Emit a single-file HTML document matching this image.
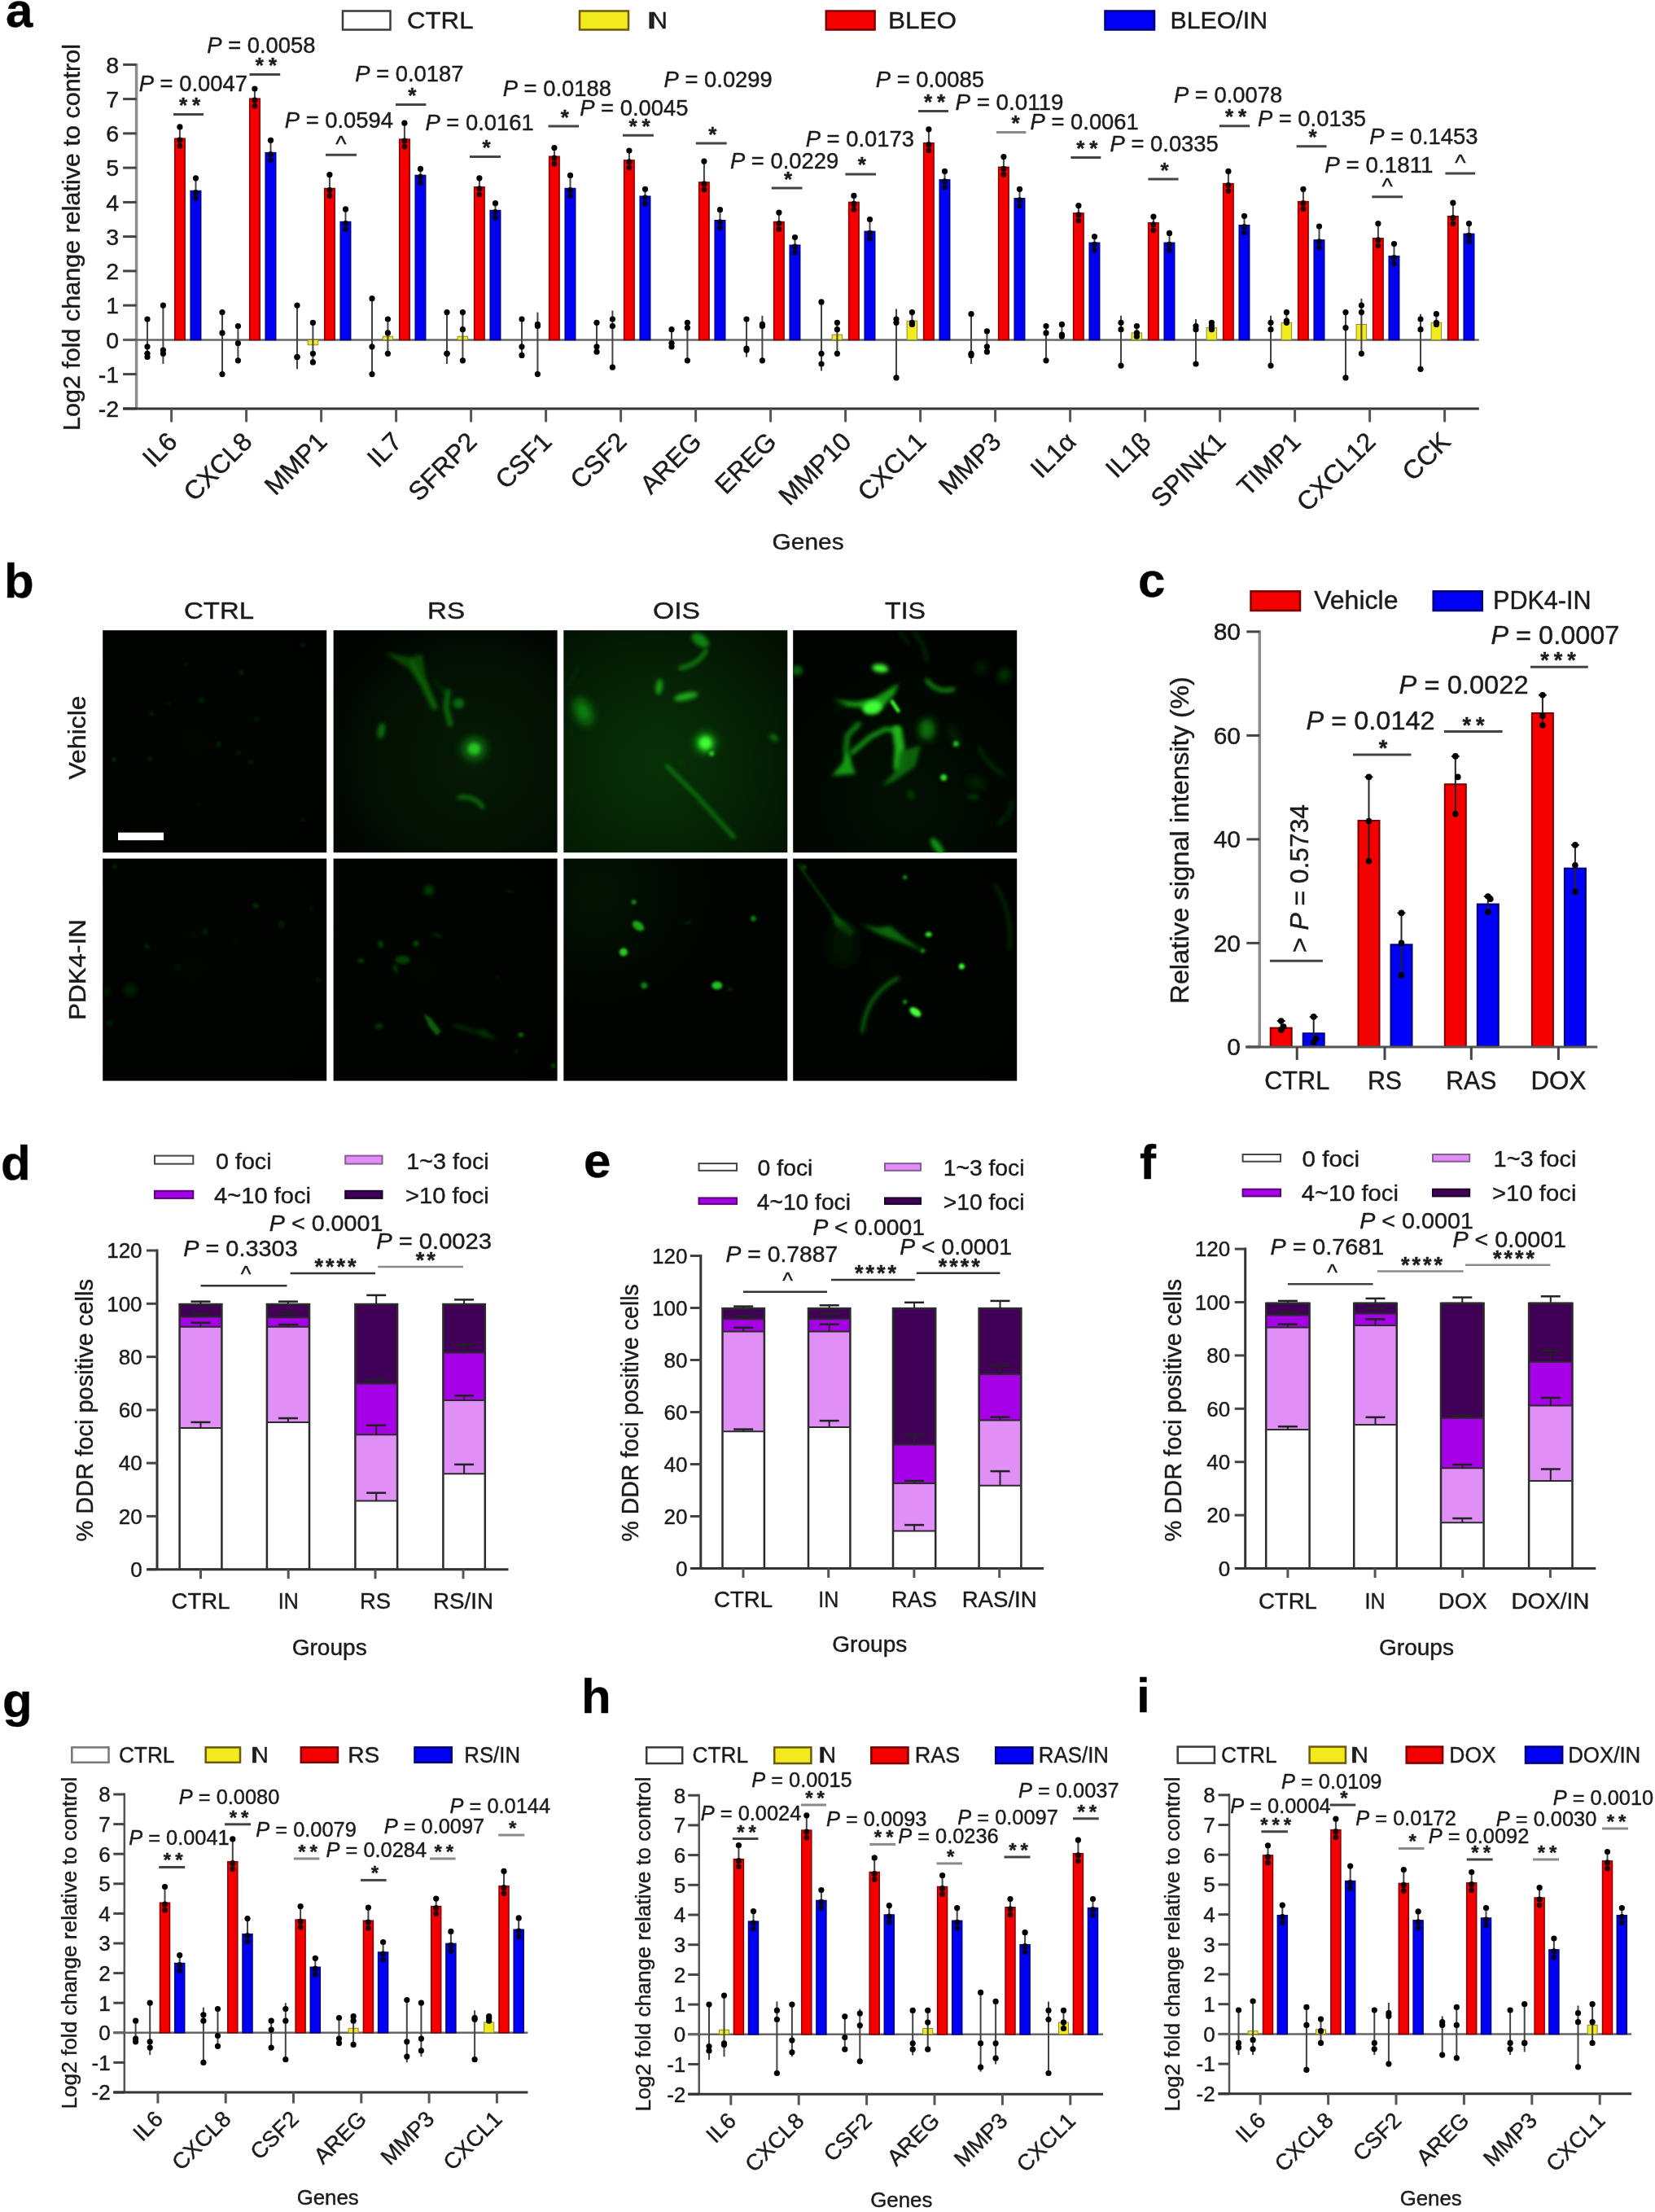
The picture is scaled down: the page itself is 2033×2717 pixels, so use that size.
<!DOCTYPE html>
<html lang="en"><head><meta charset="utf-8"><title>Figure</title>
<style>html,body{margin:0;padding:0;background:#fff}svg{display:block}text{font-family:"Liberation Sans", Arial, sans-serif;stroke:#1a1a1a;stroke-width:.4px}</style></head>
<body>
<svg width="2033" height="2717" viewBox="0 0 2033 2717" style="filter:blur(0.7px)">
<rect width="2033" height="2717" fill="#fff"/>
<line x1="167.6" y1="77.9" x2="167.6" y2="501.9" stroke="#8c8c8c" stroke-width="3.5" stroke-linecap="butt"/>
<line x1="151.1" y1="501.9" x2="167.6" y2="501.9" stroke="#444" stroke-width="3" stroke-linecap="butt"/>
<text x="146.0" y="512.1" font-size="28.5" fill="#1a1a1a" text-anchor="end">-2</text>
<line x1="151.1" y1="459.6" x2="167.6" y2="459.6" stroke="#444" stroke-width="3" stroke-linecap="butt"/>
<text x="146.0" y="469.9" font-size="28.5" fill="#1a1a1a" text-anchor="end">-1</text>
<line x1="151.1" y1="417.4" x2="167.6" y2="417.4" stroke="#444" stroke-width="3" stroke-linecap="butt"/>
<text x="146.0" y="427.6" font-size="28.5" fill="#1a1a1a" text-anchor="end">0</text>
<line x1="151.1" y1="375.1" x2="167.6" y2="375.1" stroke="#444" stroke-width="3" stroke-linecap="butt"/>
<text x="146.0" y="385.4" font-size="28.5" fill="#1a1a1a" text-anchor="end">1</text>
<line x1="151.1" y1="332.9" x2="167.6" y2="332.9" stroke="#444" stroke-width="3" stroke-linecap="butt"/>
<text x="146.0" y="343.1" font-size="28.5" fill="#1a1a1a" text-anchor="end">2</text>
<line x1="151.1" y1="290.6" x2="167.6" y2="290.6" stroke="#444" stroke-width="3" stroke-linecap="butt"/>
<text x="146.0" y="300.9" font-size="28.5" fill="#1a1a1a" text-anchor="end">3</text>
<line x1="151.1" y1="248.4" x2="167.6" y2="248.4" stroke="#444" stroke-width="3" stroke-linecap="butt"/>
<text x="146.0" y="258.6" font-size="28.5" fill="#1a1a1a" text-anchor="end">4</text>
<line x1="151.1" y1="206.1" x2="167.6" y2="206.1" stroke="#444" stroke-width="3" stroke-linecap="butt"/>
<text x="146.0" y="216.4" font-size="28.5" fill="#1a1a1a" text-anchor="end">5</text>
<line x1="151.1" y1="163.9" x2="167.6" y2="163.9" stroke="#444" stroke-width="3" stroke-linecap="butt"/>
<text x="146.0" y="174.1" font-size="28.5" fill="#1a1a1a" text-anchor="end">6</text>
<line x1="151.1" y1="121.6" x2="167.6" y2="121.6" stroke="#444" stroke-width="3" stroke-linecap="butt"/>
<text x="146.0" y="131.9" font-size="28.5" fill="#1a1a1a" text-anchor="end">7</text>
<line x1="151.1" y1="79.4" x2="167.6" y2="79.4" stroke="#444" stroke-width="3" stroke-linecap="butt"/>
<text x="146.0" y="89.6" font-size="28.5" fill="#1a1a1a" text-anchor="end">8</text>
<line x1="151.1" y1="417.4" x2="1816.8" y2="417.4" stroke="#666" stroke-width="2.5" stroke-linecap="butt"/>
<line x1="181.0" y1="392.0" x2="181.0" y2="438.5" stroke="#444" stroke-width="2" stroke-linecap="butt"/>
<circle cx="181.0" cy="392.0" r="3.6" fill="#000"/>
<circle cx="181.0" cy="425.8" r="3.6" fill="#000"/>
<circle cx="181.0" cy="434.3" r="3.6" fill="#000"/>
<circle cx="181.0" cy="438.5" r="3.6" fill="#000"/>
<line x1="200.4" y1="375.1" x2="200.4" y2="447.0" stroke="#444" stroke-width="2" stroke-linecap="butt"/>
<circle cx="200.4" cy="375.1" r="3.6" fill="#000"/>
<circle cx="200.4" cy="430.1" r="3.6" fill="#000"/>
<circle cx="200.4" cy="434.3" r="3.6" fill="#000"/>
<rect x="214.7" y="170.2" width="12.5" height="247.2" fill="#f40000" stroke="#8a0000" stroke-width="1.5"/>
<line x1="220.9" y1="155.9" x2="220.9" y2="170.2" stroke="#444" stroke-width="2" stroke-linecap="butt"/>
<circle cx="220.9" cy="155.9" r="3.6" fill="#000"/>
<circle cx="220.9" cy="172.2" r="3.6" fill="#1a0000"/>
<circle cx="220.9" cy="179.2" r="3.4" fill="#2a0000"/>
<rect x="234.2" y="234.5" width="12.5" height="182.9" fill="#0000f4" stroke="#00008a" stroke-width="1.5"/>
<line x1="240.5" y1="218.8" x2="240.5" y2="234.5" stroke="#444" stroke-width="2" stroke-linecap="butt"/>
<circle cx="240.5" cy="218.8" r="3.6" fill="#000"/>
<circle cx="240.5" cy="236.5" r="3.6" fill="#00001a"/>
<circle cx="240.5" cy="243.5" r="3.4" fill="#00002a"/>
<line x1="213.0" y1="140.5" x2="250.0" y2="140.5" stroke="#444" stroke-width="3" stroke-linecap="butt"/>
<text x="236.0" y="138.0" font-size="26" fill="#1a1a1a" text-anchor="middle" font-weight="bold" letter-spacing="6">**</text>
<text x="170.7" y="111.8" font-size="27" fill="#1a1a1a" textLength="133.2" lengthAdjust="spacingAndGlyphs"><tspan font-style="italic">P</tspan> = 0.0047</text>
<line x1="273.0" y1="383.6" x2="273.0" y2="459.6" stroke="#444" stroke-width="2" stroke-linecap="butt"/>
<circle cx="273.0" cy="383.6" r="3.6" fill="#000"/>
<circle cx="273.0" cy="408.9" r="3.6" fill="#000"/>
<circle cx="273.0" cy="459.6" r="3.6" fill="#000"/>
<line x1="292.4" y1="400.5" x2="292.4" y2="442.8" stroke="#444" stroke-width="2" stroke-linecap="butt"/>
<circle cx="292.4" cy="400.5" r="3.6" fill="#000"/>
<circle cx="292.4" cy="421.6" r="3.6" fill="#000"/>
<circle cx="292.4" cy="442.8" r="3.6" fill="#000"/>
<rect x="306.7" y="121.2" width="12.5" height="296.2" fill="#f40000" stroke="#8a0000" stroke-width="1.5"/>
<line x1="312.9" y1="109.0" x2="312.9" y2="121.2" stroke="#444" stroke-width="2" stroke-linecap="butt"/>
<circle cx="312.9" cy="109.0" r="3.6" fill="#000"/>
<circle cx="312.9" cy="123.2" r="3.6" fill="#1a0000"/>
<circle cx="312.9" cy="130.2" r="3.4" fill="#2a0000"/>
<rect x="326.2" y="187.6" width="12.5" height="229.8" fill="#0000f4" stroke="#00008a" stroke-width="1.5"/>
<line x1="332.5" y1="172.3" x2="332.5" y2="187.6" stroke="#444" stroke-width="2" stroke-linecap="butt"/>
<circle cx="332.5" cy="172.3" r="3.6" fill="#000"/>
<circle cx="332.5" cy="189.6" r="3.6" fill="#00001a"/>
<circle cx="332.5" cy="196.6" r="3.4" fill="#00002a"/>
<line x1="306.5" y1="91.5" x2="344.2" y2="91.5" stroke="#444" stroke-width="3" stroke-linecap="butt"/>
<text x="329.9" y="89.0" font-size="26" fill="#1a1a1a" text-anchor="middle" font-weight="bold" letter-spacing="6">**</text>
<text x="254.3" y="65.4" font-size="27" fill="#1a1a1a" textLength="133.2" lengthAdjust="spacingAndGlyphs"><tspan font-style="italic">P</tspan> = 0.0058</text>
<line x1="365.0" y1="375.1" x2="365.0" y2="453.3" stroke="#444" stroke-width="2" stroke-linecap="butt"/>
<circle cx="365.0" cy="375.1" r="3.6" fill="#000"/>
<circle cx="365.0" cy="438.5" r="3.6" fill="#000"/>
<circle cx="365.0" cy="438.5" r="3.6" fill="#000"/>
<rect x="378.2" y="417.4" width="12.5" height="6.3" fill="#f2ea1d" stroke="#8b8b30" stroke-width="1"/>
<line x1="384.4" y1="396.3" x2="384.4" y2="444.9" stroke="#444" stroke-width="2" stroke-linecap="butt"/>
<circle cx="384.4" cy="396.3" r="3.6" fill="#000"/>
<circle cx="384.4" cy="434.3" r="3.6" fill="#000"/>
<circle cx="384.4" cy="444.9" r="3.6" fill="#000"/>
<rect x="398.7" y="231.5" width="12.5" height="185.9" fill="#f40000" stroke="#8a0000" stroke-width="1.5"/>
<line x1="404.9" y1="214.6" x2="404.9" y2="231.5" stroke="#444" stroke-width="2" stroke-linecap="butt"/>
<circle cx="404.9" cy="214.6" r="3.6" fill="#000"/>
<circle cx="404.9" cy="233.5" r="3.6" fill="#1a0000"/>
<circle cx="404.9" cy="240.5" r="3.4" fill="#2a0000"/>
<rect x="418.2" y="272.5" width="12.5" height="144.9" fill="#0000f4" stroke="#00008a" stroke-width="1.5"/>
<line x1="424.5" y1="256.9" x2="424.5" y2="272.5" stroke="#444" stroke-width="2" stroke-linecap="butt"/>
<circle cx="424.5" cy="256.9" r="3.6" fill="#000"/>
<circle cx="424.5" cy="274.5" r="3.6" fill="#00001a"/>
<circle cx="424.5" cy="281.5" r="3.4" fill="#00002a"/>
<line x1="400.0" y1="190.3" x2="438.0" y2="190.3" stroke="#444" stroke-width="3" stroke-linecap="butt"/>
<text x="419.0" y="186.3" font-size="28.35" fill="#1a1a1a" text-anchor="middle">^</text>
<text x="349.8" y="157.1" font-size="27" fill="#1a1a1a" textLength="133.2" lengthAdjust="spacingAndGlyphs"><tspan font-style="italic">P</tspan> = 0.0594</text>
<line x1="457.0" y1="366.7" x2="457.0" y2="459.6" stroke="#444" stroke-width="2" stroke-linecap="butt"/>
<circle cx="457.0" cy="366.7" r="3.6" fill="#000"/>
<circle cx="457.0" cy="425.8" r="3.6" fill="#000"/>
<circle cx="457.0" cy="459.6" r="3.6" fill="#000"/>
<rect x="470.2" y="413.2" width="12.5" height="4.2" fill="#f2ea1d" stroke="#8b8b30" stroke-width="1"/>
<line x1="476.4" y1="392.0" x2="476.4" y2="434.3" stroke="#444" stroke-width="2" stroke-linecap="butt"/>
<circle cx="476.4" cy="392.0" r="3.6" fill="#000"/>
<circle cx="476.4" cy="408.9" r="3.6" fill="#000"/>
<circle cx="476.4" cy="434.3" r="3.6" fill="#000"/>
<rect x="490.7" y="171.1" width="12.5" height="246.3" fill="#f40000" stroke="#8a0000" stroke-width="1.5"/>
<line x1="496.9" y1="151.2" x2="496.9" y2="171.1" stroke="#444" stroke-width="2" stroke-linecap="butt"/>
<circle cx="496.9" cy="151.2" r="3.6" fill="#000"/>
<circle cx="496.9" cy="173.1" r="3.6" fill="#1a0000"/>
<circle cx="496.9" cy="180.1" r="3.4" fill="#2a0000"/>
<rect x="510.2" y="215.4" width="12.5" height="202.0" fill="#0000f4" stroke="#00008a" stroke-width="1.5"/>
<line x1="516.5" y1="207.4" x2="516.5" y2="215.4" stroke="#444" stroke-width="2" stroke-linecap="butt"/>
<circle cx="516.5" cy="207.4" r="3.6" fill="#000"/>
<circle cx="516.5" cy="217.4" r="3.6" fill="#00001a"/>
<circle cx="516.5" cy="224.4" r="3.4" fill="#00002a"/>
<line x1="486.0" y1="128.4" x2="523.4" y2="128.4" stroke="#444" stroke-width="3" stroke-linecap="butt"/>
<text x="509.2" y="125.9" font-size="26" fill="#1a1a1a" text-anchor="middle" font-weight="bold" letter-spacing="6">*</text>
<text x="436.3" y="99.7" font-size="27" fill="#1a1a1a" textLength="133.2" lengthAdjust="spacingAndGlyphs"><tspan font-style="italic">P</tspan> = 0.0187</text>
<line x1="549.0" y1="383.6" x2="549.0" y2="447.0" stroke="#444" stroke-width="2" stroke-linecap="butt"/>
<circle cx="549.0" cy="383.6" r="3.6" fill="#000"/>
<circle cx="549.0" cy="434.3" r="3.6" fill="#000"/>
<circle cx="549.0" cy="434.3" r="3.6" fill="#000"/>
<rect x="562.1" y="413.2" width="12.5" height="4.2" fill="#f2ea1d" stroke="#8b8b30" stroke-width="1"/>
<line x1="568.4" y1="383.6" x2="568.4" y2="442.8" stroke="#444" stroke-width="2" stroke-linecap="butt"/>
<circle cx="568.4" cy="383.6" r="3.6" fill="#000"/>
<circle cx="568.4" cy="404.7" r="3.6" fill="#000"/>
<circle cx="568.4" cy="442.8" r="3.6" fill="#000"/>
<rect x="582.6" y="229.8" width="12.5" height="187.6" fill="#f40000" stroke="#8a0000" stroke-width="1.5"/>
<line x1="588.9" y1="218.8" x2="588.9" y2="229.8" stroke="#444" stroke-width="2" stroke-linecap="butt"/>
<circle cx="588.9" cy="218.8" r="3.6" fill="#000"/>
<circle cx="588.9" cy="231.8" r="3.6" fill="#1a0000"/>
<circle cx="588.9" cy="238.8" r="3.4" fill="#2a0000"/>
<rect x="602.2" y="258.5" width="12.5" height="158.9" fill="#0000f4" stroke="#00008a" stroke-width="1.5"/>
<line x1="608.5" y1="249.7" x2="608.5" y2="258.5" stroke="#444" stroke-width="2" stroke-linecap="butt"/>
<circle cx="608.5" cy="249.7" r="3.6" fill="#000"/>
<circle cx="608.5" cy="260.5" r="3.6" fill="#00001a"/>
<circle cx="608.5" cy="267.5" r="3.4" fill="#00002a"/>
<line x1="577.0" y1="192.4" x2="615.0" y2="192.4" stroke="#444" stroke-width="3" stroke-linecap="butt"/>
<text x="600.5" y="189.9" font-size="26" fill="#1a1a1a" text-anchor="middle" font-weight="bold" letter-spacing="6">*</text>
<text x="522.5" y="160.1" font-size="27" fill="#1a1a1a" textLength="133.2" lengthAdjust="spacingAndGlyphs"><tspan font-style="italic">P</tspan> = 0.0161</text>
<line x1="641.0" y1="392.0" x2="641.0" y2="436.4" stroke="#444" stroke-width="2" stroke-linecap="butt"/>
<circle cx="641.0" cy="392.0" r="3.6" fill="#000"/>
<circle cx="641.0" cy="425.8" r="3.6" fill="#000"/>
<circle cx="641.0" cy="436.4" r="3.6" fill="#000"/>
<line x1="660.4" y1="383.6" x2="660.4" y2="459.6" stroke="#444" stroke-width="2" stroke-linecap="butt"/>
<circle cx="660.4" cy="398.4" r="3.6" fill="#000"/>
<circle cx="660.4" cy="400.5" r="3.6" fill="#000"/>
<circle cx="660.4" cy="459.6" r="3.6" fill="#000"/>
<rect x="674.6" y="192.2" width="12.5" height="225.2" fill="#f40000" stroke="#8a0000" stroke-width="1.5"/>
<line x1="680.9" y1="181.6" x2="680.9" y2="192.2" stroke="#444" stroke-width="2" stroke-linecap="butt"/>
<circle cx="680.9" cy="181.6" r="3.6" fill="#000"/>
<circle cx="680.9" cy="194.2" r="3.6" fill="#1a0000"/>
<circle cx="680.9" cy="201.2" r="3.4" fill="#2a0000"/>
<rect x="694.2" y="231.5" width="12.5" height="185.9" fill="#0000f4" stroke="#00008a" stroke-width="1.5"/>
<line x1="700.5" y1="215.4" x2="700.5" y2="231.5" stroke="#444" stroke-width="2" stroke-linecap="butt"/>
<circle cx="700.5" cy="215.4" r="3.6" fill="#000"/>
<circle cx="700.5" cy="233.5" r="3.6" fill="#00001a"/>
<circle cx="700.5" cy="240.5" r="3.4" fill="#00002a"/>
<line x1="673.6" y1="155.0" x2="711.0" y2="155.0" stroke="#444" stroke-width="3" stroke-linecap="butt"/>
<text x="696.8" y="152.5" font-size="26" fill="#1a1a1a" text-anchor="middle" font-weight="bold" letter-spacing="6">*</text>
<text x="617.7" y="117.8" font-size="27" fill="#1a1a1a" textLength="133.2" lengthAdjust="spacingAndGlyphs"><tspan font-style="italic">P</tspan> = 0.0188</text>
<line x1="733.0" y1="396.3" x2="733.0" y2="432.2" stroke="#444" stroke-width="2" stroke-linecap="butt"/>
<circle cx="733.0" cy="396.3" r="3.6" fill="#000"/>
<circle cx="733.0" cy="425.8" r="3.6" fill="#000"/>
<circle cx="733.0" cy="432.2" r="3.6" fill="#000"/>
<line x1="752.4" y1="381.5" x2="752.4" y2="451.2" stroke="#444" stroke-width="2" stroke-linecap="butt"/>
<circle cx="752.4" cy="392.0" r="3.6" fill="#000"/>
<circle cx="752.4" cy="400.5" r="3.6" fill="#000"/>
<circle cx="752.4" cy="451.2" r="3.6" fill="#000"/>
<rect x="766.6" y="196.9" width="12.5" height="220.5" fill="#f40000" stroke="#8a0000" stroke-width="1.5"/>
<line x1="772.9" y1="185.0" x2="772.9" y2="196.9" stroke="#444" stroke-width="2" stroke-linecap="butt"/>
<circle cx="772.9" cy="185.0" r="3.6" fill="#000"/>
<circle cx="772.9" cy="198.9" r="3.6" fill="#1a0000"/>
<circle cx="772.9" cy="205.9" r="3.4" fill="#2a0000"/>
<rect x="786.2" y="241.2" width="12.5" height="176.2" fill="#0000f4" stroke="#00008a" stroke-width="1.5"/>
<line x1="792.5" y1="232.3" x2="792.5" y2="241.2" stroke="#444" stroke-width="2" stroke-linecap="butt"/>
<circle cx="792.5" cy="232.3" r="3.6" fill="#000"/>
<circle cx="792.5" cy="243.2" r="3.6" fill="#00001a"/>
<circle cx="792.5" cy="250.2" r="3.4" fill="#00002a"/>
<line x1="765.0" y1="166.2" x2="802.9" y2="166.2" stroke="#444" stroke-width="3" stroke-linecap="butt"/>
<text x="788.5" y="163.7" font-size="26" fill="#1a1a1a" text-anchor="middle" font-weight="bold" letter-spacing="6">**</text>
<text x="712.2" y="142.0" font-size="27" fill="#1a1a1a" textLength="133.2" lengthAdjust="spacingAndGlyphs"><tspan font-style="italic">P</tspan> = 0.0045</text>
<line x1="825.0" y1="404.7" x2="825.0" y2="425.8" stroke="#444" stroke-width="2" stroke-linecap="butt"/>
<circle cx="825.0" cy="404.7" r="3.6" fill="#000"/>
<circle cx="825.0" cy="421.6" r="3.6" fill="#000"/>
<circle cx="825.0" cy="425.8" r="3.6" fill="#000"/>
<line x1="844.4" y1="396.3" x2="844.4" y2="442.8" stroke="#444" stroke-width="2" stroke-linecap="butt"/>
<circle cx="844.4" cy="396.3" r="3.6" fill="#000"/>
<circle cx="844.4" cy="402.6" r="3.6" fill="#000"/>
<circle cx="844.4" cy="442.8" r="3.6" fill="#000"/>
<rect x="858.6" y="223.9" width="12.5" height="193.5" fill="#f40000" stroke="#8a0000" stroke-width="1.5"/>
<line x1="864.9" y1="198.1" x2="864.9" y2="223.9" stroke="#444" stroke-width="2" stroke-linecap="butt"/>
<circle cx="864.9" cy="198.1" r="3.6" fill="#000"/>
<circle cx="864.9" cy="225.9" r="3.6" fill="#1a0000"/>
<circle cx="864.9" cy="232.9" r="3.4" fill="#2a0000"/>
<rect x="878.2" y="270.8" width="12.5" height="146.6" fill="#0000f4" stroke="#00008a" stroke-width="1.5"/>
<line x1="884.5" y1="257.7" x2="884.5" y2="270.8" stroke="#444" stroke-width="2" stroke-linecap="butt"/>
<circle cx="884.5" cy="257.7" r="3.6" fill="#000"/>
<circle cx="884.5" cy="272.8" r="3.6" fill="#00001a"/>
<circle cx="884.5" cy="279.8" r="3.4" fill="#00002a"/>
<line x1="854.8" y1="176.1" x2="892.6" y2="176.1" stroke="#444" stroke-width="3" stroke-linecap="butt"/>
<text x="878.2" y="173.6" font-size="26" fill="#1a1a1a" text-anchor="middle" font-weight="bold" letter-spacing="6">*</text>
<text x="815.6" y="107.2" font-size="27" fill="#1a1a1a" textLength="133.2" lengthAdjust="spacingAndGlyphs"><tspan font-style="italic">P</tspan> = 0.0299</text>
<line x1="917.0" y1="392.0" x2="917.0" y2="438.5" stroke="#444" stroke-width="2" stroke-linecap="butt"/>
<circle cx="917.0" cy="392.0" r="3.6" fill="#000"/>
<circle cx="917.0" cy="428.0" r="3.6" fill="#000"/>
<circle cx="917.0" cy="430.1" r="3.6" fill="#000"/>
<line x1="936.4" y1="387.8" x2="936.4" y2="442.8" stroke="#444" stroke-width="2" stroke-linecap="butt"/>
<circle cx="936.4" cy="398.4" r="3.6" fill="#000"/>
<circle cx="936.4" cy="400.5" r="3.6" fill="#000"/>
<circle cx="936.4" cy="442.8" r="3.6" fill="#000"/>
<rect x="950.6" y="272.5" width="12.5" height="144.9" fill="#f40000" stroke="#8a0000" stroke-width="1.5"/>
<line x1="956.9" y1="261.1" x2="956.9" y2="272.5" stroke="#444" stroke-width="2" stroke-linecap="butt"/>
<circle cx="956.9" cy="261.1" r="3.6" fill="#000"/>
<circle cx="956.9" cy="274.5" r="3.6" fill="#1a0000"/>
<circle cx="956.9" cy="281.5" r="3.4" fill="#2a0000"/>
<rect x="970.2" y="301.2" width="12.5" height="116.2" fill="#0000f4" stroke="#00008a" stroke-width="1.5"/>
<line x1="976.5" y1="291.5" x2="976.5" y2="301.2" stroke="#444" stroke-width="2" stroke-linecap="butt"/>
<circle cx="976.5" cy="291.5" r="3.6" fill="#000"/>
<circle cx="976.5" cy="303.2" r="3.6" fill="#00001a"/>
<circle cx="976.5" cy="310.2" r="3.4" fill="#00002a"/>
<line x1="947.7" y1="231.0" x2="985.5" y2="231.0" stroke="#444" stroke-width="3" stroke-linecap="butt"/>
<text x="971.1" y="228.5" font-size="26" fill="#1a1a1a" text-anchor="middle" font-weight="bold" letter-spacing="6">*</text>
<text x="897.0" y="206.9" font-size="27" fill="#1a1a1a" textLength="133.2" lengthAdjust="spacingAndGlyphs"><tspan font-style="italic">P</tspan> = 0.0229</text>
<line x1="1009.0" y1="370.9" x2="1009.0" y2="455.4" stroke="#444" stroke-width="2" stroke-linecap="butt"/>
<circle cx="1009.0" cy="370.9" r="3.6" fill="#000"/>
<circle cx="1009.0" cy="434.3" r="3.6" fill="#000"/>
<circle cx="1009.0" cy="447.0" r="3.6" fill="#000"/>
<rect x="1022.1" y="411.1" width="12.5" height="6.3" fill="#f2ea1d" stroke="#8b8b30" stroke-width="1"/>
<line x1="1028.4" y1="396.3" x2="1028.4" y2="434.3" stroke="#444" stroke-width="2" stroke-linecap="butt"/>
<circle cx="1028.4" cy="396.3" r="3.6" fill="#000"/>
<circle cx="1028.4" cy="404.7" r="3.6" fill="#000"/>
<circle cx="1028.4" cy="434.3" r="3.6" fill="#000"/>
<rect x="1042.6" y="248.4" width="12.5" height="169.0" fill="#f40000" stroke="#8a0000" stroke-width="1.5"/>
<line x1="1048.9" y1="240.4" x2="1048.9" y2="248.4" stroke="#444" stroke-width="2" stroke-linecap="butt"/>
<circle cx="1048.9" cy="240.4" r="3.6" fill="#000"/>
<circle cx="1048.9" cy="250.4" r="3.6" fill="#1a0000"/>
<circle cx="1048.9" cy="257.4" r="3.4" fill="#2a0000"/>
<rect x="1062.2" y="284.3" width="12.5" height="133.1" fill="#0000f4" stroke="#00008a" stroke-width="1.5"/>
<line x1="1068.5" y1="269.5" x2="1068.5" y2="284.3" stroke="#444" stroke-width="2" stroke-linecap="butt"/>
<circle cx="1068.5" cy="269.5" r="3.6" fill="#000"/>
<circle cx="1068.5" cy="286.3" r="3.6" fill="#00001a"/>
<circle cx="1068.5" cy="293.3" r="3.4" fill="#00002a"/>
<line x1="1038.4" y1="213.9" x2="1076.0" y2="213.9" stroke="#444" stroke-width="3" stroke-linecap="butt"/>
<text x="1061.7" y="211.4" font-size="26" fill="#1a1a1a" text-anchor="middle" font-weight="bold" letter-spacing="6">*</text>
<text x="989.7" y="179.7" font-size="27" fill="#1a1a1a" textLength="133.2" lengthAdjust="spacingAndGlyphs"><tspan font-style="italic">P</tspan> = 0.0173</text>
<line x1="1101.0" y1="379.4" x2="1101.0" y2="463.9" stroke="#444" stroke-width="2" stroke-linecap="butt"/>
<circle cx="1101.0" cy="392.0" r="3.6" fill="#000"/>
<circle cx="1101.0" cy="396.3" r="3.6" fill="#000"/>
<circle cx="1101.0" cy="463.9" r="3.6" fill="#000"/>
<rect x="1114.1" y="394.2" width="12.5" height="23.2" fill="#f2ea1d" stroke="#8b8b30" stroke-width="1"/>
<line x1="1120.4" y1="383.6" x2="1120.4" y2="398.4" stroke="#444" stroke-width="2" stroke-linecap="butt"/>
<circle cx="1120.4" cy="383.6" r="3.6" fill="#000"/>
<circle cx="1120.4" cy="396.3" r="3.6" fill="#000"/>
<circle cx="1120.4" cy="398.4" r="3.6" fill="#000"/>
<rect x="1134.6" y="175.7" width="12.5" height="241.7" fill="#f40000" stroke="#8a0000" stroke-width="1.5"/>
<line x1="1140.9" y1="158.8" x2="1140.9" y2="175.7" stroke="#444" stroke-width="2" stroke-linecap="butt"/>
<circle cx="1140.9" cy="158.8" r="3.6" fill="#000"/>
<circle cx="1140.9" cy="177.7" r="3.6" fill="#1a0000"/>
<circle cx="1140.9" cy="184.7" r="3.4" fill="#2a0000"/>
<rect x="1154.2" y="220.9" width="12.5" height="196.5" fill="#0000f4" stroke="#00008a" stroke-width="1.5"/>
<line x1="1160.5" y1="210.4" x2="1160.5" y2="220.9" stroke="#444" stroke-width="2" stroke-linecap="butt"/>
<circle cx="1160.5" cy="210.4" r="3.6" fill="#000"/>
<circle cx="1160.5" cy="222.9" r="3.6" fill="#00001a"/>
<circle cx="1160.5" cy="229.9" r="3.4" fill="#00002a"/>
<line x1="1128.0" y1="136.6" x2="1165.0" y2="136.6" stroke="#444" stroke-width="3" stroke-linecap="butt"/>
<text x="1151.0" y="134.1" font-size="26" fill="#1a1a1a" text-anchor="middle" font-weight="bold" letter-spacing="6">**</text>
<text x="1075.8" y="107.2" font-size="27" fill="#1a1a1a" textLength="133.2" lengthAdjust="spacingAndGlyphs"><tspan font-style="italic">P</tspan> = 0.0085</text>
<line x1="1193.0" y1="385.7" x2="1193.0" y2="447.0" stroke="#444" stroke-width="2" stroke-linecap="butt"/>
<circle cx="1193.0" cy="385.7" r="3.6" fill="#000"/>
<circle cx="1193.0" cy="434.3" r="3.6" fill="#000"/>
<circle cx="1193.0" cy="436.4" r="3.6" fill="#000"/>
<line x1="1212.4" y1="406.8" x2="1212.4" y2="432.2" stroke="#444" stroke-width="2" stroke-linecap="butt"/>
<circle cx="1212.4" cy="406.8" r="3.6" fill="#000"/>
<circle cx="1212.4" cy="425.8" r="3.6" fill="#000"/>
<circle cx="1212.4" cy="432.2" r="3.6" fill="#000"/>
<rect x="1226.6" y="205.3" width="12.5" height="212.1" fill="#f40000" stroke="#8a0000" stroke-width="1.5"/>
<line x1="1232.9" y1="192.6" x2="1232.9" y2="205.3" stroke="#444" stroke-width="2" stroke-linecap="butt"/>
<circle cx="1232.9" cy="192.6" r="3.6" fill="#000"/>
<circle cx="1232.9" cy="207.3" r="3.6" fill="#1a0000"/>
<circle cx="1232.9" cy="214.3" r="3.4" fill="#2a0000"/>
<rect x="1246.2" y="243.8" width="12.5" height="173.6" fill="#0000f4" stroke="#00008a" stroke-width="1.5"/>
<line x1="1252.5" y1="232.3" x2="1252.5" y2="243.8" stroke="#444" stroke-width="2" stroke-linecap="butt"/>
<circle cx="1252.5" cy="232.3" r="3.6" fill="#000"/>
<circle cx="1252.5" cy="245.8" r="3.6" fill="#00001a"/>
<circle cx="1252.5" cy="252.8" r="3.4" fill="#00002a"/>
<line x1="1223.9" y1="162.5" x2="1260.4" y2="162.5" stroke="#8a8a8a" stroke-width="3" stroke-linecap="butt"/>
<text x="1250.5" y="160.0" font-size="26" fill="#1a1a1a" text-anchor="middle" font-weight="bold" letter-spacing="6">*</text>
<text x="1173.4" y="134.5" font-size="27" fill="#1a1a1a" textLength="133.2" lengthAdjust="spacingAndGlyphs"><tspan font-style="italic">P</tspan> = 0.0119</text>
<line x1="1285.0" y1="400.5" x2="1285.0" y2="442.8" stroke="#444" stroke-width="2" stroke-linecap="butt"/>
<circle cx="1285.0" cy="400.5" r="3.6" fill="#000"/>
<circle cx="1285.0" cy="408.9" r="3.6" fill="#000"/>
<circle cx="1285.0" cy="442.8" r="3.6" fill="#000"/>
<line x1="1304.4" y1="398.4" x2="1304.4" y2="413.2" stroke="#444" stroke-width="2" stroke-linecap="butt"/>
<circle cx="1304.4" cy="398.4" r="3.6" fill="#000"/>
<circle cx="1304.4" cy="411.1" r="3.6" fill="#000"/>
<circle cx="1304.4" cy="413.2" r="3.6" fill="#000"/>
<rect x="1318.6" y="261.9" width="12.5" height="155.5" fill="#f40000" stroke="#8a0000" stroke-width="1.5"/>
<line x1="1324.9" y1="252.6" x2="1324.9" y2="261.9" stroke="#444" stroke-width="2" stroke-linecap="butt"/>
<circle cx="1324.9" cy="252.6" r="3.6" fill="#000"/>
<circle cx="1324.9" cy="263.9" r="3.6" fill="#1a0000"/>
<circle cx="1324.9" cy="270.9" r="3.4" fill="#2a0000"/>
<rect x="1338.2" y="298.3" width="12.5" height="119.1" fill="#0000f4" stroke="#00008a" stroke-width="1.5"/>
<line x1="1344.5" y1="290.6" x2="1344.5" y2="298.3" stroke="#444" stroke-width="2" stroke-linecap="butt"/>
<circle cx="1344.5" cy="290.6" r="3.6" fill="#000"/>
<circle cx="1344.5" cy="300.3" r="3.6" fill="#00001a"/>
<circle cx="1344.5" cy="307.3" r="3.4" fill="#00002a"/>
<line x1="1315.4" y1="193.4" x2="1352.3" y2="193.4" stroke="#444" stroke-width="3" stroke-linecap="butt"/>
<text x="1338.3" y="190.9" font-size="26" fill="#1a1a1a" text-anchor="middle" font-weight="bold" letter-spacing="6">**</text>
<text x="1265.6" y="158.5" font-size="27" fill="#1a1a1a" textLength="133.2" lengthAdjust="spacingAndGlyphs"><tspan font-style="italic">P</tspan> = 0.0061</text>
<line x1="1377.0" y1="387.8" x2="1377.0" y2="449.1" stroke="#444" stroke-width="2" stroke-linecap="butt"/>
<circle cx="1377.0" cy="396.3" r="3.6" fill="#000"/>
<circle cx="1377.0" cy="404.7" r="3.6" fill="#000"/>
<circle cx="1377.0" cy="449.1" r="3.6" fill="#000"/>
<rect x="1390.1" y="408.9" width="12.5" height="8.4" fill="#f2ea1d" stroke="#8b8b30" stroke-width="1"/>
<line x1="1396.4" y1="400.5" x2="1396.4" y2="413.2" stroke="#444" stroke-width="2" stroke-linecap="butt"/>
<circle cx="1396.4" cy="400.5" r="3.6" fill="#000"/>
<circle cx="1396.4" cy="408.9" r="3.6" fill="#000"/>
<circle cx="1396.4" cy="413.2" r="3.6" fill="#000"/>
<rect x="1410.6" y="273.8" width="12.5" height="143.6" fill="#f40000" stroke="#8a0000" stroke-width="1.5"/>
<line x1="1416.9" y1="266.1" x2="1416.9" y2="273.8" stroke="#444" stroke-width="2" stroke-linecap="butt"/>
<circle cx="1416.9" cy="266.1" r="3.6" fill="#000"/>
<circle cx="1416.9" cy="275.8" r="3.6" fill="#1a0000"/>
<circle cx="1416.9" cy="282.8" r="3.4" fill="#2a0000"/>
<rect x="1430.2" y="298.3" width="12.5" height="119.1" fill="#0000f4" stroke="#00008a" stroke-width="1.5"/>
<line x1="1436.5" y1="286.4" x2="1436.5" y2="298.3" stroke="#444" stroke-width="2" stroke-linecap="butt"/>
<circle cx="1436.5" cy="286.4" r="3.6" fill="#000"/>
<circle cx="1436.5" cy="300.3" r="3.6" fill="#00001a"/>
<circle cx="1436.5" cy="307.3" r="3.4" fill="#00002a"/>
<line x1="1410.4" y1="220.0" x2="1447.6" y2="220.0" stroke="#444" stroke-width="3" stroke-linecap="butt"/>
<text x="1433.5" y="217.5" font-size="26" fill="#1a1a1a" text-anchor="middle" font-weight="bold" letter-spacing="6">*</text>
<text x="1363.6" y="185.8" font-size="27" fill="#1a1a1a" textLength="133.2" lengthAdjust="spacingAndGlyphs"><tspan font-style="italic">P</tspan> = 0.0335</text>
<line x1="1469.0" y1="392.0" x2="1469.0" y2="447.0" stroke="#444" stroke-width="2" stroke-linecap="butt"/>
<circle cx="1469.0" cy="400.5" r="3.6" fill="#000"/>
<circle cx="1469.0" cy="404.7" r="3.6" fill="#000"/>
<circle cx="1469.0" cy="447.0" r="3.6" fill="#000"/>
<rect x="1482.1" y="402.6" width="12.5" height="14.8" fill="#f2ea1d" stroke="#8b8b30" stroke-width="1"/>
<line x1="1488.4" y1="396.3" x2="1488.4" y2="404.7" stroke="#444" stroke-width="2" stroke-linecap="butt"/>
<circle cx="1488.4" cy="396.3" r="3.6" fill="#000"/>
<circle cx="1488.4" cy="400.5" r="3.6" fill="#000"/>
<circle cx="1488.4" cy="404.7" r="3.6" fill="#000"/>
<rect x="1502.6" y="225.6" width="12.5" height="191.8" fill="#f40000" stroke="#8a0000" stroke-width="1.5"/>
<line x1="1508.9" y1="210.4" x2="1508.9" y2="225.6" stroke="#444" stroke-width="2" stroke-linecap="butt"/>
<circle cx="1508.9" cy="210.4" r="3.6" fill="#000"/>
<circle cx="1508.9" cy="227.6" r="3.6" fill="#1a0000"/>
<circle cx="1508.9" cy="234.6" r="3.4" fill="#2a0000"/>
<rect x="1522.2" y="276.7" width="12.5" height="140.7" fill="#0000f4" stroke="#00008a" stroke-width="1.5"/>
<line x1="1528.5" y1="265.3" x2="1528.5" y2="276.7" stroke="#444" stroke-width="2" stroke-linecap="butt"/>
<circle cx="1528.5" cy="265.3" r="3.6" fill="#000"/>
<circle cx="1528.5" cy="278.7" r="3.6" fill="#00001a"/>
<circle cx="1528.5" cy="285.7" r="3.4" fill="#00002a"/>
<line x1="1498.0" y1="154.7" x2="1535.0" y2="154.7" stroke="#444" stroke-width="3" stroke-linecap="butt"/>
<text x="1521.0" y="152.2" font-size="26" fill="#1a1a1a" text-anchor="middle" font-weight="bold" letter-spacing="6">**</text>
<text x="1442.0" y="126.3" font-size="27" fill="#1a1a1a" textLength="133.2" lengthAdjust="spacingAndGlyphs"><tspan font-style="italic">P</tspan> = 0.0078</text>
<line x1="1561.0" y1="387.8" x2="1561.0" y2="449.1" stroke="#444" stroke-width="2" stroke-linecap="butt"/>
<circle cx="1561.0" cy="396.3" r="3.6" fill="#000"/>
<circle cx="1561.0" cy="404.7" r="3.6" fill="#000"/>
<circle cx="1561.0" cy="449.1" r="3.6" fill="#000"/>
<rect x="1574.1" y="396.3" width="12.5" height="21.1" fill="#f2ea1d" stroke="#8b8b30" stroke-width="1"/>
<line x1="1580.4" y1="383.6" x2="1580.4" y2="396.3" stroke="#444" stroke-width="2" stroke-linecap="butt"/>
<circle cx="1580.4" cy="383.6" r="3.6" fill="#000"/>
<circle cx="1580.4" cy="394.2" r="3.6" fill="#000"/>
<circle cx="1580.4" cy="396.3" r="3.6" fill="#000"/>
<rect x="1594.6" y="247.6" width="12.5" height="169.8" fill="#f40000" stroke="#8a0000" stroke-width="1.5"/>
<line x1="1600.9" y1="232.3" x2="1600.9" y2="247.6" stroke="#444" stroke-width="2" stroke-linecap="butt"/>
<circle cx="1600.9" cy="232.3" r="3.6" fill="#000"/>
<circle cx="1600.9" cy="249.6" r="3.6" fill="#1a0000"/>
<circle cx="1600.9" cy="256.6" r="3.4" fill="#2a0000"/>
<rect x="1614.2" y="294.9" width="12.5" height="122.5" fill="#0000f4" stroke="#00008a" stroke-width="1.5"/>
<line x1="1620.5" y1="278.0" x2="1620.5" y2="294.9" stroke="#444" stroke-width="2" stroke-linecap="butt"/>
<circle cx="1620.5" cy="278.0" r="3.6" fill="#000"/>
<circle cx="1620.5" cy="296.9" r="3.6" fill="#00001a"/>
<circle cx="1620.5" cy="303.9" r="3.4" fill="#00002a"/>
<line x1="1592.6" y1="179.8" x2="1629.5" y2="179.8" stroke="#444" stroke-width="3" stroke-linecap="butt"/>
<text x="1615.5" y="177.3" font-size="26" fill="#1a1a1a" text-anchor="middle" font-weight="bold" letter-spacing="6">*</text>
<text x="1544.9" y="155.0" font-size="27" fill="#1a1a1a" textLength="133.2" lengthAdjust="spacingAndGlyphs"><tspan font-style="italic">P</tspan> = 0.0135</text>
<line x1="1653.0" y1="383.6" x2="1653.0" y2="463.9" stroke="#444" stroke-width="2" stroke-linecap="butt"/>
<circle cx="1653.0" cy="383.6" r="3.6" fill="#000"/>
<circle cx="1653.0" cy="402.6" r="3.6" fill="#000"/>
<circle cx="1653.0" cy="463.9" r="3.6" fill="#000"/>
<rect x="1666.1" y="398.4" width="12.5" height="19.0" fill="#f2ea1d" stroke="#8b8b30" stroke-width="1"/>
<line x1="1672.4" y1="366.7" x2="1672.4" y2="434.3" stroke="#444" stroke-width="2" stroke-linecap="butt"/>
<circle cx="1672.4" cy="375.1" r="3.6" fill="#000"/>
<circle cx="1672.4" cy="383.6" r="3.6" fill="#000"/>
<circle cx="1672.4" cy="434.3" r="3.6" fill="#000"/>
<rect x="1686.6" y="292.8" width="12.5" height="124.6" fill="#f40000" stroke="#8a0000" stroke-width="1.5"/>
<line x1="1692.9" y1="274.6" x2="1692.9" y2="292.8" stroke="#444" stroke-width="2" stroke-linecap="butt"/>
<circle cx="1692.9" cy="274.6" r="3.6" fill="#000"/>
<circle cx="1692.9" cy="294.8" r="3.6" fill="#1a0000"/>
<circle cx="1692.9" cy="301.8" r="3.4" fill="#2a0000"/>
<rect x="1706.2" y="314.7" width="12.5" height="102.7" fill="#0000f4" stroke="#00008a" stroke-width="1.5"/>
<line x1="1712.5" y1="299.5" x2="1712.5" y2="314.7" stroke="#444" stroke-width="2" stroke-linecap="butt"/>
<circle cx="1712.5" cy="299.5" r="3.6" fill="#000"/>
<circle cx="1712.5" cy="316.7" r="3.6" fill="#00001a"/>
<circle cx="1712.5" cy="323.7" r="3.4" fill="#00002a"/>
<line x1="1685.3" y1="241.7" x2="1723.0" y2="241.7" stroke="#444" stroke-width="3" stroke-linecap="butt"/>
<text x="1704.2" y="237.7" font-size="28.35" fill="#1a1a1a" text-anchor="middle">^</text>
<text x="1627.3" y="211.5" font-size="27" fill="#1a1a1a" textLength="133.2" lengthAdjust="spacingAndGlyphs"><tspan font-style="italic">P</tspan> = 0.1811</text>
<line x1="1745.0" y1="385.7" x2="1745.0" y2="453.3" stroke="#444" stroke-width="2" stroke-linecap="butt"/>
<circle cx="1745.0" cy="392.0" r="3.6" fill="#000"/>
<circle cx="1745.0" cy="404.7" r="3.6" fill="#000"/>
<circle cx="1745.0" cy="453.3" r="3.6" fill="#000"/>
<rect x="1758.1" y="396.3" width="12.5" height="21.1" fill="#f2ea1d" stroke="#8b8b30" stroke-width="1"/>
<line x1="1764.4" y1="385.7" x2="1764.4" y2="398.4" stroke="#444" stroke-width="2" stroke-linecap="butt"/>
<circle cx="1764.4" cy="385.7" r="3.6" fill="#000"/>
<circle cx="1764.4" cy="396.3" r="3.6" fill="#000"/>
<circle cx="1764.4" cy="398.4" r="3.6" fill="#000"/>
<rect x="1778.6" y="265.7" width="12.5" height="151.7" fill="#f40000" stroke="#8a0000" stroke-width="1.5"/>
<line x1="1784.9" y1="249.2" x2="1784.9" y2="265.7" stroke="#444" stroke-width="2" stroke-linecap="butt"/>
<circle cx="1784.9" cy="249.2" r="3.6" fill="#000"/>
<circle cx="1784.9" cy="267.7" r="3.6" fill="#1a0000"/>
<circle cx="1784.9" cy="274.7" r="3.4" fill="#2a0000"/>
<rect x="1798.2" y="287.3" width="12.5" height="130.1" fill="#0000f4" stroke="#00008a" stroke-width="1.5"/>
<line x1="1804.5" y1="274.6" x2="1804.5" y2="287.3" stroke="#444" stroke-width="2" stroke-linecap="butt"/>
<circle cx="1804.5" cy="274.6" r="3.6" fill="#000"/>
<circle cx="1804.5" cy="289.3" r="3.6" fill="#00001a"/>
<circle cx="1804.5" cy="296.3" r="3.4" fill="#00002a"/>
<line x1="1775.4" y1="213.0" x2="1812.2" y2="213.0" stroke="#444" stroke-width="3" stroke-linecap="butt"/>
<text x="1793.8" y="209.0" font-size="28.35" fill="#1a1a1a" text-anchor="middle">^</text>
<text x="1682.3" y="176.7" font-size="27" fill="#1a1a1a" textLength="133.2" lengthAdjust="spacingAndGlyphs"><tspan font-style="italic">P</tspan> = 0.1453</text>
<line x1="151.1" y1="501.9" x2="1816.8" y2="501.9" stroke="#333" stroke-width="3" stroke-linecap="butt"/>
<line x1="210.6" y1="501.9" x2="210.6" y2="518.4" stroke="#555" stroke-width="3" stroke-linecap="butt"/>
<text x="0" y="0" font-size="32" fill="#1a1a1a" text-anchor="end" transform="translate(219.6 544.4) rotate(-45)">IL6</text>
<line x1="302.6" y1="501.9" x2="302.6" y2="518.4" stroke="#555" stroke-width="3" stroke-linecap="butt"/>
<text x="0" y="0" font-size="32" fill="#1a1a1a" text-anchor="end" transform="translate(311.6 544.4) rotate(-45)">CXCL8</text>
<line x1="394.6" y1="501.9" x2="394.6" y2="518.4" stroke="#555" stroke-width="3" stroke-linecap="butt"/>
<text x="0" y="0" font-size="32" fill="#1a1a1a" text-anchor="end" transform="translate(403.6 544.4) rotate(-45)">MMP1</text>
<line x1="486.6" y1="501.9" x2="486.6" y2="518.4" stroke="#555" stroke-width="3" stroke-linecap="butt"/>
<text x="0" y="0" font-size="32" fill="#1a1a1a" text-anchor="end" transform="translate(495.6 544.4) rotate(-45)">IL7</text>
<line x1="578.6" y1="501.9" x2="578.6" y2="518.4" stroke="#555" stroke-width="3" stroke-linecap="butt"/>
<text x="0" y="0" font-size="32" fill="#1a1a1a" text-anchor="end" transform="translate(587.6 544.4) rotate(-45)">SFRP2</text>
<line x1="670.6" y1="501.9" x2="670.6" y2="518.4" stroke="#555" stroke-width="3" stroke-linecap="butt"/>
<text x="0" y="0" font-size="32" fill="#1a1a1a" text-anchor="end" transform="translate(679.6 544.4) rotate(-45)">CSF1</text>
<line x1="762.6" y1="501.9" x2="762.6" y2="518.4" stroke="#555" stroke-width="3" stroke-linecap="butt"/>
<text x="0" y="0" font-size="32" fill="#1a1a1a" text-anchor="end" transform="translate(771.6 544.4) rotate(-45)">CSF2</text>
<line x1="854.6" y1="501.9" x2="854.6" y2="518.4" stroke="#555" stroke-width="3" stroke-linecap="butt"/>
<text x="0" y="0" font-size="32" fill="#1a1a1a" text-anchor="end" transform="translate(863.6 544.4) rotate(-45)">AREG</text>
<line x1="946.6" y1="501.9" x2="946.6" y2="518.4" stroke="#555" stroke-width="3" stroke-linecap="butt"/>
<text x="0" y="0" font-size="32" fill="#1a1a1a" text-anchor="end" transform="translate(955.6 544.4) rotate(-45)">EREG</text>
<line x1="1038.6" y1="501.9" x2="1038.6" y2="518.4" stroke="#555" stroke-width="3" stroke-linecap="butt"/>
<text x="0" y="0" font-size="32" fill="#1a1a1a" text-anchor="end" transform="translate(1047.6 544.4) rotate(-45)">MMP10</text>
<line x1="1130.6" y1="501.9" x2="1130.6" y2="518.4" stroke="#555" stroke-width="3" stroke-linecap="butt"/>
<text x="0" y="0" font-size="32" fill="#1a1a1a" text-anchor="end" transform="translate(1139.6 544.4) rotate(-45)">CXCL1</text>
<line x1="1222.6" y1="501.9" x2="1222.6" y2="518.4" stroke="#555" stroke-width="3" stroke-linecap="butt"/>
<text x="0" y="0" font-size="32" fill="#1a1a1a" text-anchor="end" transform="translate(1231.6 544.4) rotate(-45)">MMP3</text>
<line x1="1314.6" y1="501.9" x2="1314.6" y2="518.4" stroke="#555" stroke-width="3" stroke-linecap="butt"/>
<text x="0" y="0" font-size="32" fill="#1a1a1a" text-anchor="end" transform="translate(1323.6 544.4) rotate(-45)">IL1α</text>
<line x1="1406.6" y1="501.9" x2="1406.6" y2="518.4" stroke="#555" stroke-width="3" stroke-linecap="butt"/>
<text x="0" y="0" font-size="32" fill="#1a1a1a" text-anchor="end" transform="translate(1415.6 544.4) rotate(-45)">IL1β</text>
<line x1="1498.6" y1="501.9" x2="1498.6" y2="518.4" stroke="#555" stroke-width="3" stroke-linecap="butt"/>
<text x="0" y="0" font-size="32" fill="#1a1a1a" text-anchor="end" transform="translate(1507.6 544.4) rotate(-45)">SPINK1</text>
<line x1="1590.6" y1="501.9" x2="1590.6" y2="518.4" stroke="#555" stroke-width="3" stroke-linecap="butt"/>
<text x="0" y="0" font-size="32" fill="#1a1a1a" text-anchor="end" transform="translate(1599.6 544.4) rotate(-45)">TIMP1</text>
<line x1="1682.6" y1="501.9" x2="1682.6" y2="518.4" stroke="#555" stroke-width="3" stroke-linecap="butt"/>
<text x="0" y="0" font-size="32" fill="#1a1a1a" text-anchor="end" transform="translate(1691.6 544.4) rotate(-45)">CXCL12</text>
<line x1="1774.6" y1="501.9" x2="1774.6" y2="518.4" stroke="#555" stroke-width="3" stroke-linecap="butt"/>
<text x="0" y="0" font-size="32" fill="#1a1a1a" text-anchor="end" transform="translate(1783.6 544.4) rotate(-45)">CCK</text>
<rect x="421.0" y="13.5" width="58.5" height="23.0" fill="#fff" stroke="#3a3a3a" stroke-width="2.5"/>
<text x="500.0" y="34.8" font-size="30" fill="#1a1a1a" textLength="81.5" lengthAdjust="spacingAndGlyphs">CTRL</text>
<rect x="712.0" y="13.5" width="60.0" height="23.0" fill="#f2ea1d" stroke="#6b5a10" stroke-width="2.5"/>
<text x="794.9" y="34.8" font-size="30" fill="#1a1a1a" letter-spacing="-5">IN</text>
<rect x="1014.8" y="13.5" width="59.8" height="23.0" fill="#f40000" stroke="#7a0000" stroke-width="2.5"/>
<text x="1091.0" y="34.8" font-size="30" fill="#1a1a1a" textLength="84.0" lengthAdjust="spacingAndGlyphs">BLEO</text>
<rect x="1357.5" y="13.5" width="60.5" height="23.0" fill="#0000f4" stroke="#00007a" stroke-width="2.5"/>
<text x="1437.6" y="34.8" font-size="30" fill="#1a1a1a" textLength="119.4" lengthAdjust="spacingAndGlyphs">BLEO/IN</text>
<text x="0" y="0" font-size="29" fill="#1a1a1a" text-anchor="middle" textLength="475.0" lengthAdjust="spacingAndGlyphs" transform="translate(98.0 291.5) rotate(-90)">Log2 fold change relative to control</text>
<text x="992.6" y="675.0" font-size="28.5" fill="#1a1a1a" text-anchor="middle" textLength="88.0" lengthAdjust="spacingAndGlyphs">Genes</text>
<text x="7.0" y="32.6" font-size="60" fill="#000" font-weight="bold">a</text>
<defs><filter id="b1" filterUnits="userSpaceOnUse" x="-40" y="-40" width="360" height="360"><feGaussianBlur stdDeviation="1.7"/></filter><filter id="b2" filterUnits="userSpaceOnUse" x="-40" y="-40" width="360" height="360"><feGaussianBlur stdDeviation="2.8"/></filter><filter id="b3" filterUnits="userSpaceOnUse" x="-40" y="-40" width="360" height="360"><feGaussianBlur stdDeviation="5"/></filter><filter id="b4" filterUnits="userSpaceOnUse" x="-40" y="-40" width="360" height="360"><feGaussianBlur stdDeviation="9"/></filter><radialGradient id="bgRS" cx="62%" cy="58%" r="70%"><stop offset="0" stop-color="#051a05"/><stop offset="0.6" stop-color="#031003"/><stop offset="1" stop-color="#010501"/></radialGradient><radialGradient id="bgOIS" cx="42%" cy="60%" r="75%"><stop offset="0" stop-color="#073007"/><stop offset="0.55" stop-color="#052205"/><stop offset="1" stop-color="#021002"/></radialGradient><radialGradient id="bgTIS" cx="50%" cy="75%" r="70%"><stop offset="0" stop-color="#021002"/><stop offset="1" stop-color="#000300"/></radialGradient><radialGradient id="bgDK" cx="40%" cy="50%" r="70%"><stop offset="0" stop-color="#010601"/><stop offset="1" stop-color="#000200"/></radialGradient><radialGradient id="bgO2" cx="15%" cy="15%" r="60%"><stop offset="0" stop-color="#031203"/><stop offset="1" stop-color="#000300"/></radialGradient></defs>
<text x="269.0" y="760.0" font-size="29.5" fill="#1a1a1a" text-anchor="middle" textLength="86.0" lengthAdjust="spacingAndGlyphs">CTRL</text>
<text x="548.0" y="760.0" font-size="29.5" fill="#1a1a1a" text-anchor="middle" textLength="46.0" lengthAdjust="spacingAndGlyphs">RS</text>
<text x="831.0" y="760.0" font-size="29.5" fill="#1a1a1a" text-anchor="middle" textLength="58.0" lengthAdjust="spacingAndGlyphs">OIS</text>
<text x="1112.0" y="760.0" font-size="29.5" fill="#1a1a1a" text-anchor="middle" textLength="50.0" lengthAdjust="spacingAndGlyphs">TIS</text>
<text x="0" y="0" font-size="29" fill="#1a1a1a" text-anchor="middle" textLength="103.0" lengthAdjust="spacingAndGlyphs" transform="translate(104.5 906.0) rotate(-90)">Vehicle</text>
<text x="0" y="0" font-size="29" fill="#1a1a1a" text-anchor="middle" textLength="124.0" lengthAdjust="spacingAndGlyphs" transform="translate(104.5 1191.0) rotate(-90)">PDK4-IN</text>
<text x="5.0" y="734.0" font-size="60" fill="#000" font-weight="bold">b</text>
<clipPath id="cp00"><rect x="126.2" y="774.2" width="275" height="273"/></clipPath>
<rect x="126.2" y="774.2" width="275" height="273" fill="url(#bgDK)"/>
<g clip-path="url(#cp00)"><g transform="translate(126.2 774.2)">
<ellipse cx="170.1" cy="51.9" rx="2.5" ry="2.5" fill="rgb(3,56,2)" opacity="0.8" filter="url(#b1)" transform="rotate(0 170.1 51.9)"/>
<ellipse cx="121.5" cy="85.8" rx="4" ry="4" fill="rgb(1,32,0)" opacity="0.8" filter="url(#b1)" transform="rotate(0 121.5 85.8)"/>
<ellipse cx="60.1" cy="102.7" rx="2.5" ry="2.5" fill="rgb(2,48,1)" opacity="0.8" filter="url(#b1)" transform="rotate(0 60.1 102.7)"/>
<ellipse cx="189.1" cy="109.0" rx="3" ry="3" fill="rgb(1,32,0)" opacity="0.8" filter="url(#b1)" transform="rotate(0 189.1 109.0)"/>
<ellipse cx="142.6" cy="139.9" rx="3" ry="3" fill="rgb(1,40,1)" opacity="0.8" filter="url(#b1)" transform="rotate(0 142.6 139.9)"/>
<ellipse cx="13.6" cy="158.5" rx="2.5" ry="2.5" fill="rgb(4,64,3)" opacity="0.8" filter="url(#b1)" transform="rotate(0 13.6 158.5)"/>
<ellipse cx="58.0" cy="157.7" rx="2.5" ry="2.5" fill="rgb(2,48,1)" opacity="0.8" filter="url(#b1)" transform="rotate(0 58.0 157.7)"/>
<ellipse cx="167.1" cy="151.3" rx="2.5" ry="2.5" fill="rgb(1,40,1)" opacity="0.8" filter="url(#b1)" transform="rotate(0 167.1 151.3)"/>
<ellipse cx="182.8" cy="161.9" rx="3" ry="3" fill="rgb(1,32,0)" opacity="0.8" filter="url(#b1)" transform="rotate(0 182.8 161.9)"/>
<ellipse cx="246.3" cy="18.1" rx="3" ry="3" fill="rgb(1,32,0)" opacity="0.8" filter="url(#b1)" transform="rotate(0 246.3 18.1)"/>
<ellipse cx="117.2" cy="212.7" rx="2.5" ry="2.5" fill="rgb(0,24,0)" opacity="0.8" filter="url(#b1)" transform="rotate(0 117.2 212.7)"/>
<ellipse cx="246.3" cy="231.7" rx="3" ry="3" fill="rgb(0,24,0)" opacity="0.8" filter="url(#b1)" transform="rotate(0 246.3 231.7)"/>
<ellipse cx="102.4" cy="41.4" rx="3" ry="3" fill="rgb(0,19,0)" opacity="0.8" filter="url(#b1)" transform="rotate(0 102.4 41.4)"/>
<ellipse cx="81.3" cy="90.0" rx="3" ry="3" fill="rgb(0,19,0)" opacity="0.8" filter="url(#b1)" transform="rotate(0 81.3 90.0)"/>
</g></g>
<rect x="145.0" y="1022.6" width="56.0" height="9.5" fill="#fff"/>
<clipPath id="cp10"><rect x="409.6" y="774.2" width="275" height="273"/></clipPath>
<rect x="409.6" y="774.2" width="275" height="273" fill="url(#bgRS)"/>
<g clip-path="url(#cp10)"><g transform="translate(409.6 774.2)">
<polygon points="62.4,27.4 95.7,33.3 109.0,28.8 113.2,56.1 127.9,95.4 120.9,98.9 106.9,68.4 92.8,47.3" fill="rgb(8,91,6)" opacity="0.75" filter="url(#b2)"/>
<path d="M95.7 38.6 L111.4 66.6 L125.4 94.7" fill="none" stroke="rgb(12,112,10)" stroke-width="5" stroke-linecap="round" stroke-linejoin="round" opacity="0.6" filter="url(#b2)"/>
<path d="M140.5 75.4 L138.4 94.7 L143.3 115.0" fill="none" stroke="rgb(14,120,12)" stroke-width="7" stroke-linecap="round" stroke-linejoin="round" opacity="0.8" filter="url(#b2)"/>
<path d="M123.7 61.4 L137.7 77.1" fill="none" stroke="rgb(6,80,5)" stroke-width="3" stroke-linecap="round" stroke-linejoin="round" opacity="0.6" filter="url(#b2)"/>
<ellipse cx="153.8" cy="89.8" rx="7" ry="6.5" fill="rgb(14,120,12)" opacity="0.85" filter="url(#b2)" transform="rotate(0 153.8 89.8)"/>
<ellipse cx="58.8" cy="123.4" rx="4.5" ry="10" fill="rgb(17,133,15)" opacity="0.8" filter="url(#b2)" transform="rotate(10 58.8 123.4)"/>
<ellipse cx="172.8" cy="145.5" rx="17" ry="16" fill="rgb(8,93,7)" opacity="0.9" filter="url(#b3)" transform="rotate(0 172.8 145.5)"/>
<ellipse cx="172.8" cy="145.5" rx="8" ry="7.5" fill="rgb(39,200,33)" opacity="1" filter="url(#b2)" transform="rotate(0 172.8 145.5)"/>
<path d="M154.5 205.1 Q174.5 203.3 183.3 217.3" fill="none" stroke="rgb(17,133,15)" stroke-width="5" stroke-linecap="round" opacity="0.8" filter="url(#b2)"/>
</g></g>
<clipPath id="cp20"><rect x="692.3" y="774.2" width="275" height="273"/></clipPath>
<rect x="692.3" y="774.2" width="275" height="273" fill="url(#bgOIS)"/>
<g clip-path="url(#cp20)"><g transform="translate(692.3 774.2)">
<ellipse cx="167.9" cy="12.3" rx="12" ry="7" fill="rgb(21,147,18)" opacity="0.85" filter="url(#b2)" transform="rotate(35 167.9 12.3)"/>
<path d="M143.7 46.3 Q165.4 42.1 174.9 25.3" fill="none" stroke="rgb(21,147,18)" stroke-width="5" stroke-linecap="round" opacity="0.85" filter="url(#b2)"/>
<ellipse cx="117.4" cy="69.4" rx="4" ry="10" fill="rgb(29,174,25)" opacity="0.9" filter="url(#b2)" transform="rotate(8 117.4 69.4)"/>
<ellipse cx="150.3" cy="81.3" rx="15" ry="4.5" fill="rgb(34,187,29)" opacity="0.9" filter="url(#b2)" transform="rotate(-12 150.3 81.3)"/>
<ellipse cx="24.2" cy="99.9" rx="12" ry="19" fill="rgb(11,107,9)" opacity="0.9" filter="url(#b3)" transform="rotate(-25 24.2 99.9)"/>
<ellipse cx="24.2" cy="99.9" rx="6" ry="9" fill="rgb(17,133,15)" opacity="0.7" filter="url(#b2)" transform="rotate(-25 24.2 99.9)"/>
<path d="M5.9 66.6 L18.2 45.6" fill="none" stroke="rgb(6,80,5)" stroke-width="2" stroke-linecap="round" stroke-linejoin="round" opacity="0.6" filter="url(#b2)"/>
<ellipse cx="174.2" cy="138.5" rx="14" ry="14" fill="rgb(17,133,15)" opacity="1" filter="url(#b3)" transform="rotate(0 174.2 138.5)"/>
<ellipse cx="174.2" cy="138.5" rx="8" ry="8" fill="rgb(63,254,54)" opacity="1" filter="url(#b2)" transform="rotate(0 174.2 138.5)"/>
<ellipse cx="181.9" cy="151.4" rx="3" ry="3" fill="rgb(44,214,38)" opacity="1" filter="url(#b1)" transform="rotate(0 181.9 151.4)"/>
<ellipse cx="258.3" cy="131.8" rx="6" ry="3.5" fill="rgb(17,133,15)" opacity="0.9" filter="url(#b2)" transform="rotate(35 258.3 131.8)"/>
<path d="M126.9 166.5 L163.7 203.3 L209.2 254.1" fill="none" stroke="rgb(17,133,15)" stroke-width="5" stroke-linecap="round" stroke-linejoin="round" opacity="0.8" filter="url(#b2)"/>
<ellipse cx="144.4" cy="163.0" rx="3" ry="3" fill="rgb(6,80,5)" opacity="0.7" filter="url(#b2)" transform="rotate(0 144.4 163.0)"/>
</g></g>
<clipPath id="cp30"><rect x="974.2" y="774.2" width="275" height="273"/></clipPath>
<rect x="974.2" y="774.2" width="275" height="273" fill="url(#bgTIS)"/>
<g clip-path="url(#cp30)"><g transform="translate(974.2 774.2)">
<ellipse cx="5.0" cy="49.4" rx="7" ry="6" fill="rgb(11,107,9)" opacity="0.9" filter="url(#b2)" transform="rotate(0 5.0 49.4)"/>
<ellipse cx="107.1" cy="46.7" rx="10" ry="5" fill="rgb(63,254,54)" opacity="1" filter="url(#b2)" transform="rotate(8 107.1 46.7)"/>
<polygon points="48.5,84.8 76.6,87.9 98.4,83.9 113.8,74.8 130.1,64.8 124.7,78.4 112.0,92.9 102.9,102.0 92.9,100.6 83.9,95.1 63.9,93.3 44.0,100.6 65.8,91.5" fill="rgb(25,160,21)" opacity="0.95" filter="url(#b2)"/>
<ellipse cx="97.5" cy="94.8" rx="12" ry="8" fill="rgb(63,254,54)" opacity="1" filter="url(#b2)" transform="rotate(-15 97.5 94.8)"/>
<path d="M121.6 87.5 L129.2 98.7" fill="none" stroke="rgb(63,254,54)" stroke-width="4.5" stroke-linecap="round" stroke-linejoin="round" opacity="1" filter="url(#b1)"/>
<path d="M164.5 61.8 Q176.3 77.5 196.6 72.6" fill="none" stroke="rgb(25,160,21)" stroke-width="5" stroke-linecap="round" opacity="0.85" filter="url(#b2)"/>
<ellipse cx="164.5" cy="121.9" rx="10" ry="13" fill="rgb(14,120,12)" opacity="0.95" filter="url(#b3)" transform="rotate(0 164.5 121.9)"/>
<path d="M80.3 115.6 L66.7 129.2 L64.8 149.1 L67.6 160.0" fill="none" stroke="rgb(17,133,15)" stroke-width="7" stroke-linecap="round" stroke-linejoin="round" opacity="0.85" filter="url(#b2)"/>
<polygon points="66.7,149.1 76.6,176.3 47.6,178.5 60.3,163.6" fill="rgb(25,160,21)" opacity="0.95" filter="url(#b2)"/>
<path d="M72.6 150.0 L94.8 131.0 L112.9 121.6 L128.3 122.3" fill="none" stroke="rgb(25,160,21)" stroke-width="6" stroke-linecap="round" stroke-linejoin="round" opacity="0.9" filter="url(#b2)"/>
<path d="M127.7 122.8 L131.0 143.7 L129.6 167.3" fill="none" stroke="rgb(34,187,29)" stroke-width="12" stroke-linecap="round" stroke-linejoin="round" opacity="0.95" filter="url(#b2)"/>
<polygon points="131.0,149.1 157.3,141.0 150.0,167.3 124.7,185.4 108.3,191.7 127.4,170.9" fill="rgb(11,107,9)" opacity="0.9" filter="url(#b2)"/>
<ellipse cx="200.2" cy="139.2" rx="3.5" ry="3.5" fill="rgb(50,227,43)" opacity="1" filter="url(#b1)" transform="rotate(0 200.2 139.2)"/>
<ellipse cx="185.0" cy="180.9" rx="4" ry="4" fill="rgb(44,214,38)" opacity="1" filter="url(#b1)" transform="rotate(0 185.0 180.9)"/>
<path d="M194.4 120.1 L203.5 141.9" fill="none" stroke="rgb(4,66,3)" stroke-width="5" stroke-linecap="round" stroke-linejoin="round" opacity="0.8" filter="url(#b3)"/>
<path d="M228.9 143.7 Q237.9 165.4 257.9 176.3" fill="none" stroke="rgb(4,66,3)" stroke-width="4" stroke-linecap="round" opacity="0.7" filter="url(#b2)"/>
<ellipse cx="259.7" cy="54.9" rx="6" ry="8" fill="rgb(6,80,5)" opacity="0.9" filter="url(#b3)" transform="rotate(20 259.7 54.9)"/>
<ellipse cx="231.6" cy="45.8" rx="6" ry="7" fill="rgb(2,53,2)" opacity="0.8" filter="url(#b3)" transform="rotate(0 231.6 45.8)"/>
<ellipse cx="177.2" cy="266.0" rx="5" ry="13" fill="rgb(25,160,21)" opacity="0.9" filter="url(#b2)" transform="rotate(-35 177.2 266.0)"/>
<ellipse cx="144.6" cy="201.7" rx="4" ry="6" fill="rgb(6,80,5)" opacity="0.8" filter="url(#b2)" transform="rotate(-30 144.6 201.7)"/>
<ellipse cx="221.6" cy="204.4" rx="8" ry="3" fill="rgb(4,66,3)" opacity="0.8" filter="url(#b2)" transform="rotate(0 221.6 204.4)"/>
<ellipse cx="225.3" cy="187.2" rx="12" ry="5" fill="rgb(2,53,2)" opacity="0.8" filter="url(#b3)" transform="rotate(20 225.3 187.2)"/>
<path d="M149.1 2.3 L160.0 18.6 L164.5 36.8" fill="none" stroke="rgb(4,66,3)" stroke-width="4" stroke-linecap="round" stroke-linejoin="round" opacity="0.7" filter="url(#b2)"/>
<path d="M131.0 2.3 L141.9 16.8" fill="none" stroke="rgb(2,53,2)" stroke-width="4" stroke-linecap="round" stroke-linejoin="round" opacity="0.6" filter="url(#b2)"/>
<path d="M268.8 210.8 Q267.9 225.3 252.4 237.9" fill="none" stroke="rgb(3,58,2)" stroke-width="4" stroke-linecap="round" opacity="0.7" filter="url(#b2)"/>
</g></g>
<clipPath id="cp01"><rect x="126.2" y="1054.6" width="275" height="273"/></clipPath>
<rect x="126.2" y="1054.6" width="275" height="273" fill="url(#bgDK)"/>
<g clip-path="url(#cp01)"><g transform="translate(126.2 1054.6)">
<ellipse cx="14.6" cy="10.2" rx="3" ry="3" fill="rgb(1,40,1)" opacity="0.8" filter="url(#b1)" transform="rotate(0 14.6 10.2)"/>
<ellipse cx="187.9" cy="58.0" rx="3.5" ry="3.5" fill="rgb(2,48,1)" opacity="0.8" filter="url(#b1)" transform="rotate(0 187.9 58.0)"/>
<ellipse cx="219.8" cy="80.5" rx="4" ry="4" fill="rgb(1,40,1)" opacity="0.8" filter="url(#b1)" transform="rotate(0 219.8 80.5)"/>
<ellipse cx="256.1" cy="61.6" rx="2.5" ry="2.5" fill="rgb(1,32,0)" opacity="0.8" filter="url(#b1)" transform="rotate(0 256.1 61.6)"/>
<ellipse cx="125.6" cy="89.9" rx="4" ry="4" fill="rgb(1,35,1)" opacity="0.8" filter="url(#b1)" transform="rotate(0 125.6 89.9)"/>
<ellipse cx="54.5" cy="108.1" rx="3" ry="3" fill="rgb(2,48,1)" opacity="0.8" filter="url(#b1)" transform="rotate(0 54.5 108.1)"/>
<ellipse cx="91.8" cy="133.4" rx="4" ry="4" fill="rgb(0,24,0)" opacity="0.8" filter="url(#b1)" transform="rotate(0 91.8 133.4)"/>
<ellipse cx="33.8" cy="161.4" rx="8" ry="8" fill="rgb(1,32,0)" opacity="0.8" filter="url(#b2)" transform="rotate(0 33.8 161.4)"/>
<ellipse cx="4.8" cy="163.2" rx="5" ry="5" fill="rgb(1,32,0)" opacity="0.8" filter="url(#b2)" transform="rotate(0 4.8 163.2)"/>
<ellipse cx="264.1" cy="148.7" rx="3" ry="3" fill="rgb(1,40,1)" opacity="0.8" filter="url(#b1)" transform="rotate(0 264.1 148.7)"/>
<ellipse cx="8.4" cy="202.3" rx="4" ry="4" fill="rgb(1,32,0)" opacity="0.8" filter="url(#b1)" transform="rotate(0 8.4 202.3)"/>
<ellipse cx="162.5" cy="102.3" rx="4" ry="4" fill="rgb(0,16,0)" opacity="0.8" filter="url(#b1)" transform="rotate(0 162.5 102.3)"/>
<ellipse cx="111.8" cy="94.3" rx="3" ry="3" fill="rgb(0,24,0)" opacity="0.8" filter="url(#b1)" transform="rotate(0 111.8 94.3)"/>
</g></g>
<clipPath id="cp11"><rect x="409.6" y="1054.6" width="275" height="273"/></clipPath>
<rect x="409.6" y="1054.6" width="275" height="273" fill="url(#bgDK)"/>
<g clip-path="url(#cp11)"><g transform="translate(409.6 1054.6)">
<ellipse cx="117.1" cy="38.8" rx="6" ry="6" fill="rgb(5,74,4)" opacity="0.9" filter="url(#b2)" transform="rotate(0 117.1 38.8)"/>
<ellipse cx="58.0" cy="105.2" rx="3" ry="5" fill="rgb(5,74,4)" opacity="0.85" filter="url(#b1)" transform="rotate(-20 58.0 105.2)"/>
<ellipse cx="101.5" cy="104.1" rx="3.5" ry="3.5" fill="rgb(6,84,5)" opacity="0.85" filter="url(#b1)" transform="rotate(0 101.5 104.1)"/>
<ellipse cx="33.7" cy="125.1" rx="4" ry="3" fill="rgb(4,65,3)" opacity="0.85" filter="url(#b1)" transform="rotate(0 33.7 125.1)"/>
<ellipse cx="85.2" cy="124.4" rx="9" ry="5" fill="rgb(5,74,4)" opacity="0.85" filter="url(#b1)" transform="rotate(0 85.2 124.4)"/>
<ellipse cx="76.1" cy="134.9" rx="3" ry="5" fill="rgb(3,56,2)" opacity="0.85" filter="url(#b1)" transform="rotate(-20 76.1 134.9)"/>
<ellipse cx="56.2" cy="205.9" rx="5" ry="4" fill="rgb(3,56,2)" opacity="0.85" filter="url(#b1)" transform="rotate(0 56.2 205.9)"/>
<ellipse cx="230.2" cy="216.5" rx="3.5" ry="3" fill="rgb(12,112,10)" opacity="0.85" filter="url(#b1)" transform="rotate(0 230.2 216.5)"/>
<ellipse cx="270.1" cy="254.5" rx="3" ry="3" fill="rgb(5,74,4)" opacity="0.85" filter="url(#b1)" transform="rotate(0 270.1 254.5)"/>
<ellipse cx="126.9" cy="94.3" rx="6" ry="2.5" fill="rgb(1,37,1)" opacity="0.85" filter="url(#b1)" transform="rotate(20 126.9 94.3)"/>
<ellipse cx="215.7" cy="39.9" rx="7" ry="2" fill="rgb(0,28,0)" opacity="0.85" filter="url(#b1)" transform="rotate(10 215.7 39.9)"/>
<ellipse cx="201.2" cy="145.8" rx="2.5" ry="2.5" fill="rgb(0,28,0)" opacity="0.85" filter="url(#b1)" transform="rotate(0 201.2 145.8)"/>
<ellipse cx="224.8" cy="236.4" rx="2.5" ry="2.5" fill="rgb(1,37,1)" opacity="0.85" filter="url(#b1)" transform="rotate(0 224.8 236.4)"/>
<polygon points="110.6,190.4 119.7,195.8 132.3,212.1 126.9,217.6 117.8,206.7" fill="rgb(10,103,8)" opacity="0.9" filter="url(#b1)"/>
<path d="M148.7 204.9 L172.2 212.1 L197.6 220.5" fill="none" stroke="rgb(3,56,2)" stroke-width="4" stroke-linecap="round" stroke-linejoin="round" opacity="0.8" filter="url(#b2)"/>
<ellipse cx="184.9" cy="213.9" rx="8" ry="3" fill="rgb(4,65,3)" opacity="0.8" filter="url(#b2)" transform="rotate(20 184.9 213.9)"/>
</g></g>
<clipPath id="cp21"><rect x="692.3" y="1054.6" width="275" height="273"/></clipPath>
<rect x="692.3" y="1054.6" width="275" height="273" fill="url(#bgO2)"/>
<g clip-path="url(#cp21)"><g transform="translate(692.3 1054.6)">
<ellipse cx="86.3" cy="53.3" rx="3" ry="3" fill="rgb(21,147,18)" opacity="0.95" filter="url(#b1)" transform="rotate(0 86.3 53.3)"/>
<ellipse cx="91.7" cy="82.7" rx="8" ry="5" fill="rgb(29,174,25)" opacity="0.95" filter="url(#b1)" transform="rotate(35 91.7 82.7)"/>
<ellipse cx="73.6" cy="114.9" rx="5" ry="5" fill="rgb(44,214,38)" opacity="0.95" filter="url(#b1)" transform="rotate(0 73.6 114.9)"/>
<ellipse cx="99.0" cy="155.9" rx="4" ry="4" fill="rgb(17,133,15)" opacity="0.95" filter="url(#b1)" transform="rotate(0 99.0 155.9)"/>
<ellipse cx="188.5" cy="155.9" rx="6.5" ry="5" fill="rgb(39,200,33)" opacity="0.95" filter="url(#b1)" transform="rotate(0 188.5 155.9)"/>
<ellipse cx="233.1" cy="73.6" rx="3.5" ry="3.5" fill="rgb(17,133,15)" opacity="0.95" filter="url(#b1)" transform="rotate(0 233.1 73.6)"/>
<ellipse cx="153.4" cy="79.0" rx="2.5" ry="2.5" fill="rgb(1,40,1)" opacity="0.95" filter="url(#b1)" transform="rotate(0 153.4 79.0)"/>
<ellipse cx="204.8" cy="160.3" rx="3" ry="2" fill="rgb(2,53,2)" opacity="0.95" filter="url(#b1)" transform="rotate(0 204.8 160.3)"/>
</g></g>
<clipPath id="cp31"><rect x="974.2" y="1054.6" width="275" height="273"/></clipPath>
<rect x="974.2" y="1054.6" width="275" height="273" fill="url(#bgDK)"/>
<g clip-path="url(#cp31)"><g transform="translate(974.2 1054.6)">
<path d="M6.9 8.0 L32.3 43.5 L54.8 74.3" fill="none" stroke="rgb(6,80,5)" stroke-width="2.5" stroke-linecap="round" stroke-linejoin="round" opacity="0.8" filter="url(#b1)"/>
<polygon points="46.8,67.1 63.1,78.0 75.8,90.6 68.6,96.1 54.1,85.2" fill="rgb(17,133,15)" opacity="0.9" filter="url(#b2)"/>
<ellipse cx="61.3" cy="105.2" rx="18" ry="28" fill="rgb(0,21,0)" opacity="0.9" filter="url(#b4)" transform="rotate(0 61.3 105.2)"/>
<polygon points="83.1,80.5 104.8,85.2 119.3,82.7 137.5,97.9 163.6,115.3 133.8,103.3 104.8,92.5" fill="rgb(14,120,12)" opacity="0.85" filter="url(#b2)"/>
<ellipse cx="166.5" cy="93.2" rx="4" ry="3" fill="rgb(50,227,43)" opacity="1" filter="url(#b1)" transform="rotate(0 166.5 93.2)"/>
<ellipse cx="207.1" cy="132.3" rx="3.5" ry="3.5" fill="rgb(63,254,54)" opacity="1" filter="url(#b1)" transform="rotate(0 207.1 132.3)"/>
<ellipse cx="137.5" cy="22.8" rx="2.5" ry="2.5" fill="rgb(25,160,21)" opacity="1" filter="url(#b1)" transform="rotate(0 137.5 22.8)"/>
<ellipse cx="150.2" cy="188.5" rx="8" ry="4.5" fill="rgb(70,255,60)" opacity="1" filter="url(#b1)" transform="rotate(35 150.2 188.5)"/>
<ellipse cx="137.5" cy="175.9" rx="2.5" ry="2.5" fill="rgb(25,160,21)" opacity="1" filter="url(#b1)" transform="rotate(0 137.5 175.9)"/>
<ellipse cx="13.5" cy="10.9" rx="3" ry="3" fill="rgb(6,80,5)" opacity="1" filter="url(#b1)" transform="rotate(0 13.5 10.9)"/>
<ellipse cx="159.2" cy="113.1" rx="3" ry="3" fill="rgb(17,133,15)" opacity="1" filter="url(#b1)" transform="rotate(0 159.2 113.1)"/>
<path d="M128.4 146.8 Q90.3 166.8 84.9 212.1" fill="none" stroke="rgb(14,120,12)" stroke-width="4.5" stroke-linecap="round" opacity="0.85" filter="url(#b2)"/>
<path d="M248.1 32.6 Q269.8 65.3 266.2 110.6" fill="none" stroke="rgb(3,58,2)" stroke-width="4" stroke-linecap="round" opacity="0.8" filter="url(#b2)"/>
</g></g>
<line x1="1547.3" y1="774.4" x2="1547.3" y2="1285.9" stroke="#8c8c8c" stroke-width="3.5" stroke-linecap="butt"/>
<line x1="1531.3" y1="1285.9" x2="1547.3" y2="1285.9" stroke="#444" stroke-width="3" stroke-linecap="butt"/>
<text x="1524.0" y="1296.4" font-size="30" fill="#1a1a1a" text-anchor="end">0</text>
<line x1="1531.3" y1="1158.4" x2="1547.3" y2="1158.4" stroke="#444" stroke-width="3" stroke-linecap="butt"/>
<text x="1524.0" y="1168.9" font-size="30" fill="#1a1a1a" text-anchor="end">20</text>
<line x1="1531.3" y1="1030.9" x2="1547.3" y2="1030.9" stroke="#444" stroke-width="3" stroke-linecap="butt"/>
<text x="1524.0" y="1041.4" font-size="30" fill="#1a1a1a" text-anchor="end">40</text>
<line x1="1531.3" y1="903.4" x2="1547.3" y2="903.4" stroke="#444" stroke-width="3" stroke-linecap="butt"/>
<text x="1524.0" y="913.9" font-size="30" fill="#1a1a1a" text-anchor="end">60</text>
<line x1="1531.3" y1="775.9" x2="1547.3" y2="775.9" stroke="#444" stroke-width="3" stroke-linecap="butt"/>
<text x="1524.0" y="786.4" font-size="30" fill="#1a1a1a" text-anchor="end">80</text>
<rect x="1560.7" y="1262.6" width="26.0" height="23.3" fill="#f40000" stroke="#7a0000" stroke-width="2"/>
<rect x="1600.7" y="1269.3" width="26.0" height="16.6" fill="#0000f4" stroke="#00007a" stroke-width="2"/>
<line x1="1573.7" y1="1254.0" x2="1573.7" y2="1264.9" stroke="#222" stroke-width="2" stroke-linecap="butt"/>
<line x1="1568.7" y1="1254.0" x2="1578.7" y2="1254.0" stroke="#222" stroke-width="2" stroke-linecap="butt"/>
<circle cx="1573.7" cy="1254.0" r="3.8" fill="#000"/>
<circle cx="1576.7" cy="1261.0" r="3.8" fill="#000"/>
<circle cx="1573.7" cy="1264.9" r="3.8" fill="#000"/>
<line x1="1613.7" y1="1248.9" x2="1613.7" y2="1280.2" stroke="#222" stroke-width="2" stroke-linecap="butt"/>
<line x1="1608.7" y1="1248.9" x2="1618.7" y2="1248.9" stroke="#222" stroke-width="2" stroke-linecap="butt"/>
<circle cx="1613.7" cy="1248.9" r="3.8" fill="#000"/>
<circle cx="1616.7" cy="1275.7" r="3.8" fill="#000"/>
<circle cx="1613.7" cy="1280.2" r="3.8" fill="#000"/>
<rect x="1668.5" y="1008.0" width="26.0" height="278.0" fill="#f40000" stroke="#7a0000" stroke-width="2"/>
<rect x="1708.5" y="1160.3" width="26.0" height="125.6" fill="#0000f4" stroke="#00007a" stroke-width="2"/>
<line x1="1681.5" y1="954.4" x2="1681.5" y2="1057.7" stroke="#222" stroke-width="2" stroke-linecap="butt"/>
<line x1="1676.5" y1="954.4" x2="1686.5" y2="954.4" stroke="#222" stroke-width="2" stroke-linecap="butt"/>
<circle cx="1681.5" cy="954.4" r="3.8" fill="#000"/>
<circle cx="1681.5" cy="1008.6" r="3.8" fill="#000"/>
<circle cx="1681.5" cy="1057.7" r="3.8" fill="#000"/>
<line x1="1721.5" y1="1121.4" x2="1721.5" y2="1197.9" stroke="#222" stroke-width="2" stroke-linecap="butt"/>
<line x1="1716.5" y1="1121.4" x2="1726.5" y2="1121.4" stroke="#222" stroke-width="2" stroke-linecap="butt"/>
<circle cx="1721.5" cy="1121.4" r="3.8" fill="#000"/>
<circle cx="1721.5" cy="1158.4" r="3.8" fill="#000"/>
<circle cx="1721.5" cy="1197.9" r="3.8" fill="#000"/>
<rect x="1774.8" y="963.3" width="26.0" height="322.6" fill="#f40000" stroke="#7a0000" stroke-width="2"/>
<rect x="1814.8" y="1110.6" width="26.0" height="175.3" fill="#0000f4" stroke="#00007a" stroke-width="2"/>
<line x1="1787.8" y1="928.9" x2="1787.8" y2="999.7" stroke="#222" stroke-width="2" stroke-linecap="butt"/>
<line x1="1782.8" y1="928.9" x2="1792.8" y2="928.9" stroke="#222" stroke-width="2" stroke-linecap="butt"/>
<circle cx="1787.8" cy="928.9" r="3.8" fill="#000"/>
<circle cx="1790.8" cy="954.4" r="3.8" fill="#000"/>
<circle cx="1787.8" cy="999.7" r="3.8" fill="#000"/>
<line x1="1827.8" y1="1101.0" x2="1827.8" y2="1120.2" stroke="#222" stroke-width="2" stroke-linecap="butt"/>
<line x1="1822.8" y1="1101.0" x2="1832.8" y2="1101.0" stroke="#222" stroke-width="2" stroke-linecap="butt"/>
<circle cx="1827.8" cy="1101.0" r="3.8" fill="#000"/>
<circle cx="1830.8" cy="1104.2" r="3.8" fill="#000"/>
<circle cx="1827.8" cy="1120.2" r="3.8" fill="#000"/>
<rect x="1881.9" y="876.0" width="26.0" height="409.9" fill="#f40000" stroke="#7a0000" stroke-width="2"/>
<rect x="1921.9" y="1066.6" width="26.0" height="219.3" fill="#0000f4" stroke="#00007a" stroke-width="2"/>
<line x1="1894.9" y1="853.7" x2="1894.9" y2="890.7" stroke="#222" stroke-width="2" stroke-linecap="butt"/>
<line x1="1889.9" y1="853.7" x2="1899.9" y2="853.7" stroke="#222" stroke-width="2" stroke-linecap="butt"/>
<circle cx="1894.9" cy="853.7" r="3.8" fill="#000"/>
<circle cx="1894.9" cy="879.2" r="3.8" fill="#000"/>
<circle cx="1894.9" cy="890.7" r="3.8" fill="#000"/>
<line x1="1934.9" y1="1037.9" x2="1934.9" y2="1095.3" stroke="#222" stroke-width="2" stroke-linecap="butt"/>
<line x1="1929.9" y1="1037.9" x2="1939.9" y2="1037.9" stroke="#222" stroke-width="2" stroke-linecap="butt"/>
<circle cx="1934.9" cy="1037.9" r="3.8" fill="#000"/>
<circle cx="1934.9" cy="1062.8" r="3.8" fill="#000"/>
<circle cx="1934.9" cy="1095.3" r="3.8" fill="#000"/>
<line x1="1530.0" y1="1285.9" x2="1962.3" y2="1285.9" stroke="#555" stroke-width="3" stroke-linecap="butt"/>
<line x1="1593.2" y1="1285.9" x2="1593.2" y2="1301.9" stroke="#444" stroke-width="3" stroke-linecap="butt"/>
<text x="1593.2" y="1337.5" font-size="30.5" fill="#1a1a1a" text-anchor="middle" textLength="80.0" lengthAdjust="spacingAndGlyphs">CTRL</text>
<line x1="1701.0" y1="1285.9" x2="1701.0" y2="1301.9" stroke="#444" stroke-width="3" stroke-linecap="butt"/>
<text x="1701.0" y="1337.5" font-size="30.5" fill="#1a1a1a" text-anchor="middle" textLength="42.0" lengthAdjust="spacingAndGlyphs">RS</text>
<line x1="1807.3" y1="1285.9" x2="1807.3" y2="1301.9" stroke="#444" stroke-width="3" stroke-linecap="butt"/>
<text x="1807.3" y="1337.5" font-size="30.5" fill="#1a1a1a" text-anchor="middle" textLength="62.0" lengthAdjust="spacingAndGlyphs">RAS</text>
<line x1="1914.4" y1="1285.9" x2="1914.4" y2="1301.9" stroke="#444" stroke-width="3" stroke-linecap="butt"/>
<text x="1914.4" y="1337.5" font-size="30.5" fill="#1a1a1a" text-anchor="middle" textLength="68.0" lengthAdjust="spacingAndGlyphs">DOX</text>
<line x1="1559.9" y1="1180.3" x2="1624.9" y2="1180.3" stroke="#444" stroke-width="3" stroke-linecap="butt"/>
<line x1="1662.0" y1="927.1" x2="1733.5" y2="927.1" stroke="#444" stroke-width="3" stroke-linecap="butt"/>
<line x1="1774.0" y1="898.5" x2="1845.6" y2="898.5" stroke="#444" stroke-width="3" stroke-linecap="butt"/>
<line x1="1880.0" y1="819.3" x2="1950.8" y2="819.3" stroke="#444" stroke-width="3" stroke-linecap="butt"/>
<text x="1702.0" y="928.1" font-size="27" fill="#1a1a1a" text-anchor="middle" font-weight="bold" letter-spacing="6">*</text>
<text x="1813.0" y="899.5" font-size="27" fill="#1a1a1a" text-anchor="middle" font-weight="bold" letter-spacing="6">**</text>
<text x="1917.0" y="820.3" font-size="27" fill="#1a1a1a" text-anchor="middle" font-weight="bold" letter-spacing="6">***</text>
<text x="1604.6" y="895.5" font-size="31.5" fill="#1a1a1a" textLength="158.0" lengthAdjust="spacingAndGlyphs"><tspan font-style="italic">P</tspan> = 0.0142</text>
<text x="1718.6" y="852.3" font-size="31.5" fill="#1a1a1a" textLength="159.0" lengthAdjust="spacingAndGlyphs"><tspan font-style="italic">P</tspan> = 0.0022</text>
<text x="1831.4" y="791.1" font-size="31.5" fill="#1a1a1a" textLength="158.0" lengthAdjust="spacingAndGlyphs"><tspan font-style="italic">P</tspan> = 0.0007</text>
<text x="0" y="0" font-size="30.5" fill="#1a1a1a" textLength="182.0" lengthAdjust="spacingAndGlyphs" transform="translate(1606.5 1170.0) rotate(-90)">&gt; <tspan font-style="italic">P</tspan> = 0.5734</text>
<rect x="1536.5" y="726.3" width="60.5" height="23.7" fill="#f40000" stroke="#7a0000" stroke-width="2.5"/>
<text x="1614.2" y="748.0" font-size="31" fill="#1a1a1a" textLength="103.3" lengthAdjust="spacingAndGlyphs">Vehicle</text>
<rect x="1760.7" y="726.3" width="60.0" height="23.7" fill="#0000f4" stroke="#00007a" stroke-width="2.5"/>
<text x="1834.0" y="748.0" font-size="31" fill="#1a1a1a" textLength="120.6" lengthAdjust="spacingAndGlyphs">PDK4-IN</text>
<text x="0" y="0" font-size="31" fill="#1a1a1a" text-anchor="middle" textLength="402.0" lengthAdjust="spacingAndGlyphs" transform="translate(1460.0 1032.0) rotate(-90)">Relative signal intensity (%)</text>
<text x="1398.0" y="732.5" font-size="60" fill="#000" font-weight="bold">c</text>
<line x1="193.0" y1="1534.5" x2="193.0" y2="1927.7" stroke="#333" stroke-width="3" stroke-linecap="butt"/>
<line x1="180.0" y1="1927.7" x2="193.0" y2="1927.7" stroke="#444" stroke-width="3" stroke-linecap="butt"/>
<text x="174.6" y="1937.0" font-size="26" fill="#1a1a1a" text-anchor="end">0</text>
<line x1="180.0" y1="1862.4" x2="193.0" y2="1862.4" stroke="#444" stroke-width="3" stroke-linecap="butt"/>
<text x="174.6" y="1871.7" font-size="26" fill="#1a1a1a" text-anchor="end">20</text>
<line x1="180.0" y1="1797.1" x2="193.0" y2="1797.1" stroke="#444" stroke-width="3" stroke-linecap="butt"/>
<text x="174.6" y="1806.4" font-size="26" fill="#1a1a1a" text-anchor="end">40</text>
<line x1="180.0" y1="1731.9" x2="193.0" y2="1731.9" stroke="#444" stroke-width="3" stroke-linecap="butt"/>
<text x="174.6" y="1741.2" font-size="26" fill="#1a1a1a" text-anchor="end">60</text>
<line x1="180.0" y1="1666.6" x2="193.0" y2="1666.6" stroke="#444" stroke-width="3" stroke-linecap="butt"/>
<text x="174.6" y="1675.9" font-size="26" fill="#1a1a1a" text-anchor="end">80</text>
<line x1="180.0" y1="1601.3" x2="193.0" y2="1601.3" stroke="#444" stroke-width="3" stroke-linecap="butt"/>
<text x="174.6" y="1610.6" font-size="26" fill="#1a1a1a" text-anchor="end">100</text>
<line x1="180.0" y1="1536.0" x2="193.0" y2="1536.0" stroke="#444" stroke-width="3" stroke-linecap="butt"/>
<text x="174.6" y="1545.3" font-size="26" fill="#1a1a1a" text-anchor="end">120</text>
<rect x="220.6" y="1754.1" width="51.8" height="173.6" fill="#ffffff"/>
<rect x="220.6" y="1629.7" width="51.8" height="124.4" fill="#df8ff5"/>
<rect x="220.6" y="1617.6" width="51.8" height="12.1" fill="#a600e6"/>
<rect x="220.6" y="1602.0" width="51.8" height="15.7" fill="#3f0055"/>
<rect x="220.6" y="1602.0" width="51.8" height="325.7" fill="none" stroke="#2b2b2b" stroke-width="2.5"/>
<line x1="221.6" y1="1754.1" x2="271.4" y2="1754.1" stroke="#2b2b2b" stroke-width="2" stroke-linecap="butt"/>
<line x1="246.5" y1="1754.1" x2="246.5" y2="1746.9" stroke="#222" stroke-width="2" stroke-linecap="butt"/>
<line x1="234.5" y1="1746.9" x2="258.5" y2="1746.9" stroke="#222" stroke-width="2.5" stroke-linecap="butt"/>
<line x1="221.6" y1="1629.7" x2="271.4" y2="1629.7" stroke="#2b2b2b" stroke-width="2" stroke-linecap="butt"/>
<line x1="246.5" y1="1629.7" x2="246.5" y2="1624.8" stroke="#222" stroke-width="2" stroke-linecap="butt"/>
<line x1="234.5" y1="1624.8" x2="258.5" y2="1624.8" stroke="#222" stroke-width="2.5" stroke-linecap="butt"/>
<line x1="221.6" y1="1617.6" x2="271.4" y2="1617.6" stroke="#2b2b2b" stroke-width="2" stroke-linecap="butt"/>
<line x1="246.5" y1="1617.6" x2="246.5" y2="1613.7" stroke="#222" stroke-width="2" stroke-linecap="butt"/>
<line x1="234.5" y1="1613.7" x2="258.5" y2="1613.7" stroke="#222" stroke-width="2.5" stroke-linecap="butt"/>
<line x1="221.6" y1="1602.0" x2="271.4" y2="1602.0" stroke="#2b2b2b" stroke-width="2" stroke-linecap="butt"/>
<line x1="246.5" y1="1602.0" x2="246.5" y2="1598.7" stroke="#222" stroke-width="2" stroke-linecap="butt"/>
<line x1="234.5" y1="1598.7" x2="258.5" y2="1598.7" stroke="#222" stroke-width="2.5" stroke-linecap="butt"/>
<rect x="327.9" y="1746.9" width="52.1" height="180.8" fill="#ffffff"/>
<rect x="327.9" y="1629.7" width="52.1" height="117.2" fill="#df8ff5"/>
<rect x="327.9" y="1618.3" width="52.1" height="11.4" fill="#a600e6"/>
<rect x="327.9" y="1602.0" width="52.1" height="16.3" fill="#3f0055"/>
<rect x="327.9" y="1602.0" width="52.1" height="325.7" fill="none" stroke="#2b2b2b" stroke-width="2.5"/>
<line x1="328.9" y1="1746.9" x2="379.0" y2="1746.9" stroke="#2b2b2b" stroke-width="2" stroke-linecap="butt"/>
<line x1="353.9" y1="1746.9" x2="353.9" y2="1742.0" stroke="#222" stroke-width="2" stroke-linecap="butt"/>
<line x1="341.9" y1="1742.0" x2="365.9" y2="1742.0" stroke="#222" stroke-width="2.5" stroke-linecap="butt"/>
<line x1="328.9" y1="1629.7" x2="379.0" y2="1629.7" stroke="#2b2b2b" stroke-width="2" stroke-linecap="butt"/>
<line x1="353.9" y1="1629.7" x2="353.9" y2="1627.1" stroke="#222" stroke-width="2" stroke-linecap="butt"/>
<line x1="341.9" y1="1627.1" x2="365.9" y2="1627.1" stroke="#222" stroke-width="2.5" stroke-linecap="butt"/>
<line x1="328.9" y1="1618.3" x2="379.0" y2="1618.3" stroke="#2b2b2b" stroke-width="2" stroke-linecap="butt"/>
<line x1="353.9" y1="1618.3" x2="353.9" y2="1613.4" stroke="#222" stroke-width="2" stroke-linecap="butt"/>
<line x1="341.9" y1="1613.4" x2="365.9" y2="1613.4" stroke="#222" stroke-width="2.5" stroke-linecap="butt"/>
<line x1="328.9" y1="1602.0" x2="379.0" y2="1602.0" stroke="#2b2b2b" stroke-width="2" stroke-linecap="butt"/>
<line x1="353.9" y1="1602.0" x2="353.9" y2="1598.7" stroke="#222" stroke-width="2" stroke-linecap="butt"/>
<line x1="341.9" y1="1598.7" x2="365.9" y2="1598.7" stroke="#222" stroke-width="2.5" stroke-linecap="butt"/>
<rect x="436.4" y="1843.5" width="51.7" height="84.2" fill="#ffffff"/>
<rect x="436.4" y="1762.2" width="51.7" height="81.3" fill="#df8ff5"/>
<rect x="436.4" y="1699.5" width="51.7" height="62.7" fill="#a600e6"/>
<rect x="436.4" y="1602.0" width="51.7" height="97.6" fill="#3f0055"/>
<rect x="436.4" y="1602.0" width="51.7" height="325.7" fill="none" stroke="#2b2b2b" stroke-width="2.5"/>
<line x1="437.4" y1="1843.5" x2="487.1" y2="1843.5" stroke="#2b2b2b" stroke-width="2" stroke-linecap="butt"/>
<line x1="462.2" y1="1843.5" x2="462.2" y2="1833.7" stroke="#222" stroke-width="2" stroke-linecap="butt"/>
<line x1="450.2" y1="1833.7" x2="474.2" y2="1833.7" stroke="#222" stroke-width="2.5" stroke-linecap="butt"/>
<line x1="437.4" y1="1762.2" x2="487.1" y2="1762.2" stroke="#2b2b2b" stroke-width="2" stroke-linecap="butt"/>
<line x1="462.2" y1="1762.2" x2="462.2" y2="1750.8" stroke="#222" stroke-width="2" stroke-linecap="butt"/>
<line x1="450.2" y1="1750.8" x2="474.2" y2="1750.8" stroke="#222" stroke-width="2.5" stroke-linecap="butt"/>
<line x1="437.4" y1="1699.5" x2="487.1" y2="1699.5" stroke="#2b2b2b" stroke-width="2" stroke-linecap="butt"/>
<line x1="462.2" y1="1699.5" x2="462.2" y2="1695.6" stroke="#222" stroke-width="2" stroke-linecap="butt"/>
<line x1="450.2" y1="1695.6" x2="474.2" y2="1695.6" stroke="#222" stroke-width="2.5" stroke-linecap="butt"/>
<line x1="437.4" y1="1602.0" x2="487.1" y2="1602.0" stroke="#2b2b2b" stroke-width="2" stroke-linecap="butt"/>
<line x1="462.2" y1="1602.0" x2="462.2" y2="1590.9" stroke="#222" stroke-width="2" stroke-linecap="butt"/>
<line x1="450.2" y1="1590.9" x2="474.2" y2="1590.9" stroke="#222" stroke-width="2.5" stroke-linecap="butt"/>
<rect x="544.4" y="1810.2" width="51.4" height="117.5" fill="#ffffff"/>
<rect x="544.4" y="1720.1" width="51.4" height="90.1" fill="#df8ff5"/>
<rect x="544.4" y="1661.4" width="51.4" height="58.8" fill="#a600e6"/>
<rect x="544.4" y="1602.0" width="51.4" height="59.4" fill="#3f0055"/>
<rect x="544.4" y="1602.0" width="51.4" height="325.7" fill="none" stroke="#2b2b2b" stroke-width="2.5"/>
<line x1="545.4" y1="1810.2" x2="594.8" y2="1810.2" stroke="#2b2b2b" stroke-width="2" stroke-linecap="butt"/>
<line x1="570.1" y1="1810.2" x2="570.1" y2="1798.8" stroke="#222" stroke-width="2" stroke-linecap="butt"/>
<line x1="558.1" y1="1798.8" x2="582.1" y2="1798.8" stroke="#222" stroke-width="2.5" stroke-linecap="butt"/>
<line x1="545.4" y1="1720.1" x2="594.8" y2="1720.1" stroke="#2b2b2b" stroke-width="2" stroke-linecap="butt"/>
<line x1="570.1" y1="1720.1" x2="570.1" y2="1714.2" stroke="#222" stroke-width="2" stroke-linecap="butt"/>
<line x1="558.1" y1="1714.2" x2="582.1" y2="1714.2" stroke="#222" stroke-width="2.5" stroke-linecap="butt"/>
<line x1="545.4" y1="1661.4" x2="594.8" y2="1661.4" stroke="#2b2b2b" stroke-width="2" stroke-linecap="butt"/>
<line x1="570.1" y1="1661.4" x2="570.1" y2="1651.6" stroke="#222" stroke-width="2" stroke-linecap="butt"/>
<line x1="558.1" y1="1651.6" x2="582.1" y2="1651.6" stroke="#222" stroke-width="2.5" stroke-linecap="butt"/>
<line x1="545.4" y1="1602.0" x2="594.8" y2="1602.0" stroke="#2b2b2b" stroke-width="2" stroke-linecap="butt"/>
<line x1="570.1" y1="1602.0" x2="570.1" y2="1596.4" stroke="#222" stroke-width="2" stroke-linecap="butt"/>
<line x1="558.1" y1="1596.4" x2="582.1" y2="1596.4" stroke="#222" stroke-width="2.5" stroke-linecap="butt"/>
<line x1="180.8" y1="1927.7" x2="624.5" y2="1927.7" stroke="#333" stroke-width="3" stroke-linecap="butt"/>
<line x1="246.5" y1="1927.7" x2="246.5" y2="1939.2" stroke="#555" stroke-width="3" stroke-linecap="butt"/>
<text x="246.5" y="1976.0" font-size="27.5" fill="#1a1a1a" text-anchor="middle" textLength="72.0" lengthAdjust="spacingAndGlyphs">CTRL</text>
<line x1="354.2" y1="1927.7" x2="354.2" y2="1939.2" stroke="#555" stroke-width="3" stroke-linecap="butt"/>
<text x="354.2" y="1976.0" font-size="27.5" fill="#1a1a1a" text-anchor="middle" textLength="25.0" lengthAdjust="spacingAndGlyphs">IN</text>
<line x1="461.0" y1="1927.7" x2="461.0" y2="1939.2" stroke="#555" stroke-width="3" stroke-linecap="butt"/>
<text x="461.0" y="1976.0" font-size="27.5" fill="#1a1a1a" text-anchor="middle" textLength="38.0" lengthAdjust="spacingAndGlyphs">RS</text>
<line x1="569.0" y1="1927.7" x2="569.0" y2="1939.2" stroke="#555" stroke-width="3" stroke-linecap="butt"/>
<text x="569.0" y="1976.0" font-size="27.5" fill="#1a1a1a" text-anchor="middle" textLength="74.0" lengthAdjust="spacingAndGlyphs">RS/IN</text>
<line x1="246.5" y1="1579.3" x2="352.5" y2="1579.3" stroke="#333" stroke-width="2.5" stroke-linecap="butt"/>
<text x="302.0" y="1574.3" font-size="27" fill="#1a1a1a" text-anchor="middle">^</text>
<line x1="356.6" y1="1564.0" x2="461.0" y2="1564.0" stroke="#333" stroke-width="2.5" stroke-linecap="butt"/>
<text x="413.4" y="1565.0" font-size="27" fill="#1a1a1a" text-anchor="middle" font-weight="bold" letter-spacing="3">****</text>
<line x1="464.3" y1="1555.9" x2="569.0" y2="1555.9" stroke="#8a8a8a" stroke-width="2.5" stroke-linecap="butt"/>
<text x="524.3" y="1556.9" font-size="27" fill="#1a1a1a" text-anchor="middle" font-weight="bold" letter-spacing="3">**</text>
<text x="225.2" y="1543.3" font-size="28" fill="#1a1a1a" textLength="140.5" lengthAdjust="spacingAndGlyphs"><tspan font-style="italic">P</tspan> = 0.3303</text>
<text x="330.8" y="1511.7" font-size="28" fill="#1a1a1a" textLength="139.7" lengthAdjust="spacingAndGlyphs"><tspan font-style="italic">P</tspan> &lt; 0.0001</text>
<text x="462.2" y="1533.8" font-size="28" fill="#1a1a1a" textLength="141.8" lengthAdjust="spacingAndGlyphs"><tspan font-style="italic">P</tspan> = 0.0023</text>
<rect x="190.0" y="1419.6" width="47.3" height="10.0" fill="#ffffff" stroke="#444" stroke-width="2"/>
<rect x="424.2" y="1419.6" width="45.3" height="10.0" fill="#df8ff5" stroke="#8a5a98" stroke-width="2"/>
<rect x="190.0" y="1462.8" width="47.3" height="9.1" fill="#a600e6" stroke="#5a0078" stroke-width="2"/>
<rect x="424.2" y="1462.8" width="45.3" height="9.1" fill="#3f0055" stroke="#1d0028" stroke-width="2"/>
<text x="265.0" y="1435.5" font-size="28" fill="#1a1a1a" textLength="68.6" lengthAdjust="spacingAndGlyphs">0 foci</text>
<text x="499.2" y="1435.5" font-size="28" fill="#1a1a1a" textLength="101.5" lengthAdjust="spacingAndGlyphs">1~3 foci</text>
<text x="263.0" y="1477.8" font-size="28" fill="#1a1a1a" textLength="119.0" lengthAdjust="spacingAndGlyphs">4~10 foci</text>
<text x="498.0" y="1477.8" font-size="28" fill="#1a1a1a" textLength="102.7" lengthAdjust="spacingAndGlyphs">&gt;10 foci</text>
<text x="0" y="0" font-size="30" fill="#1a1a1a" text-anchor="middle" textLength="322.6" lengthAdjust="spacingAndGlyphs" transform="translate(113.5 1732.3) rotate(-90)">% DDR foci positive cells</text>
<text x="404.7" y="2033.3" font-size="27" fill="#1a1a1a" text-anchor="middle" textLength="92.0" lengthAdjust="spacingAndGlyphs">Groups</text>
<text x="1.0" y="1449.0" font-size="60" fill="#000" font-weight="bold">d</text>
<line x1="860.8" y1="1541.0" x2="860.8" y2="1926.5" stroke="#333" stroke-width="3" stroke-linecap="butt"/>
<line x1="847.8" y1="1926.5" x2="860.8" y2="1926.5" stroke="#444" stroke-width="3" stroke-linecap="butt"/>
<text x="844.4" y="1935.8" font-size="26" fill="#1a1a1a" text-anchor="end">0</text>
<line x1="847.8" y1="1862.5" x2="860.8" y2="1862.5" stroke="#444" stroke-width="3" stroke-linecap="butt"/>
<text x="844.4" y="1871.8" font-size="26" fill="#1a1a1a" text-anchor="end">20</text>
<line x1="847.8" y1="1798.5" x2="860.8" y2="1798.5" stroke="#444" stroke-width="3" stroke-linecap="butt"/>
<text x="844.4" y="1807.8" font-size="26" fill="#1a1a1a" text-anchor="end">40</text>
<line x1="847.8" y1="1734.5" x2="860.8" y2="1734.5" stroke="#444" stroke-width="3" stroke-linecap="butt"/>
<text x="844.4" y="1743.8" font-size="26" fill="#1a1a1a" text-anchor="end">60</text>
<line x1="847.8" y1="1670.5" x2="860.8" y2="1670.5" stroke="#444" stroke-width="3" stroke-linecap="butt"/>
<text x="844.4" y="1679.8" font-size="26" fill="#1a1a1a" text-anchor="end">80</text>
<line x1="847.8" y1="1606.5" x2="860.8" y2="1606.5" stroke="#444" stroke-width="3" stroke-linecap="butt"/>
<text x="844.4" y="1615.8" font-size="26" fill="#1a1a1a" text-anchor="end">100</text>
<line x1="847.8" y1="1542.5" x2="860.8" y2="1542.5" stroke="#444" stroke-width="3" stroke-linecap="butt"/>
<text x="844.4" y="1551.8" font-size="26" fill="#1a1a1a" text-anchor="end">120</text>
<rect x="887.5" y="1758.2" width="51.4" height="168.3" fill="#ffffff"/>
<rect x="887.5" y="1635.6" width="51.4" height="122.6" fill="#df8ff5"/>
<rect x="887.5" y="1620.3" width="51.4" height="15.4" fill="#a600e6"/>
<rect x="887.5" y="1607.1" width="51.4" height="13.1" fill="#3f0055"/>
<rect x="887.5" y="1607.1" width="51.4" height="319.4" fill="none" stroke="#2b2b2b" stroke-width="2.5"/>
<line x1="888.5" y1="1758.2" x2="937.9" y2="1758.2" stroke="#2b2b2b" stroke-width="2" stroke-linecap="butt"/>
<line x1="913.2" y1="1758.2" x2="913.2" y2="1755.6" stroke="#222" stroke-width="2" stroke-linecap="butt"/>
<line x1="901.2" y1="1755.6" x2="925.2" y2="1755.6" stroke="#222" stroke-width="2.5" stroke-linecap="butt"/>
<line x1="888.5" y1="1635.6" x2="937.9" y2="1635.6" stroke="#2b2b2b" stroke-width="2" stroke-linecap="butt"/>
<line x1="913.2" y1="1635.6" x2="913.2" y2="1630.8" stroke="#222" stroke-width="2" stroke-linecap="butt"/>
<line x1="901.2" y1="1630.8" x2="925.2" y2="1630.8" stroke="#222" stroke-width="2.5" stroke-linecap="butt"/>
<line x1="888.5" y1="1620.3" x2="937.9" y2="1620.3" stroke="#2b2b2b" stroke-width="2" stroke-linecap="butt"/>
<line x1="913.2" y1="1620.3" x2="913.2" y2="1616.4" stroke="#222" stroke-width="2" stroke-linecap="butt"/>
<line x1="901.2" y1="1616.4" x2="925.2" y2="1616.4" stroke="#222" stroke-width="2.5" stroke-linecap="butt"/>
<line x1="888.5" y1="1607.1" x2="937.9" y2="1607.1" stroke="#2b2b2b" stroke-width="2" stroke-linecap="butt"/>
<line x1="913.2" y1="1607.1" x2="913.2" y2="1604.6" stroke="#222" stroke-width="2" stroke-linecap="butt"/>
<line x1="901.2" y1="1604.6" x2="925.2" y2="1604.6" stroke="#222" stroke-width="2.5" stroke-linecap="butt"/>
<rect x="993.0" y="1753.1" width="51.4" height="173.4" fill="#ffffff"/>
<rect x="993.0" y="1635.6" width="51.4" height="117.4" fill="#df8ff5"/>
<rect x="993.0" y="1620.3" width="51.4" height="15.4" fill="#a600e6"/>
<rect x="993.0" y="1607.1" width="51.4" height="13.1" fill="#3f0055"/>
<rect x="993.0" y="1607.1" width="51.4" height="319.4" fill="none" stroke="#2b2b2b" stroke-width="2.5"/>
<line x1="994.0" y1="1753.1" x2="1043.4" y2="1753.1" stroke="#2b2b2b" stroke-width="2" stroke-linecap="butt"/>
<line x1="1018.7" y1="1753.1" x2="1018.7" y2="1745.1" stroke="#222" stroke-width="2" stroke-linecap="butt"/>
<line x1="1006.7" y1="1745.1" x2="1030.7" y2="1745.1" stroke="#222" stroke-width="2.5" stroke-linecap="butt"/>
<line x1="994.0" y1="1635.6" x2="1043.4" y2="1635.6" stroke="#2b2b2b" stroke-width="2" stroke-linecap="butt"/>
<line x1="1018.7" y1="1635.6" x2="1018.7" y2="1626.7" stroke="#222" stroke-width="2" stroke-linecap="butt"/>
<line x1="1006.7" y1="1626.7" x2="1030.7" y2="1626.7" stroke="#222" stroke-width="2.5" stroke-linecap="butt"/>
<line x1="994.0" y1="1620.3" x2="1043.4" y2="1620.3" stroke="#2b2b2b" stroke-width="2" stroke-linecap="butt"/>
<line x1="1018.7" y1="1620.3" x2="1018.7" y2="1613.2" stroke="#222" stroke-width="2" stroke-linecap="butt"/>
<line x1="1006.7" y1="1613.2" x2="1030.7" y2="1613.2" stroke="#222" stroke-width="2.5" stroke-linecap="butt"/>
<line x1="994.0" y1="1607.1" x2="1043.4" y2="1607.1" stroke="#2b2b2b" stroke-width="2" stroke-linecap="butt"/>
<line x1="1018.7" y1="1607.1" x2="1018.7" y2="1603.3" stroke="#222" stroke-width="2" stroke-linecap="butt"/>
<line x1="1006.7" y1="1603.3" x2="1030.7" y2="1603.3" stroke="#222" stroke-width="2.5" stroke-linecap="butt"/>
<rect x="1097.0" y="1880.4" width="52.2" height="46.1" fill="#ffffff"/>
<rect x="1097.0" y="1821.9" width="52.2" height="58.6" fill="#df8ff5"/>
<rect x="1097.0" y="1774.5" width="52.2" height="47.4" fill="#a600e6"/>
<rect x="1097.0" y="1607.1" width="52.2" height="167.4" fill="#3f0055"/>
<rect x="1097.0" y="1607.1" width="52.2" height="319.4" fill="none" stroke="#2b2b2b" stroke-width="2.5"/>
<line x1="1098.0" y1="1880.4" x2="1148.2" y2="1880.4" stroke="#2b2b2b" stroke-width="2" stroke-linecap="butt"/>
<line x1="1123.1" y1="1880.4" x2="1123.1" y2="1873.1" stroke="#222" stroke-width="2" stroke-linecap="butt"/>
<line x1="1111.1" y1="1873.1" x2="1135.1" y2="1873.1" stroke="#222" stroke-width="2.5" stroke-linecap="butt"/>
<line x1="1098.0" y1="1821.9" x2="1148.2" y2="1821.9" stroke="#2b2b2b" stroke-width="2" stroke-linecap="butt"/>
<line x1="1123.1" y1="1821.9" x2="1123.1" y2="1819.0" stroke="#222" stroke-width="2" stroke-linecap="butt"/>
<line x1="1111.1" y1="1819.0" x2="1135.1" y2="1819.0" stroke="#222" stroke-width="2.5" stroke-linecap="butt"/>
<line x1="1098.0" y1="1774.5" x2="1148.2" y2="1774.5" stroke="#2b2b2b" stroke-width="2" stroke-linecap="butt"/>
<line x1="1123.1" y1="1774.5" x2="1123.1" y2="1763.3" stroke="#222" stroke-width="2" stroke-linecap="butt"/>
<line x1="1111.1" y1="1763.3" x2="1135.1" y2="1763.3" stroke="#222" stroke-width="2.5" stroke-linecap="butt"/>
<line x1="1098.0" y1="1607.1" x2="1148.2" y2="1607.1" stroke="#2b2b2b" stroke-width="2" stroke-linecap="butt"/>
<line x1="1123.1" y1="1607.1" x2="1123.1" y2="1599.8" stroke="#222" stroke-width="2" stroke-linecap="butt"/>
<line x1="1111.1" y1="1599.8" x2="1135.1" y2="1599.8" stroke="#222" stroke-width="2.5" stroke-linecap="butt"/>
<rect x="1202.6" y="1824.7" width="51.8" height="101.8" fill="#ffffff"/>
<rect x="1202.6" y="1744.4" width="51.8" height="80.3" fill="#df8ff5"/>
<rect x="1202.6" y="1688.1" width="51.8" height="56.3" fill="#a600e6"/>
<rect x="1202.6" y="1607.1" width="51.8" height="81.0" fill="#3f0055"/>
<rect x="1202.6" y="1607.1" width="51.8" height="319.4" fill="none" stroke="#2b2b2b" stroke-width="2.5"/>
<line x1="1203.6" y1="1824.7" x2="1253.4" y2="1824.7" stroke="#2b2b2b" stroke-width="2" stroke-linecap="butt"/>
<line x1="1228.5" y1="1824.7" x2="1228.5" y2="1807.1" stroke="#222" stroke-width="2" stroke-linecap="butt"/>
<line x1="1216.5" y1="1807.1" x2="1240.5" y2="1807.1" stroke="#222" stroke-width="2.5" stroke-linecap="butt"/>
<line x1="1203.6" y1="1744.4" x2="1253.4" y2="1744.4" stroke="#2b2b2b" stroke-width="2" stroke-linecap="butt"/>
<line x1="1228.5" y1="1744.4" x2="1228.5" y2="1740.6" stroke="#222" stroke-width="2" stroke-linecap="butt"/>
<line x1="1216.5" y1="1740.6" x2="1240.5" y2="1740.6" stroke="#222" stroke-width="2.5" stroke-linecap="butt"/>
<line x1="1203.6" y1="1688.1" x2="1253.4" y2="1688.1" stroke="#2b2b2b" stroke-width="2" stroke-linecap="butt"/>
<line x1="1228.5" y1="1688.1" x2="1228.5" y2="1677.5" stroke="#222" stroke-width="2" stroke-linecap="butt"/>
<line x1="1216.5" y1="1677.5" x2="1240.5" y2="1677.5" stroke="#222" stroke-width="2.5" stroke-linecap="butt"/>
<line x1="1203.6" y1="1607.1" x2="1253.4" y2="1607.1" stroke="#2b2b2b" stroke-width="2" stroke-linecap="butt"/>
<line x1="1228.5" y1="1607.1" x2="1228.5" y2="1597.9" stroke="#222" stroke-width="2" stroke-linecap="butt"/>
<line x1="1216.5" y1="1597.9" x2="1240.5" y2="1597.9" stroke="#222" stroke-width="2.5" stroke-linecap="butt"/>
<line x1="848.5" y1="1926.5" x2="1282.0" y2="1926.5" stroke="#333" stroke-width="3" stroke-linecap="butt"/>
<line x1="913.0" y1="1926.5" x2="913.0" y2="1938.0" stroke="#555" stroke-width="3" stroke-linecap="butt"/>
<text x="913.0" y="1973.7" font-size="27.5" fill="#1a1a1a" text-anchor="middle" textLength="72.0" lengthAdjust="spacingAndGlyphs">CTRL</text>
<line x1="1017.7" y1="1926.5" x2="1017.7" y2="1938.0" stroke="#555" stroke-width="3" stroke-linecap="butt"/>
<text x="1017.7" y="1973.7" font-size="27.5" fill="#1a1a1a" text-anchor="middle" textLength="25.0" lengthAdjust="spacingAndGlyphs">IN</text>
<line x1="1122.9" y1="1926.5" x2="1122.9" y2="1938.0" stroke="#555" stroke-width="3" stroke-linecap="butt"/>
<text x="1122.9" y="1973.7" font-size="27.5" fill="#1a1a1a" text-anchor="middle" textLength="56.0" lengthAdjust="spacingAndGlyphs">RAS</text>
<line x1="1227.7" y1="1926.5" x2="1227.7" y2="1938.0" stroke="#555" stroke-width="3" stroke-linecap="butt"/>
<text x="1227.7" y="1973.7" font-size="27.5" fill="#1a1a1a" text-anchor="middle" textLength="92.0" lengthAdjust="spacingAndGlyphs">RAS/IN</text>
<line x1="913.0" y1="1586.7" x2="1016.0" y2="1586.7" stroke="#333" stroke-width="2.5" stroke-linecap="butt"/>
<text x="967.6" y="1581.7" font-size="27" fill="#1a1a1a" text-anchor="middle">^</text>
<line x1="1021.0" y1="1571.9" x2="1123.8" y2="1571.9" stroke="#333" stroke-width="2.5" stroke-linecap="butt"/>
<text x="1076.9" y="1572.9" font-size="27" fill="#1a1a1a" text-anchor="middle" font-weight="bold" letter-spacing="3">****</text>
<line x1="1125.8" y1="1563.7" x2="1228.5" y2="1563.7" stroke="#333" stroke-width="2.5" stroke-linecap="butt"/>
<text x="1179.7" y="1564.7" font-size="27" fill="#1a1a1a" text-anchor="middle" font-weight="bold" letter-spacing="3">****</text>
<text x="891.6" y="1549.5" font-size="28" fill="#1a1a1a" textLength="137.6" lengthAdjust="spacingAndGlyphs"><tspan font-style="italic">P</tspan> = 0.7887</text>
<text x="998.4" y="1516.6" font-size="28" fill="#1a1a1a" textLength="137.6" lengthAdjust="spacingAndGlyphs"><tspan font-style="italic">P</tspan> &lt; 0.0001</text>
<text x="1105.3" y="1541.2" font-size="28" fill="#1a1a1a" textLength="137.7" lengthAdjust="spacingAndGlyphs"><tspan font-style="italic">P</tspan> &lt; 0.0001</text>
<rect x="858.5" y="1429.1" width="46.5" height="8.7" fill="#ffffff" stroke="#444" stroke-width="2"/>
<rect x="1087.0" y="1429.1" width="44.0" height="8.7" fill="#df8ff5" stroke="#8a5a98" stroke-width="2"/>
<rect x="858.5" y="1471.4" width="46.5" height="7.5" fill="#a600e6" stroke="#5a0078" stroke-width="2"/>
<rect x="1087.0" y="1471.4" width="44.0" height="7.5" fill="#3f0055" stroke="#1d0028" stroke-width="2"/>
<text x="930.6" y="1443.7" font-size="28" fill="#1a1a1a" textLength="67.8" lengthAdjust="spacingAndGlyphs">0 foci</text>
<text x="1158.7" y="1443.7" font-size="28" fill="#1a1a1a" textLength="99.8" lengthAdjust="spacingAndGlyphs">1~3 foci</text>
<text x="929.8" y="1486.0" font-size="28" fill="#1a1a1a" textLength="115.1" lengthAdjust="spacingAndGlyphs">4~10 foci</text>
<text x="1158.7" y="1486.0" font-size="28" fill="#1a1a1a" textLength="99.8" lengthAdjust="spacingAndGlyphs">&gt;10 foci</text>
<text x="0" y="0" font-size="30" fill="#1a1a1a" text-anchor="middle" textLength="316.4" lengthAdjust="spacingAndGlyphs" transform="translate(783.5 1735.4) rotate(-90)">% DDR foci positive cells</text>
<text x="1068.3" y="2029.2" font-size="27" fill="#1a1a1a" text-anchor="middle" textLength="92.0" lengthAdjust="spacingAndGlyphs">Groups</text>
<text x="717.0" y="1445.7" font-size="60" fill="#000" font-weight="bold">e</text>
<line x1="1529.7" y1="1532.6" x2="1529.7" y2="1926.5" stroke="#333" stroke-width="3" stroke-linecap="butt"/>
<line x1="1516.7" y1="1926.5" x2="1529.7" y2="1926.5" stroke="#444" stroke-width="3" stroke-linecap="butt"/>
<text x="1511.2" y="1935.8" font-size="26" fill="#1a1a1a" text-anchor="end">0</text>
<line x1="1516.7" y1="1861.1" x2="1529.7" y2="1861.1" stroke="#444" stroke-width="3" stroke-linecap="butt"/>
<text x="1511.2" y="1870.4" font-size="26" fill="#1a1a1a" text-anchor="end">20</text>
<line x1="1516.7" y1="1795.7" x2="1529.7" y2="1795.7" stroke="#444" stroke-width="3" stroke-linecap="butt"/>
<text x="1511.2" y="1805.0" font-size="26" fill="#1a1a1a" text-anchor="end">40</text>
<line x1="1516.7" y1="1730.3" x2="1529.7" y2="1730.3" stroke="#444" stroke-width="3" stroke-linecap="butt"/>
<text x="1511.2" y="1739.6" font-size="26" fill="#1a1a1a" text-anchor="end">60</text>
<line x1="1516.7" y1="1664.9" x2="1529.7" y2="1664.9" stroke="#444" stroke-width="3" stroke-linecap="butt"/>
<text x="1511.2" y="1674.2" font-size="26" fill="#1a1a1a" text-anchor="end">80</text>
<line x1="1516.7" y1="1599.5" x2="1529.7" y2="1599.5" stroke="#444" stroke-width="3" stroke-linecap="butt"/>
<text x="1511.2" y="1608.8" font-size="26" fill="#1a1a1a" text-anchor="end">100</text>
<line x1="1516.7" y1="1534.1" x2="1529.7" y2="1534.1" stroke="#444" stroke-width="3" stroke-linecap="butt"/>
<text x="1511.2" y="1543.4" font-size="26" fill="#1a1a1a" text-anchor="end">120</text>
<rect x="1555.2" y="1756.1" width="53.4" height="170.4" fill="#ffffff"/>
<rect x="1555.2" y="1630.6" width="53.4" height="125.6" fill="#df8ff5"/>
<rect x="1555.2" y="1615.5" width="53.4" height="15.0" fill="#a600e6"/>
<rect x="1555.2" y="1600.8" width="53.4" height="14.7" fill="#3f0055"/>
<rect x="1555.2" y="1600.8" width="53.4" height="325.7" fill="none" stroke="#2b2b2b" stroke-width="2.5"/>
<line x1="1556.2" y1="1756.1" x2="1607.6" y2="1756.1" stroke="#2b2b2b" stroke-width="2" stroke-linecap="butt"/>
<line x1="1581.9" y1="1756.1" x2="1581.9" y2="1752.2" stroke="#222" stroke-width="2" stroke-linecap="butt"/>
<line x1="1569.9" y1="1752.2" x2="1593.9" y2="1752.2" stroke="#222" stroke-width="2.5" stroke-linecap="butt"/>
<line x1="1556.2" y1="1630.6" x2="1607.6" y2="1630.6" stroke="#2b2b2b" stroke-width="2" stroke-linecap="butt"/>
<line x1="1581.9" y1="1630.6" x2="1581.9" y2="1626.6" stroke="#222" stroke-width="2" stroke-linecap="butt"/>
<line x1="1569.9" y1="1626.6" x2="1593.9" y2="1626.6" stroke="#222" stroke-width="2.5" stroke-linecap="butt"/>
<line x1="1556.2" y1="1615.5" x2="1607.6" y2="1615.5" stroke="#2b2b2b" stroke-width="2" stroke-linecap="butt"/>
<line x1="1581.9" y1="1615.5" x2="1581.9" y2="1612.3" stroke="#222" stroke-width="2" stroke-linecap="butt"/>
<line x1="1569.9" y1="1612.3" x2="1593.9" y2="1612.3" stroke="#222" stroke-width="2.5" stroke-linecap="butt"/>
<line x1="1556.2" y1="1600.8" x2="1607.6" y2="1600.8" stroke="#2b2b2b" stroke-width="2" stroke-linecap="butt"/>
<line x1="1581.9" y1="1600.8" x2="1581.9" y2="1597.9" stroke="#222" stroke-width="2" stroke-linecap="butt"/>
<line x1="1569.9" y1="1597.9" x2="1593.9" y2="1597.9" stroke="#222" stroke-width="2.5" stroke-linecap="butt"/>
<rect x="1663.2" y="1749.9" width="52.6" height="176.6" fill="#ffffff"/>
<rect x="1663.2" y="1627.9" width="52.6" height="122.0" fill="#df8ff5"/>
<rect x="1663.2" y="1613.6" width="52.6" height="14.4" fill="#a600e6"/>
<rect x="1663.2" y="1600.8" width="52.6" height="12.8" fill="#3f0055"/>
<rect x="1663.2" y="1600.8" width="52.6" height="325.7" fill="none" stroke="#2b2b2b" stroke-width="2.5"/>
<line x1="1664.2" y1="1749.9" x2="1714.8" y2="1749.9" stroke="#2b2b2b" stroke-width="2" stroke-linecap="butt"/>
<line x1="1689.5" y1="1749.9" x2="1689.5" y2="1740.8" stroke="#222" stroke-width="2" stroke-linecap="butt"/>
<line x1="1677.5" y1="1740.8" x2="1701.5" y2="1740.8" stroke="#222" stroke-width="2.5" stroke-linecap="butt"/>
<line x1="1664.2" y1="1627.9" x2="1714.8" y2="1627.9" stroke="#2b2b2b" stroke-width="2" stroke-linecap="butt"/>
<line x1="1689.5" y1="1627.9" x2="1689.5" y2="1620.4" stroke="#222" stroke-width="2" stroke-linecap="butt"/>
<line x1="1677.5" y1="1620.4" x2="1701.5" y2="1620.4" stroke="#222" stroke-width="2.5" stroke-linecap="butt"/>
<line x1="1664.2" y1="1613.6" x2="1714.8" y2="1613.6" stroke="#2b2b2b" stroke-width="2" stroke-linecap="butt"/>
<line x1="1689.5" y1="1613.6" x2="1689.5" y2="1607.0" stroke="#222" stroke-width="2" stroke-linecap="butt"/>
<line x1="1677.5" y1="1607.0" x2="1701.5" y2="1607.0" stroke="#222" stroke-width="2.5" stroke-linecap="butt"/>
<line x1="1664.2" y1="1600.8" x2="1714.8" y2="1600.8" stroke="#2b2b2b" stroke-width="2" stroke-linecap="butt"/>
<line x1="1689.5" y1="1600.8" x2="1689.5" y2="1594.9" stroke="#222" stroke-width="2" stroke-linecap="butt"/>
<line x1="1677.5" y1="1594.9" x2="1701.5" y2="1594.9" stroke="#222" stroke-width="2.5" stroke-linecap="butt"/>
<rect x="1770.0" y="1870.3" width="52.6" height="56.2" fill="#ffffff"/>
<rect x="1770.0" y="1803.2" width="52.6" height="67.0" fill="#df8ff5"/>
<rect x="1770.0" y="1741.7" width="52.6" height="61.5" fill="#a600e6"/>
<rect x="1770.0" y="1600.8" width="52.6" height="140.9" fill="#3f0055"/>
<rect x="1770.0" y="1600.8" width="52.6" height="325.7" fill="none" stroke="#2b2b2b" stroke-width="2.5"/>
<line x1="1771.0" y1="1870.3" x2="1821.6" y2="1870.3" stroke="#2b2b2b" stroke-width="2" stroke-linecap="butt"/>
<line x1="1796.3" y1="1870.3" x2="1796.3" y2="1865.0" stroke="#222" stroke-width="2" stroke-linecap="butt"/>
<line x1="1784.3" y1="1865.0" x2="1808.3" y2="1865.0" stroke="#222" stroke-width="2.5" stroke-linecap="butt"/>
<line x1="1771.0" y1="1803.2" x2="1821.6" y2="1803.2" stroke="#2b2b2b" stroke-width="2" stroke-linecap="butt"/>
<line x1="1796.3" y1="1803.2" x2="1796.3" y2="1799.0" stroke="#222" stroke-width="2" stroke-linecap="butt"/>
<line x1="1784.3" y1="1799.0" x2="1808.3" y2="1799.0" stroke="#222" stroke-width="2.5" stroke-linecap="butt"/>
<line x1="1771.0" y1="1741.7" x2="1821.6" y2="1741.7" stroke="#2b2b2b" stroke-width="2" stroke-linecap="butt"/>
<line x1="1796.3" y1="1741.7" x2="1796.3" y2="1738.5" stroke="#222" stroke-width="2" stroke-linecap="butt"/>
<line x1="1784.3" y1="1738.5" x2="1808.3" y2="1738.5" stroke="#222" stroke-width="2.5" stroke-linecap="butt"/>
<line x1="1771.0" y1="1600.8" x2="1821.6" y2="1600.8" stroke="#2b2b2b" stroke-width="2" stroke-linecap="butt"/>
<line x1="1796.3" y1="1600.8" x2="1796.3" y2="1593.6" stroke="#222" stroke-width="2" stroke-linecap="butt"/>
<line x1="1784.3" y1="1593.6" x2="1808.3" y2="1593.6" stroke="#222" stroke-width="2.5" stroke-linecap="butt"/>
<rect x="1878.1" y="1818.9" width="53.4" height="107.6" fill="#ffffff"/>
<rect x="1878.1" y="1726.4" width="53.4" height="92.5" fill="#df8ff5"/>
<rect x="1878.1" y="1672.7" width="53.4" height="53.6" fill="#a600e6"/>
<rect x="1878.1" y="1600.8" width="53.4" height="71.9" fill="#3f0055"/>
<rect x="1878.1" y="1600.8" width="53.4" height="325.7" fill="none" stroke="#2b2b2b" stroke-width="2.5"/>
<line x1="1879.1" y1="1818.9" x2="1930.5" y2="1818.9" stroke="#2b2b2b" stroke-width="2" stroke-linecap="butt"/>
<line x1="1904.8" y1="1818.9" x2="1904.8" y2="1804.5" stroke="#222" stroke-width="2" stroke-linecap="butt"/>
<line x1="1892.8" y1="1804.5" x2="1916.8" y2="1804.5" stroke="#222" stroke-width="2.5" stroke-linecap="butt"/>
<line x1="1879.1" y1="1726.4" x2="1930.5" y2="1726.4" stroke="#2b2b2b" stroke-width="2" stroke-linecap="butt"/>
<line x1="1904.8" y1="1726.4" x2="1904.8" y2="1716.9" stroke="#222" stroke-width="2" stroke-linecap="butt"/>
<line x1="1892.8" y1="1716.9" x2="1916.8" y2="1716.9" stroke="#222" stroke-width="2.5" stroke-linecap="butt"/>
<line x1="1879.1" y1="1672.7" x2="1930.5" y2="1672.7" stroke="#2b2b2b" stroke-width="2" stroke-linecap="butt"/>
<line x1="1904.8" y1="1672.7" x2="1904.8" y2="1659.0" stroke="#222" stroke-width="2" stroke-linecap="butt"/>
<line x1="1892.8" y1="1659.0" x2="1916.8" y2="1659.0" stroke="#222" stroke-width="2.5" stroke-linecap="butt"/>
<line x1="1879.1" y1="1600.8" x2="1930.5" y2="1600.8" stroke="#2b2b2b" stroke-width="2" stroke-linecap="butt"/>
<line x1="1904.8" y1="1600.8" x2="1904.8" y2="1592.3" stroke="#222" stroke-width="2" stroke-linecap="butt"/>
<line x1="1892.8" y1="1592.3" x2="1916.8" y2="1592.3" stroke="#222" stroke-width="2.5" stroke-linecap="butt"/>
<line x1="1517.4" y1="1926.5" x2="1960.3" y2="1926.5" stroke="#333" stroke-width="3" stroke-linecap="butt"/>
<line x1="1581.9" y1="1926.5" x2="1581.9" y2="1938.0" stroke="#555" stroke-width="3" stroke-linecap="butt"/>
<text x="1581.9" y="1976.0" font-size="27.5" fill="#1a1a1a" text-anchor="middle" textLength="72.0" lengthAdjust="spacingAndGlyphs">CTRL</text>
<line x1="1689.1" y1="1926.5" x2="1689.1" y2="1938.0" stroke="#555" stroke-width="3" stroke-linecap="butt"/>
<text x="1689.1" y="1976.0" font-size="27.5" fill="#1a1a1a" text-anchor="middle" textLength="25.0" lengthAdjust="spacingAndGlyphs">IN</text>
<line x1="1796.7" y1="1926.5" x2="1796.7" y2="1938.0" stroke="#555" stroke-width="3" stroke-linecap="butt"/>
<text x="1796.7" y="1976.0" font-size="27.5" fill="#1a1a1a" text-anchor="middle" textLength="60.0" lengthAdjust="spacingAndGlyphs">DOX</text>
<line x1="1904.4" y1="1926.5" x2="1904.4" y2="1938.0" stroke="#555" stroke-width="3" stroke-linecap="butt"/>
<text x="1904.4" y="1976.0" font-size="27.5" fill="#1a1a1a" text-anchor="middle" textLength="96.0" lengthAdjust="spacingAndGlyphs">DOX/IN</text>
<line x1="1581.9" y1="1577.2" x2="1686.6" y2="1577.2" stroke="#444" stroke-width="2.5" stroke-linecap="butt"/>
<text x="1636.5" y="1572.2" font-size="27" fill="#1a1a1a" text-anchor="middle">^</text>
<line x1="1692.0" y1="1561.6" x2="1797.6" y2="1561.6" stroke="#8a8a8a" stroke-width="2.5" stroke-linecap="butt"/>
<text x="1747.9" y="1562.6" font-size="27" fill="#1a1a1a" text-anchor="middle" font-weight="bold" letter-spacing="3">****</text>
<line x1="1800.0" y1="1553.8" x2="1904.4" y2="1553.8" stroke="#8a8a8a" stroke-width="2.5" stroke-linecap="butt"/>
<text x="1860.9" y="1554.8" font-size="27" fill="#1a1a1a" text-anchor="middle" font-weight="bold" letter-spacing="3">****</text>
<text x="1560.5" y="1541.2" font-size="28" fill="#1a1a1a" textLength="139.7" lengthAdjust="spacingAndGlyphs"><tspan font-style="italic">P</tspan> = 0.7681</text>
<text x="1670.2" y="1509.2" font-size="28" fill="#1a1a1a" textLength="139.7" lengthAdjust="spacingAndGlyphs"><tspan font-style="italic">P</tspan> &lt; 0.0001</text>
<text x="1784.4" y="1532.2" font-size="28" fill="#1a1a1a" textLength="139.7" lengthAdjust="spacingAndGlyphs"><tspan font-style="italic">P</tspan> &lt; 0.0001</text>
<rect x="1526.6" y="1418.0" width="46.4" height="8.7" fill="#ffffff" stroke="#444" stroke-width="2"/>
<rect x="1760.0" y="1418.0" width="45.2" height="8.7" fill="#df8ff5" stroke="#8a5a98" stroke-width="2"/>
<rect x="1526.6" y="1460.7" width="46.4" height="8.7" fill="#a600e6" stroke="#5a0078" stroke-width="2"/>
<rect x="1760.0" y="1460.7" width="45.2" height="8.7" fill="#3f0055" stroke="#1d0028" stroke-width="2"/>
<text x="1599.5" y="1432.6" font-size="28" fill="#1a1a1a" textLength="70.7" lengthAdjust="spacingAndGlyphs">0 foci</text>
<text x="1834.6" y="1432.6" font-size="28" fill="#1a1a1a" textLength="101.8" lengthAdjust="spacingAndGlyphs">1~3 foci</text>
<text x="1598.7" y="1475.3" font-size="28" fill="#1a1a1a" textLength="119.2" lengthAdjust="spacingAndGlyphs">4~10 foci</text>
<text x="1833.0" y="1475.3" font-size="28" fill="#1a1a1a" textLength="103.4" lengthAdjust="spacingAndGlyphs">&gt;10 foci</text>
<text x="0" y="0" font-size="30" fill="#1a1a1a" text-anchor="middle" textLength="322.6" lengthAdjust="spacingAndGlyphs" transform="translate(1450.5 1732.3) rotate(-90)">% DDR foci positive cells</text>
<text x="1740.0" y="2033.3" font-size="27" fill="#1a1a1a" text-anchor="middle" textLength="92.0" lengthAdjust="spacingAndGlyphs">Groups</text>
<text x="1400.0" y="1447.8" font-size="60" fill="#000" font-weight="bold">f</text>
<line x1="152.8" y1="2202.5" x2="152.8" y2="2570.0" stroke="#555" stroke-width="2.5" stroke-linecap="butt"/>
<line x1="139.3" y1="2570.0" x2="152.8" y2="2570.0" stroke="#444" stroke-width="3" stroke-linecap="butt"/>
<text x="135.6" y="2579.3" font-size="26" fill="#1a1a1a" text-anchor="end">-2</text>
<line x1="139.3" y1="2533.4" x2="152.8" y2="2533.4" stroke="#444" stroke-width="3" stroke-linecap="butt"/>
<text x="135.6" y="2542.7" font-size="26" fill="#1a1a1a" text-anchor="end">-1</text>
<line x1="139.3" y1="2496.8" x2="152.8" y2="2496.8" stroke="#444" stroke-width="3" stroke-linecap="butt"/>
<text x="135.6" y="2506.1" font-size="26" fill="#1a1a1a" text-anchor="end">0</text>
<line x1="139.3" y1="2460.2" x2="152.8" y2="2460.2" stroke="#444" stroke-width="3" stroke-linecap="butt"/>
<text x="135.6" y="2469.5" font-size="26" fill="#1a1a1a" text-anchor="end">1</text>
<line x1="139.3" y1="2423.6" x2="152.8" y2="2423.6" stroke="#444" stroke-width="3" stroke-linecap="butt"/>
<text x="135.6" y="2432.9" font-size="26" fill="#1a1a1a" text-anchor="end">2</text>
<line x1="139.3" y1="2387.0" x2="152.8" y2="2387.0" stroke="#444" stroke-width="3" stroke-linecap="butt"/>
<text x="135.6" y="2396.3" font-size="26" fill="#1a1a1a" text-anchor="end">3</text>
<line x1="139.3" y1="2350.4" x2="152.8" y2="2350.4" stroke="#444" stroke-width="3" stroke-linecap="butt"/>
<text x="135.6" y="2359.7" font-size="26" fill="#1a1a1a" text-anchor="end">4</text>
<line x1="139.3" y1="2313.8" x2="152.8" y2="2313.8" stroke="#444" stroke-width="3" stroke-linecap="butt"/>
<text x="135.6" y="2323.1" font-size="26" fill="#1a1a1a" text-anchor="end">5</text>
<line x1="139.3" y1="2277.2" x2="152.8" y2="2277.2" stroke="#444" stroke-width="3" stroke-linecap="butt"/>
<text x="135.6" y="2286.5" font-size="26" fill="#1a1a1a" text-anchor="end">6</text>
<line x1="139.3" y1="2240.6" x2="152.8" y2="2240.6" stroke="#444" stroke-width="3" stroke-linecap="butt"/>
<text x="135.6" y="2249.9" font-size="26" fill="#1a1a1a" text-anchor="end">7</text>
<line x1="139.3" y1="2204.0" x2="152.8" y2="2204.0" stroke="#444" stroke-width="3" stroke-linecap="butt"/>
<text x="135.6" y="2213.3" font-size="26" fill="#1a1a1a" text-anchor="end">8</text>
<line x1="139.3" y1="2496.8" x2="648.4" y2="2496.8" stroke="#666" stroke-width="2.5" stroke-linecap="butt"/>
<line x1="166.6" y1="2482.2" x2="166.6" y2="2507.8" stroke="#444" stroke-width="2" stroke-linecap="butt"/>
<circle cx="166.6" cy="2482.2" r="3.6" fill="#000"/>
<circle cx="166.6" cy="2504.1" r="3.6" fill="#000"/>
<circle cx="166.6" cy="2507.8" r="3.6" fill="#000"/>
<line x1="184.2" y1="2460.2" x2="184.2" y2="2524.2" stroke="#444" stroke-width="2" stroke-linecap="butt"/>
<circle cx="184.2" cy="2460.2" r="3.6" fill="#000"/>
<circle cx="184.2" cy="2507.8" r="3.6" fill="#000"/>
<circle cx="184.2" cy="2515.1" r="3.6" fill="#000"/>
<rect x="196.5" y="2337.2" width="12.0" height="159.6" fill="#f40000" stroke="#8a0000" stroke-width="1.5"/>
<line x1="202.5" y1="2317.5" x2="202.5" y2="2337.2" stroke="#444" stroke-width="2" stroke-linecap="butt"/>
<circle cx="202.5" cy="2317.5" r="3.6" fill="#000"/>
<circle cx="202.5" cy="2339.2" r="3.6" fill="#1a0000"/>
<circle cx="202.5" cy="2346.2" r="3.4" fill="#2a0000"/>
<rect x="214.7" y="2411.5" width="12.0" height="85.3" fill="#0000f4" stroke="#00008a" stroke-width="1.5"/>
<line x1="220.7" y1="2401.6" x2="220.7" y2="2411.5" stroke="#444" stroke-width="2" stroke-linecap="butt"/>
<circle cx="220.7" cy="2401.6" r="3.6" fill="#000"/>
<circle cx="220.7" cy="2413.5" r="3.6" fill="#00001a"/>
<circle cx="220.7" cy="2420.5" r="3.4" fill="#00002a"/>
<line x1="195.2" y1="2293.4" x2="227.2" y2="2293.4" stroke="#444" stroke-width="3" stroke-linecap="butt"/>
<text x="215.2" y="2293.4" font-size="24" fill="#1a1a1a" text-anchor="middle" font-weight="bold" letter-spacing="5">**</text>
<text x="158.2" y="2266.4" font-size="25" fill="#1a1a1a" textLength="123.5" lengthAdjust="spacingAndGlyphs"><tspan font-style="italic">P</tspan> = 0.0041</text>
<line x1="249.9" y1="2465.7" x2="249.9" y2="2533.4" stroke="#444" stroke-width="2" stroke-linecap="butt"/>
<circle cx="249.9" cy="2474.8" r="3.6" fill="#000"/>
<circle cx="249.9" cy="2482.2" r="3.6" fill="#000"/>
<circle cx="249.9" cy="2533.4" r="3.6" fill="#000"/>
<line x1="267.5" y1="2467.5" x2="267.5" y2="2513.3" stroke="#444" stroke-width="2" stroke-linecap="butt"/>
<circle cx="267.5" cy="2467.5" r="3.6" fill="#000"/>
<circle cx="267.5" cy="2500.5" r="3.6" fill="#000"/>
<circle cx="267.5" cy="2513.3" r="3.6" fill="#000"/>
<rect x="279.8" y="2286.7" width="12.0" height="210.1" fill="#f40000" stroke="#8a0000" stroke-width="1.5"/>
<line x1="285.8" y1="2258.9" x2="285.8" y2="2286.7" stroke="#444" stroke-width="2" stroke-linecap="butt"/>
<circle cx="285.8" cy="2258.9" r="3.6" fill="#000"/>
<circle cx="285.8" cy="2288.7" r="3.6" fill="#1a0000"/>
<circle cx="285.8" cy="2295.7" r="3.4" fill="#2a0000"/>
<rect x="298.0" y="2375.7" width="12.0" height="121.1" fill="#0000f4" stroke="#00008a" stroke-width="1.5"/>
<line x1="304.0" y1="2356.6" x2="304.0" y2="2375.7" stroke="#444" stroke-width="2" stroke-linecap="butt"/>
<circle cx="304.0" cy="2356.6" r="3.6" fill="#000"/>
<circle cx="304.0" cy="2377.7" r="3.6" fill="#00001a"/>
<circle cx="304.0" cy="2384.7" r="3.4" fill="#00002a"/>
<line x1="276.0" y1="2240.8" x2="308.0" y2="2240.8" stroke="#444" stroke-width="3" stroke-linecap="butt"/>
<text x="296.0" y="2240.8" font-size="24" fill="#1a1a1a" text-anchor="middle" font-weight="bold" letter-spacing="5">**</text>
<text x="219.8" y="2216.3" font-size="25" fill="#1a1a1a" textLength="123.5" lengthAdjust="spacingAndGlyphs"><tspan font-style="italic">P</tspan> = 0.0080</text>
<line x1="333.2" y1="2482.2" x2="333.2" y2="2515.1" stroke="#444" stroke-width="2" stroke-linecap="butt"/>
<circle cx="333.2" cy="2482.2" r="3.6" fill="#000"/>
<circle cx="333.2" cy="2493.1" r="3.6" fill="#000"/>
<circle cx="333.2" cy="2515.1" r="3.6" fill="#000"/>
<line x1="350.8" y1="2460.2" x2="350.8" y2="2529.7" stroke="#444" stroke-width="2" stroke-linecap="butt"/>
<circle cx="350.8" cy="2467.5" r="3.6" fill="#000"/>
<circle cx="350.8" cy="2482.2" r="3.6" fill="#000"/>
<circle cx="350.8" cy="2529.7" r="3.6" fill="#000"/>
<rect x="363.1" y="2358.1" width="12.0" height="138.7" fill="#f40000" stroke="#8a0000" stroke-width="1.5"/>
<line x1="369.1" y1="2341.6" x2="369.1" y2="2358.1" stroke="#444" stroke-width="2" stroke-linecap="butt"/>
<circle cx="369.1" cy="2341.6" r="3.6" fill="#000"/>
<circle cx="369.1" cy="2360.1" r="3.6" fill="#1a0000"/>
<circle cx="369.1" cy="2367.1" r="3.4" fill="#2a0000"/>
<rect x="381.3" y="2416.3" width="12.0" height="80.5" fill="#0000f4" stroke="#00008a" stroke-width="1.5"/>
<line x1="387.3" y1="2405.3" x2="387.3" y2="2416.3" stroke="#444" stroke-width="2" stroke-linecap="butt"/>
<circle cx="387.3" cy="2405.3" r="3.6" fill="#000"/>
<circle cx="387.3" cy="2418.3" r="3.6" fill="#00001a"/>
<circle cx="387.3" cy="2425.3" r="3.4" fill="#00002a"/>
<line x1="360.8" y1="2283.0" x2="392.4" y2="2283.0" stroke="#8a8a8a" stroke-width="3" stroke-linecap="butt"/>
<text x="380.6" y="2283.0" font-size="24" fill="#1a1a1a" text-anchor="middle" font-weight="bold" letter-spacing="5">**</text>
<text x="314.3" y="2256.2" font-size="25" fill="#1a1a1a" textLength="123.5" lengthAdjust="spacingAndGlyphs"><tspan font-style="italic">P</tspan> = 0.0079</text>
<line x1="416.5" y1="2478.5" x2="416.5" y2="2509.6" stroke="#444" stroke-width="2" stroke-linecap="butt"/>
<circle cx="416.5" cy="2478.5" r="3.6" fill="#000"/>
<circle cx="416.5" cy="2504.1" r="3.6" fill="#000"/>
<circle cx="416.5" cy="2509.6" r="3.6" fill="#000"/>
<rect x="428.1" y="2491.3" width="12.0" height="5.5" fill="#f2ea1d" stroke="#8b8b30" stroke-width="1"/>
<line x1="434.1" y1="2476.7" x2="434.1" y2="2511.4" stroke="#444" stroke-width="2" stroke-linecap="butt"/>
<circle cx="434.1" cy="2476.7" r="3.6" fill="#000"/>
<circle cx="434.1" cy="2482.2" r="3.6" fill="#000"/>
<circle cx="434.1" cy="2511.4" r="3.6" fill="#000"/>
<rect x="446.4" y="2359.2" width="12.0" height="137.6" fill="#f40000" stroke="#8a0000" stroke-width="1.5"/>
<line x1="452.4" y1="2343.1" x2="452.4" y2="2359.2" stroke="#444" stroke-width="2" stroke-linecap="butt"/>
<circle cx="452.4" cy="2343.1" r="3.6" fill="#000"/>
<circle cx="452.4" cy="2361.2" r="3.6" fill="#1a0000"/>
<circle cx="452.4" cy="2368.2" r="3.4" fill="#2a0000"/>
<rect x="464.6" y="2398.0" width="12.0" height="98.8" fill="#0000f4" stroke="#00008a" stroke-width="1.5"/>
<line x1="470.6" y1="2385.5" x2="470.6" y2="2398.0" stroke="#444" stroke-width="2" stroke-linecap="butt"/>
<circle cx="470.6" cy="2385.5" r="3.6" fill="#000"/>
<circle cx="470.6" cy="2400.0" r="3.6" fill="#00001a"/>
<circle cx="470.6" cy="2407.0" r="3.4" fill="#00002a"/>
<line x1="443.0" y1="2309.4" x2="474.6" y2="2309.4" stroke="#444" stroke-width="3" stroke-linecap="butt"/>
<text x="462.8" y="2309.4" font-size="24" fill="#1a1a1a" text-anchor="middle" font-weight="bold" letter-spacing="5">*</text>
<text x="400.6" y="2280.8" font-size="25" fill="#1a1a1a" textLength="123.5" lengthAdjust="spacingAndGlyphs"><tspan font-style="italic">P</tspan> = 0.0284</text>
<line x1="499.8" y1="2456.5" x2="499.8" y2="2533.4" stroke="#444" stroke-width="2" stroke-linecap="butt"/>
<circle cx="499.8" cy="2456.5" r="3.6" fill="#000"/>
<circle cx="499.8" cy="2507.8" r="3.6" fill="#000"/>
<circle cx="499.8" cy="2526.1" r="3.6" fill="#000"/>
<line x1="517.4" y1="2460.2" x2="517.4" y2="2526.1" stroke="#444" stroke-width="2" stroke-linecap="butt"/>
<circle cx="517.4" cy="2460.2" r="3.6" fill="#000"/>
<circle cx="517.4" cy="2504.1" r="3.6" fill="#000"/>
<circle cx="517.4" cy="2518.8" r="3.6" fill="#000"/>
<rect x="529.7" y="2341.6" width="12.0" height="155.2" fill="#f40000" stroke="#8a0000" stroke-width="1.5"/>
<line x1="535.7" y1="2332.1" x2="535.7" y2="2341.6" stroke="#444" stroke-width="2" stroke-linecap="butt"/>
<circle cx="535.7" cy="2332.1" r="3.6" fill="#000"/>
<circle cx="535.7" cy="2343.6" r="3.6" fill="#1a0000"/>
<circle cx="535.7" cy="2350.6" r="3.4" fill="#2a0000"/>
<rect x="547.9" y="2387.4" width="12.0" height="109.4" fill="#0000f4" stroke="#00008a" stroke-width="1.5"/>
<line x1="553.9" y1="2372.4" x2="553.9" y2="2387.4" stroke="#444" stroke-width="2" stroke-linecap="butt"/>
<circle cx="553.9" cy="2372.4" r="3.6" fill="#000"/>
<circle cx="553.9" cy="2389.4" r="3.6" fill="#00001a"/>
<circle cx="553.9" cy="2396.4" r="3.4" fill="#00002a"/>
<line x1="528.0" y1="2283.0" x2="559.6" y2="2283.0" stroke="#8a8a8a" stroke-width="3" stroke-linecap="butt"/>
<text x="547.8" y="2283.0" font-size="24" fill="#1a1a1a" text-anchor="middle" font-weight="bold" letter-spacing="5">**</text>
<text x="471.7" y="2252.0" font-size="25" fill="#1a1a1a" textLength="123.5" lengthAdjust="spacingAndGlyphs"><tspan font-style="italic">P</tspan> = 0.0097</text>
<line x1="583.1" y1="2469.4" x2="583.1" y2="2529.7" stroke="#444" stroke-width="2" stroke-linecap="butt"/>
<circle cx="583.1" cy="2478.5" r="3.6" fill="#000"/>
<circle cx="583.1" cy="2480.3" r="3.6" fill="#000"/>
<circle cx="583.1" cy="2529.7" r="3.6" fill="#000"/>
<rect x="594.7" y="2484.0" width="12.0" height="12.8" fill="#f2ea1d" stroke="#8b8b30" stroke-width="1"/>
<line x1="600.7" y1="2476.7" x2="600.7" y2="2482.2" stroke="#444" stroke-width="2" stroke-linecap="butt"/>
<circle cx="600.7" cy="2476.7" r="3.6" fill="#000"/>
<circle cx="600.7" cy="2478.5" r="3.6" fill="#000"/>
<circle cx="600.7" cy="2482.2" r="3.6" fill="#000"/>
<rect x="613.0" y="2316.7" width="12.0" height="180.1" fill="#f40000" stroke="#8a0000" stroke-width="1.5"/>
<line x1="619.0" y1="2298.4" x2="619.0" y2="2316.7" stroke="#444" stroke-width="2" stroke-linecap="butt"/>
<circle cx="619.0" cy="2298.4" r="3.6" fill="#000"/>
<circle cx="619.0" cy="2318.7" r="3.6" fill="#1a0000"/>
<circle cx="619.0" cy="2325.7" r="3.4" fill="#2a0000"/>
<rect x="631.2" y="2370.2" width="12.0" height="126.6" fill="#0000f4" stroke="#00008a" stroke-width="1.5"/>
<line x1="637.2" y1="2355.9" x2="637.2" y2="2370.2" stroke="#444" stroke-width="2" stroke-linecap="butt"/>
<circle cx="637.2" cy="2355.9" r="3.6" fill="#000"/>
<circle cx="637.2" cy="2372.2" r="3.6" fill="#00001a"/>
<circle cx="637.2" cy="2379.2" r="3.4" fill="#00002a"/>
<line x1="612.2" y1="2254.0" x2="644.3" y2="2254.0" stroke="#8a8a8a" stroke-width="3" stroke-linecap="butt"/>
<text x="632.2" y="2254.0" font-size="24" fill="#1a1a1a" text-anchor="middle" font-weight="bold" letter-spacing="5">*</text>
<text x="552.6" y="2227.4" font-size="25" fill="#1a1a1a" textLength="123.5" lengthAdjust="spacingAndGlyphs"><tspan font-style="italic">P</tspan> = 0.0144</text>
<line x1="139.3" y1="2570.0" x2="648.4" y2="2570.0" stroke="#333" stroke-width="3" stroke-linecap="butt"/>
<line x1="193.9" y1="2570.0" x2="193.9" y2="2583.5" stroke="#555" stroke-width="3" stroke-linecap="butt"/>
<text x="0" y="0" font-size="27.5" fill="#1a1a1a" text-anchor="end" transform="translate(201.9 2604.5) rotate(-45)">IL6</text>
<line x1="277.2" y1="2570.0" x2="277.2" y2="2583.5" stroke="#555" stroke-width="3" stroke-linecap="butt"/>
<text x="0" y="0" font-size="27.5" fill="#1a1a1a" text-anchor="end" transform="translate(285.2 2604.5) rotate(-45)">CXCL8</text>
<line x1="360.5" y1="2570.0" x2="360.5" y2="2583.5" stroke="#555" stroke-width="3" stroke-linecap="butt"/>
<text x="0" y="0" font-size="27.5" fill="#1a1a1a" text-anchor="end" transform="translate(368.5 2604.5) rotate(-45)">CSF2</text>
<line x1="443.8" y1="2570.0" x2="443.8" y2="2583.5" stroke="#555" stroke-width="3" stroke-linecap="butt"/>
<text x="0" y="0" font-size="27.5" fill="#1a1a1a" text-anchor="end" transform="translate(451.8 2604.5) rotate(-45)">AREG</text>
<line x1="527.1" y1="2570.0" x2="527.1" y2="2583.5" stroke="#555" stroke-width="3" stroke-linecap="butt"/>
<text x="0" y="0" font-size="27.5" fill="#1a1a1a" text-anchor="end" transform="translate(535.1 2604.5) rotate(-45)">MMP3</text>
<line x1="610.4" y1="2570.0" x2="610.4" y2="2583.5" stroke="#555" stroke-width="3" stroke-linecap="butt"/>
<text x="0" y="0" font-size="27.5" fill="#1a1a1a" text-anchor="end" transform="translate(618.4 2604.5) rotate(-45)">CXCL1</text>
<rect x="88.3" y="2146.3" width="45.2" height="18.5" fill="#fff" stroke="#777" stroke-width="2.5"/>
<text x="145.9" y="2165.0" font-size="27" fill="#1a1a1a" textLength="68.6" lengthAdjust="spacingAndGlyphs">CTRL</text>
<rect x="252.7" y="2146.3" width="42.3" height="18.5" fill="#f2ea1d" stroke="#6b5a10" stroke-width="2.5"/>
<text x="307.7" y="2165.0" font-size="27" fill="#1a1a1a" letter-spacing="-5">IN</text>
<rect x="369.8" y="2146.3" width="45.2" height="18.5" fill="#f40000" stroke="#7a0000" stroke-width="2.5"/>
<text x="427.3" y="2165.0" font-size="27" fill="#1a1a1a" textLength="39.0" lengthAdjust="spacingAndGlyphs">RS</text>
<rect x="509.5" y="2146.3" width="45.2" height="18.5" fill="#0000f4" stroke="#00007a" stroke-width="2.5"/>
<text x="570.3" y="2165.0" font-size="27" fill="#1a1a1a" textLength="68.7" lengthAdjust="spacingAndGlyphs">RS/IN</text>
<text x="0" y="0" font-size="26" fill="#1a1a1a" text-anchor="middle" textLength="408.0" lengthAdjust="spacingAndGlyphs" transform="translate(94.0 2386.6) rotate(-90)">Log2 fold change relative to control</text>
<text x="402.7" y="2708.4" font-size="25" fill="#1a1a1a" text-anchor="middle" textLength="76.0" lengthAdjust="spacingAndGlyphs">Genes</text>
<text x="3.0" y="2109.0" font-size="60" fill="#000" font-weight="bold">g</text>
<line x1="858.7" y1="2203.7" x2="858.7" y2="2572.2" stroke="#555" stroke-width="2.5" stroke-linecap="butt"/>
<line x1="845.2" y1="2572.2" x2="858.7" y2="2572.2" stroke="#444" stroke-width="3" stroke-linecap="butt"/>
<text x="842.3" y="2581.5" font-size="26" fill="#1a1a1a" text-anchor="end">-2</text>
<line x1="845.2" y1="2535.5" x2="858.7" y2="2535.5" stroke="#444" stroke-width="3" stroke-linecap="butt"/>
<text x="842.3" y="2544.8" font-size="26" fill="#1a1a1a" text-anchor="end">-1</text>
<line x1="845.2" y1="2498.8" x2="858.7" y2="2498.8" stroke="#444" stroke-width="3" stroke-linecap="butt"/>
<text x="842.3" y="2508.1" font-size="26" fill="#1a1a1a" text-anchor="end">0</text>
<line x1="845.2" y1="2462.1" x2="858.7" y2="2462.1" stroke="#444" stroke-width="3" stroke-linecap="butt"/>
<text x="842.3" y="2471.4" font-size="26" fill="#1a1a1a" text-anchor="end">1</text>
<line x1="845.2" y1="2425.4" x2="858.7" y2="2425.4" stroke="#444" stroke-width="3" stroke-linecap="butt"/>
<text x="842.3" y="2434.7" font-size="26" fill="#1a1a1a" text-anchor="end">2</text>
<line x1="845.2" y1="2388.7" x2="858.7" y2="2388.7" stroke="#444" stroke-width="3" stroke-linecap="butt"/>
<text x="842.3" y="2398.0" font-size="26" fill="#1a1a1a" text-anchor="end">3</text>
<line x1="845.2" y1="2352.0" x2="858.7" y2="2352.0" stroke="#444" stroke-width="3" stroke-linecap="butt"/>
<text x="842.3" y="2361.3" font-size="26" fill="#1a1a1a" text-anchor="end">4</text>
<line x1="845.2" y1="2315.3" x2="858.7" y2="2315.3" stroke="#444" stroke-width="3" stroke-linecap="butt"/>
<text x="842.3" y="2324.6" font-size="26" fill="#1a1a1a" text-anchor="end">5</text>
<line x1="845.2" y1="2278.6" x2="858.7" y2="2278.6" stroke="#444" stroke-width="3" stroke-linecap="butt"/>
<text x="842.3" y="2287.9" font-size="26" fill="#1a1a1a" text-anchor="end">6</text>
<line x1="845.2" y1="2241.9" x2="858.7" y2="2241.9" stroke="#444" stroke-width="3" stroke-linecap="butt"/>
<text x="842.3" y="2251.2" font-size="26" fill="#1a1a1a" text-anchor="end">7</text>
<line x1="845.2" y1="2205.2" x2="858.7" y2="2205.2" stroke="#444" stroke-width="3" stroke-linecap="butt"/>
<text x="842.3" y="2214.5" font-size="26" fill="#1a1a1a" text-anchor="end">8</text>
<line x1="845.2" y1="2498.8" x2="1355.0" y2="2498.8" stroke="#666" stroke-width="2.5" stroke-linecap="butt"/>
<line x1="871.0" y1="2462.1" x2="871.0" y2="2530.0" stroke="#444" stroke-width="2" stroke-linecap="butt"/>
<circle cx="871.0" cy="2462.1" r="3.6" fill="#000"/>
<circle cx="871.0" cy="2513.5" r="3.6" fill="#000"/>
<circle cx="871.0" cy="2519.0" r="3.6" fill="#000"/>
<rect x="883.5" y="2493.3" width="12.0" height="5.5" fill="#f2ea1d" stroke="#8b8b30" stroke-width="1"/>
<line x1="889.5" y1="2451.1" x2="889.5" y2="2526.3" stroke="#444" stroke-width="2" stroke-linecap="butt"/>
<circle cx="889.5" cy="2451.1" r="3.6" fill="#000"/>
<circle cx="889.5" cy="2509.8" r="3.6" fill="#000"/>
<circle cx="889.5" cy="2511.6" r="3.6" fill="#000"/>
<rect x="901.4" y="2283.7" width="12.0" height="215.1" fill="#f40000" stroke="#8a0000" stroke-width="1.5"/>
<line x1="907.4" y1="2266.5" x2="907.4" y2="2283.7" stroke="#444" stroke-width="2" stroke-linecap="butt"/>
<circle cx="907.4" cy="2266.5" r="3.6" fill="#000"/>
<circle cx="907.4" cy="2285.7" r="3.6" fill="#1a0000"/>
<circle cx="907.4" cy="2292.7" r="3.4" fill="#2a0000"/>
<rect x="919.5" y="2360.1" width="12.0" height="138.7" fill="#0000f4" stroke="#00008a" stroke-width="1.5"/>
<line x1="925.5" y1="2347.6" x2="925.5" y2="2360.1" stroke="#444" stroke-width="2" stroke-linecap="butt"/>
<circle cx="925.5" cy="2347.6" r="3.6" fill="#000"/>
<circle cx="925.5" cy="2362.1" r="3.6" fill="#00001a"/>
<circle cx="925.5" cy="2369.1" r="3.4" fill="#00002a"/>
<line x1="899.8" y1="2258.5" x2="931.5" y2="2258.5" stroke="#444" stroke-width="3" stroke-linecap="butt"/>
<text x="919.6" y="2258.5" font-size="24" fill="#1a1a1a" text-anchor="middle" font-weight="bold" letter-spacing="5">**</text>
<text x="860.8" y="2235.6" font-size="25" fill="#1a1a1a" textLength="123.5" lengthAdjust="spacingAndGlyphs"><tspan font-style="italic">P</tspan> = 0.0024</text>
<line x1="954.4" y1="2458.4" x2="954.4" y2="2546.5" stroke="#444" stroke-width="2" stroke-linecap="butt"/>
<circle cx="954.4" cy="2469.4" r="3.6" fill="#000"/>
<circle cx="954.4" cy="2480.5" r="3.6" fill="#000"/>
<circle cx="954.4" cy="2546.5" r="3.6" fill="#000"/>
<line x1="972.9" y1="2462.1" x2="972.9" y2="2526.3" stroke="#444" stroke-width="2" stroke-linecap="butt"/>
<circle cx="972.9" cy="2462.1" r="3.6" fill="#000"/>
<circle cx="972.9" cy="2506.1" r="3.6" fill="#000"/>
<circle cx="972.9" cy="2520.8" r="3.6" fill="#000"/>
<rect x="984.8" y="2248.1" width="12.0" height="250.7" fill="#f40000" stroke="#8a0000" stroke-width="1.5"/>
<line x1="990.8" y1="2229.8" x2="990.8" y2="2248.1" stroke="#444" stroke-width="2" stroke-linecap="butt"/>
<circle cx="990.8" cy="2229.8" r="3.6" fill="#000"/>
<circle cx="990.8" cy="2250.1" r="3.6" fill="#1a0000"/>
<circle cx="990.8" cy="2257.1" r="3.4" fill="#2a0000"/>
<rect x="1002.9" y="2334.4" width="12.0" height="164.4" fill="#0000f4" stroke="#00008a" stroke-width="1.5"/>
<line x1="1008.9" y1="2321.5" x2="1008.9" y2="2334.4" stroke="#444" stroke-width="2" stroke-linecap="butt"/>
<circle cx="1008.9" cy="2321.5" r="3.6" fill="#000"/>
<circle cx="1008.9" cy="2336.4" r="3.6" fill="#00001a"/>
<circle cx="1008.9" cy="2343.4" r="3.4" fill="#00002a"/>
<line x1="984.0" y1="2217.0" x2="1014.9" y2="2217.0" stroke="#8a8a8a" stroke-width="3" stroke-linecap="butt"/>
<text x="1003.5" y="2217.0" font-size="24" fill="#1a1a1a" text-anchor="middle" font-weight="bold" letter-spacing="5">**</text>
<text x="923.2" y="2194.5" font-size="25" fill="#1a1a1a" textLength="123.5" lengthAdjust="spacingAndGlyphs"><tspan font-style="italic">P</tspan> = 0.0015</text>
<line x1="1037.8" y1="2476.8" x2="1037.8" y2="2517.2" stroke="#444" stroke-width="2" stroke-linecap="butt"/>
<circle cx="1037.8" cy="2476.8" r="3.6" fill="#000"/>
<circle cx="1037.8" cy="2502.5" r="3.6" fill="#000"/>
<circle cx="1037.8" cy="2517.2" r="3.6" fill="#000"/>
<line x1="1056.3" y1="2467.6" x2="1056.3" y2="2531.8" stroke="#444" stroke-width="2" stroke-linecap="butt"/>
<circle cx="1056.3" cy="2473.1" r="3.6" fill="#000"/>
<circle cx="1056.3" cy="2487.8" r="3.6" fill="#000"/>
<circle cx="1056.3" cy="2531.8" r="3.6" fill="#000"/>
<rect x="1068.2" y="2299.5" width="12.0" height="199.3" fill="#f40000" stroke="#8a0000" stroke-width="1.5"/>
<line x1="1074.2" y1="2281.9" x2="1074.2" y2="2299.5" stroke="#444" stroke-width="2" stroke-linecap="butt"/>
<circle cx="1074.2" cy="2281.9" r="3.6" fill="#000"/>
<circle cx="1074.2" cy="2301.5" r="3.6" fill="#1a0000"/>
<circle cx="1074.2" cy="2308.5" r="3.4" fill="#2a0000"/>
<rect x="1086.3" y="2352.0" width="12.0" height="146.8" fill="#0000f4" stroke="#00008a" stroke-width="1.5"/>
<line x1="1092.3" y1="2340.6" x2="1092.3" y2="2352.0" stroke="#444" stroke-width="2" stroke-linecap="butt"/>
<circle cx="1092.3" cy="2340.6" r="3.6" fill="#000"/>
<circle cx="1092.3" cy="2354.0" r="3.6" fill="#00001a"/>
<circle cx="1092.3" cy="2361.0" r="3.4" fill="#00002a"/>
<line x1="1068.3" y1="2265.4" x2="1100.0" y2="2265.4" stroke="#8a8a8a" stroke-width="3" stroke-linecap="butt"/>
<text x="1088.2" y="2265.4" font-size="24" fill="#1a1a1a" text-anchor="middle" font-weight="bold" letter-spacing="5">**</text>
<text x="1014.9" y="2242.6" font-size="25" fill="#1a1a1a" textLength="123.5" lengthAdjust="spacingAndGlyphs"><tspan font-style="italic">P</tspan> = 0.0093</text>
<line x1="1121.2" y1="2469.4" x2="1121.2" y2="2524.5" stroke="#444" stroke-width="2" stroke-linecap="butt"/>
<circle cx="1121.2" cy="2469.4" r="3.6" fill="#000"/>
<circle cx="1121.2" cy="2509.8" r="3.6" fill="#000"/>
<circle cx="1121.2" cy="2517.2" r="3.6" fill="#000"/>
<rect x="1133.7" y="2491.5" width="12.0" height="7.3" fill="#f2ea1d" stroke="#8b8b30" stroke-width="1"/>
<line x1="1139.7" y1="2469.4" x2="1139.7" y2="2517.2" stroke="#444" stroke-width="2" stroke-linecap="butt"/>
<circle cx="1139.7" cy="2469.4" r="3.6" fill="#000"/>
<circle cx="1139.7" cy="2484.1" r="3.6" fill="#000"/>
<circle cx="1139.7" cy="2517.2" r="3.6" fill="#000"/>
<rect x="1151.6" y="2317.5" width="12.0" height="181.3" fill="#f40000" stroke="#8a0000" stroke-width="1.5"/>
<line x1="1157.6" y1="2303.6" x2="1157.6" y2="2317.5" stroke="#444" stroke-width="2" stroke-linecap="butt"/>
<circle cx="1157.6" cy="2303.6" r="3.6" fill="#000"/>
<circle cx="1157.6" cy="2319.5" r="3.6" fill="#1a0000"/>
<circle cx="1157.6" cy="2326.5" r="3.4" fill="#2a0000"/>
<rect x="1169.7" y="2359.3" width="12.0" height="139.5" fill="#0000f4" stroke="#00008a" stroke-width="1.5"/>
<line x1="1175.7" y1="2343.6" x2="1175.7" y2="2359.3" stroke="#444" stroke-width="2" stroke-linecap="butt"/>
<circle cx="1175.7" cy="2343.6" r="3.6" fill="#000"/>
<circle cx="1175.7" cy="2361.3" r="3.6" fill="#00001a"/>
<circle cx="1175.7" cy="2368.3" r="3.4" fill="#00002a"/>
<line x1="1150.5" y1="2288.9" x2="1182.0" y2="2288.9" stroke="#8a8a8a" stroke-width="3" stroke-linecap="butt"/>
<text x="1170.2" y="2288.9" font-size="24" fill="#1a1a1a" text-anchor="middle" font-weight="bold" letter-spacing="5">*</text>
<text x="1103.2" y="2264.4" font-size="25" fill="#1a1a1a" textLength="123.5" lengthAdjust="spacingAndGlyphs"><tspan font-style="italic">P</tspan> = 0.0236</text>
<line x1="1204.6" y1="2447.4" x2="1204.6" y2="2544.7" stroke="#444" stroke-width="2" stroke-linecap="butt"/>
<circle cx="1204.6" cy="2447.4" r="3.6" fill="#000"/>
<circle cx="1204.6" cy="2509.8" r="3.6" fill="#000"/>
<circle cx="1204.6" cy="2539.2" r="3.6" fill="#000"/>
<line x1="1223.1" y1="2458.4" x2="1223.1" y2="2535.5" stroke="#444" stroke-width="2" stroke-linecap="butt"/>
<circle cx="1223.1" cy="2458.4" r="3.6" fill="#000"/>
<circle cx="1223.1" cy="2509.8" r="3.6" fill="#000"/>
<circle cx="1223.1" cy="2528.2" r="3.6" fill="#000"/>
<rect x="1235.0" y="2342.8" width="12.0" height="156.0" fill="#f40000" stroke="#8a0000" stroke-width="1.5"/>
<line x1="1241.0" y1="2332.5" x2="1241.0" y2="2342.8" stroke="#444" stroke-width="2" stroke-linecap="butt"/>
<circle cx="1241.0" cy="2332.5" r="3.6" fill="#000"/>
<circle cx="1241.0" cy="2344.8" r="3.6" fill="#1a0000"/>
<circle cx="1241.0" cy="2351.8" r="3.4" fill="#2a0000"/>
<rect x="1253.1" y="2388.7" width="12.0" height="110.1" fill="#0000f4" stroke="#00008a" stroke-width="1.5"/>
<line x1="1259.1" y1="2373.7" x2="1259.1" y2="2388.7" stroke="#444" stroke-width="2" stroke-linecap="butt"/>
<circle cx="1259.1" cy="2373.7" r="3.6" fill="#000"/>
<circle cx="1259.1" cy="2390.7" r="3.6" fill="#00001a"/>
<circle cx="1259.1" cy="2397.7" r="3.4" fill="#00002a"/>
<line x1="1233.5" y1="2281.0" x2="1265.5" y2="2281.0" stroke="#444" stroke-width="3" stroke-linecap="butt"/>
<text x="1253.5" y="2281.0" font-size="24" fill="#1a1a1a" text-anchor="middle" font-weight="bold" letter-spacing="5">**</text>
<text x="1176.3" y="2240.6" font-size="25" fill="#1a1a1a" textLength="123.5" lengthAdjust="spacingAndGlyphs"><tspan font-style="italic">P</tspan> = 0.0097</text>
<line x1="1288.0" y1="2458.4" x2="1288.0" y2="2546.5" stroke="#444" stroke-width="2" stroke-linecap="butt"/>
<circle cx="1288.0" cy="2469.4" r="3.6" fill="#000"/>
<circle cx="1288.0" cy="2480.5" r="3.6" fill="#000"/>
<circle cx="1288.0" cy="2546.5" r="3.6" fill="#000"/>
<rect x="1300.5" y="2484.1" width="12.0" height="14.7" fill="#f2ea1d" stroke="#8b8b30" stroke-width="1"/>
<line x1="1306.5" y1="2469.4" x2="1306.5" y2="2491.5" stroke="#444" stroke-width="2" stroke-linecap="butt"/>
<circle cx="1306.5" cy="2469.4" r="3.6" fill="#000"/>
<circle cx="1306.5" cy="2484.1" r="3.6" fill="#000"/>
<circle cx="1306.5" cy="2491.5" r="3.6" fill="#000"/>
<rect x="1318.4" y="2276.8" width="12.0" height="222.0" fill="#f40000" stroke="#8a0000" stroke-width="1.5"/>
<line x1="1324.4" y1="2260.2" x2="1324.4" y2="2276.8" stroke="#444" stroke-width="2" stroke-linecap="butt"/>
<circle cx="1324.4" cy="2260.2" r="3.6" fill="#000"/>
<circle cx="1324.4" cy="2278.8" r="3.6" fill="#1a0000"/>
<circle cx="1324.4" cy="2285.8" r="3.4" fill="#2a0000"/>
<rect x="1336.5" y="2343.6" width="12.0" height="155.2" fill="#0000f4" stroke="#00008a" stroke-width="1.5"/>
<line x1="1342.5" y1="2332.5" x2="1342.5" y2="2343.6" stroke="#444" stroke-width="2" stroke-linecap="butt"/>
<circle cx="1342.5" cy="2332.5" r="3.6" fill="#000"/>
<circle cx="1342.5" cy="2345.6" r="3.6" fill="#00001a"/>
<circle cx="1342.5" cy="2352.6" r="3.4" fill="#00002a"/>
<line x1="1318.0" y1="2233.8" x2="1349.7" y2="2233.8" stroke="#444" stroke-width="3" stroke-linecap="butt"/>
<text x="1337.8" y="2233.8" font-size="24" fill="#1a1a1a" text-anchor="middle" font-weight="bold" letter-spacing="5">**</text>
<text x="1251.1" y="2208.0" font-size="25" fill="#1a1a1a" textLength="123.5" lengthAdjust="spacingAndGlyphs"><tspan font-style="italic">P</tspan> = 0.0037</text>
<line x1="845.2" y1="2572.2" x2="1355.0" y2="2572.2" stroke="#333" stroke-width="3" stroke-linecap="butt"/>
<line x1="897.8" y1="2572.2" x2="897.8" y2="2585.7" stroke="#555" stroke-width="3" stroke-linecap="butt"/>
<text x="0" y="0" font-size="27.5" fill="#1a1a1a" text-anchor="end" transform="translate(905.8 2606.7) rotate(-45)">IL6</text>
<line x1="981.2" y1="2572.2" x2="981.2" y2="2585.7" stroke="#555" stroke-width="3" stroke-linecap="butt"/>
<text x="0" y="0" font-size="27.5" fill="#1a1a1a" text-anchor="end" transform="translate(989.2 2606.7) rotate(-45)">CXCL8</text>
<line x1="1064.6" y1="2572.2" x2="1064.6" y2="2585.7" stroke="#555" stroke-width="3" stroke-linecap="butt"/>
<text x="0" y="0" font-size="27.5" fill="#1a1a1a" text-anchor="end" transform="translate(1072.6 2606.7) rotate(-45)">CSF2</text>
<line x1="1148.0" y1="2572.2" x2="1148.0" y2="2585.7" stroke="#555" stroke-width="3" stroke-linecap="butt"/>
<text x="0" y="0" font-size="27.5" fill="#1a1a1a" text-anchor="end" transform="translate(1156.0 2606.7) rotate(-45)">AREG</text>
<line x1="1231.4" y1="2572.2" x2="1231.4" y2="2585.7" stroke="#555" stroke-width="3" stroke-linecap="butt"/>
<text x="0" y="0" font-size="27.5" fill="#1a1a1a" text-anchor="end" transform="translate(1239.4 2606.7) rotate(-45)">MMP3</text>
<line x1="1314.8" y1="2572.2" x2="1314.8" y2="2585.7" stroke="#555" stroke-width="3" stroke-linecap="butt"/>
<text x="0" y="0" font-size="27.5" fill="#1a1a1a" text-anchor="end" transform="translate(1322.8 2606.7) rotate(-45)">CXCL1</text>
<rect x="794.2" y="2146.3" width="44.0" height="19.7" fill="#fff" stroke="#3a3a3a" stroke-width="2.5"/>
<text x="850.5" y="2165.0" font-size="27" fill="#1a1a1a" textLength="68.5" lengthAdjust="spacingAndGlyphs">CTRL</text>
<rect x="951.2" y="2146.3" width="45.2" height="19.7" fill="#f2ea1d" stroke="#6b5a10" stroke-width="2.5"/>
<text x="1005.0" y="2165.0" font-size="27" fill="#1a1a1a" letter-spacing="-5">IN</text>
<rect x="1070.3" y="2146.3" width="45.2" height="19.7" fill="#f40000" stroke="#7a0000" stroke-width="2.5"/>
<text x="1123.7" y="2165.0" font-size="27" fill="#1a1a1a" textLength="55.5" lengthAdjust="spacingAndGlyphs">RAS</text>
<rect x="1223.2" y="2146.3" width="45.2" height="19.7" fill="#0000f4" stroke="#00007a" stroke-width="2.5"/>
<text x="1275.8" y="2165.0" font-size="27" fill="#1a1a1a" textLength="86.2" lengthAdjust="spacingAndGlyphs">RAS/IN</text>
<text x="0" y="0" font-size="26" fill="#1a1a1a" text-anchor="middle" textLength="411.0" lengthAdjust="spacingAndGlyphs" transform="translate(799.0 2388.0) rotate(-90)">Log2 fold change relative to control</text>
<text x="1107.3" y="2711.0" font-size="25" fill="#1a1a1a" text-anchor="middle" textLength="76.0" lengthAdjust="spacingAndGlyphs">Genes</text>
<text x="714.0" y="2104.4" font-size="60" fill="#000" font-weight="bold">h</text>
<line x1="1510.0" y1="2203.3" x2="1510.0" y2="2571.8" stroke="#555" stroke-width="2.5" stroke-linecap="butt"/>
<line x1="1496.5" y1="2571.8" x2="1510.0" y2="2571.8" stroke="#444" stroke-width="3" stroke-linecap="butt"/>
<text x="1492.7" y="2581.1" font-size="26" fill="#1a1a1a" text-anchor="end">-2</text>
<line x1="1496.5" y1="2535.1" x2="1510.0" y2="2535.1" stroke="#444" stroke-width="3" stroke-linecap="butt"/>
<text x="1492.7" y="2544.4" font-size="26" fill="#1a1a1a" text-anchor="end">-1</text>
<line x1="1496.5" y1="2498.4" x2="1510.0" y2="2498.4" stroke="#444" stroke-width="3" stroke-linecap="butt"/>
<text x="1492.7" y="2507.7" font-size="26" fill="#1a1a1a" text-anchor="end">0</text>
<line x1="1496.5" y1="2461.7" x2="1510.0" y2="2461.7" stroke="#444" stroke-width="3" stroke-linecap="butt"/>
<text x="1492.7" y="2471.0" font-size="26" fill="#1a1a1a" text-anchor="end">1</text>
<line x1="1496.5" y1="2425.0" x2="1510.0" y2="2425.0" stroke="#444" stroke-width="3" stroke-linecap="butt"/>
<text x="1492.7" y="2434.3" font-size="26" fill="#1a1a1a" text-anchor="end">2</text>
<line x1="1496.5" y1="2388.3" x2="1510.0" y2="2388.3" stroke="#444" stroke-width="3" stroke-linecap="butt"/>
<text x="1492.7" y="2397.6" font-size="26" fill="#1a1a1a" text-anchor="end">3</text>
<line x1="1496.5" y1="2351.6" x2="1510.0" y2="2351.6" stroke="#444" stroke-width="3" stroke-linecap="butt"/>
<text x="1492.7" y="2360.9" font-size="26" fill="#1a1a1a" text-anchor="end">4</text>
<line x1="1496.5" y1="2314.9" x2="1510.0" y2="2314.9" stroke="#444" stroke-width="3" stroke-linecap="butt"/>
<text x="1492.7" y="2324.2" font-size="26" fill="#1a1a1a" text-anchor="end">5</text>
<line x1="1496.5" y1="2278.2" x2="1510.0" y2="2278.2" stroke="#444" stroke-width="3" stroke-linecap="butt"/>
<text x="1492.7" y="2287.5" font-size="26" fill="#1a1a1a" text-anchor="end">6</text>
<line x1="1496.5" y1="2241.5" x2="1510.0" y2="2241.5" stroke="#444" stroke-width="3" stroke-linecap="butt"/>
<text x="1492.7" y="2250.8" font-size="26" fill="#1a1a1a" text-anchor="end">7</text>
<line x1="1496.5" y1="2204.8" x2="1510.0" y2="2204.8" stroke="#444" stroke-width="3" stroke-linecap="butt"/>
<text x="1492.7" y="2214.1" font-size="26" fill="#1a1a1a" text-anchor="end">8</text>
<line x1="1496.5" y1="2498.4" x2="2004.2" y2="2498.4" stroke="#666" stroke-width="2.5" stroke-linecap="butt"/>
<line x1="1521.5" y1="2469.0" x2="1521.5" y2="2524.1" stroke="#444" stroke-width="2" stroke-linecap="butt"/>
<circle cx="1521.5" cy="2469.0" r="3.6" fill="#000"/>
<circle cx="1521.5" cy="2509.4" r="3.6" fill="#000"/>
<circle cx="1521.5" cy="2514.9" r="3.6" fill="#000"/>
<rect x="1533.1" y="2494.7" width="12.0" height="3.7" fill="#f2ea1d" stroke="#8b8b30" stroke-width="1"/>
<line x1="1539.1" y1="2458.0" x2="1539.1" y2="2524.1" stroke="#444" stroke-width="2" stroke-linecap="butt"/>
<circle cx="1539.1" cy="2458.0" r="3.6" fill="#000"/>
<circle cx="1539.1" cy="2505.7" r="3.6" fill="#000"/>
<circle cx="1539.1" cy="2516.8" r="3.6" fill="#000"/>
<rect x="1551.5" y="2278.9" width="12.0" height="219.5" fill="#f40000" stroke="#8a0000" stroke-width="1.5"/>
<line x1="1557.5" y1="2266.8" x2="1557.5" y2="2278.9" stroke="#444" stroke-width="2" stroke-linecap="butt"/>
<circle cx="1557.5" cy="2266.8" r="3.6" fill="#000"/>
<circle cx="1557.5" cy="2280.9" r="3.6" fill="#1a0000"/>
<circle cx="1557.5" cy="2287.9" r="3.4" fill="#2a0000"/>
<rect x="1569.3" y="2352.7" width="12.0" height="145.7" fill="#0000f4" stroke="#00008a" stroke-width="1.5"/>
<line x1="1575.3" y1="2340.2" x2="1575.3" y2="2352.7" stroke="#444" stroke-width="2" stroke-linecap="butt"/>
<circle cx="1575.3" cy="2340.2" r="3.6" fill="#000"/>
<circle cx="1575.3" cy="2354.7" r="3.6" fill="#00001a"/>
<circle cx="1575.3" cy="2361.7" r="3.4" fill="#00002a"/>
<line x1="1549.4" y1="2249.8" x2="1581.9" y2="2249.8" stroke="#444" stroke-width="3" stroke-linecap="butt"/>
<text x="1569.7" y="2249.8" font-size="24" fill="#1a1a1a" text-anchor="middle" font-weight="bold" letter-spacing="5">***</text>
<text x="1511.2" y="2227.4" font-size="25" fill="#1a1a1a" textLength="123.5" lengthAdjust="spacingAndGlyphs"><tspan font-style="italic">P</tspan> = 0.0004</text>
<line x1="1604.9" y1="2465.4" x2="1604.9" y2="2542.4" stroke="#444" stroke-width="2" stroke-linecap="butt"/>
<circle cx="1604.9" cy="2465.4" r="3.6" fill="#000"/>
<circle cx="1604.9" cy="2487.4" r="3.6" fill="#000"/>
<circle cx="1604.9" cy="2542.4" r="3.6" fill="#000"/>
<rect x="1616.5" y="2492.9" width="12.0" height="5.5" fill="#f2ea1d" stroke="#8b8b30" stroke-width="1"/>
<line x1="1622.5" y1="2480.1" x2="1622.5" y2="2509.4" stroke="#444" stroke-width="2" stroke-linecap="butt"/>
<circle cx="1622.5" cy="2480.1" r="3.6" fill="#000"/>
<circle cx="1622.5" cy="2494.7" r="3.6" fill="#000"/>
<circle cx="1622.5" cy="2509.4" r="3.6" fill="#000"/>
<rect x="1634.9" y="2247.7" width="12.0" height="250.7" fill="#f40000" stroke="#8a0000" stroke-width="1.5"/>
<line x1="1640.9" y1="2234.2" x2="1640.9" y2="2247.7" stroke="#444" stroke-width="2" stroke-linecap="butt"/>
<circle cx="1640.9" cy="2234.2" r="3.6" fill="#000"/>
<circle cx="1640.9" cy="2249.7" r="3.6" fill="#1a0000"/>
<circle cx="1640.9" cy="2256.7" r="3.4" fill="#2a0000"/>
<rect x="1652.7" y="2310.5" width="12.0" height="187.9" fill="#0000f4" stroke="#00008a" stroke-width="1.5"/>
<line x1="1658.7" y1="2292.1" x2="1658.7" y2="2310.5" stroke="#444" stroke-width="2" stroke-linecap="butt"/>
<circle cx="1658.7" cy="2292.1" r="3.6" fill="#000"/>
<circle cx="1658.7" cy="2312.5" r="3.6" fill="#00001a"/>
<circle cx="1658.7" cy="2319.5" r="3.4" fill="#00002a"/>
<line x1="1633.6" y1="2217.0" x2="1665.3" y2="2217.0" stroke="#444" stroke-width="3" stroke-linecap="butt"/>
<text x="1653.4" y="2217.0" font-size="24" fill="#1a1a1a" text-anchor="middle" font-weight="bold" letter-spacing="5">*</text>
<text x="1574.0" y="2196.6" font-size="25" fill="#1a1a1a" textLength="123.5" lengthAdjust="spacingAndGlyphs"><tspan font-style="italic">P</tspan> = 0.0109</text>
<line x1="1688.3" y1="2469.0" x2="1688.3" y2="2524.1" stroke="#444" stroke-width="2" stroke-linecap="butt"/>
<circle cx="1688.3" cy="2469.0" r="3.6" fill="#000"/>
<circle cx="1688.3" cy="2509.4" r="3.6" fill="#000"/>
<circle cx="1688.3" cy="2516.8" r="3.6" fill="#000"/>
<line x1="1705.9" y1="2459.9" x2="1705.9" y2="2535.1" stroke="#444" stroke-width="2" stroke-linecap="butt"/>
<circle cx="1705.9" cy="2472.7" r="3.6" fill="#000"/>
<circle cx="1705.9" cy="2476.4" r="3.6" fill="#000"/>
<circle cx="1705.9" cy="2535.1" r="3.6" fill="#000"/>
<rect x="1718.3" y="2313.4" width="12.0" height="185.0" fill="#f40000" stroke="#8a0000" stroke-width="1.5"/>
<line x1="1724.3" y1="2296.6" x2="1724.3" y2="2313.4" stroke="#444" stroke-width="2" stroke-linecap="butt"/>
<circle cx="1724.3" cy="2296.6" r="3.6" fill="#000"/>
<circle cx="1724.3" cy="2315.4" r="3.6" fill="#1a0000"/>
<circle cx="1724.3" cy="2322.4" r="3.4" fill="#2a0000"/>
<rect x="1736.1" y="2358.9" width="12.0" height="139.5" fill="#0000f4" stroke="#00008a" stroke-width="1.5"/>
<line x1="1742.1" y1="2347.9" x2="1742.1" y2="2358.9" stroke="#444" stroke-width="2" stroke-linecap="butt"/>
<circle cx="1742.1" cy="2347.9" r="3.6" fill="#000"/>
<circle cx="1742.1" cy="2360.9" r="3.6" fill="#00001a"/>
<circle cx="1742.1" cy="2367.9" r="3.4" fill="#00002a"/>
<line x1="1717.9" y1="2270.4" x2="1749.5" y2="2270.4" stroke="#8a8a8a" stroke-width="3" stroke-linecap="butt"/>
<text x="1737.7" y="2270.4" font-size="24" fill="#1a1a1a" text-anchor="middle" font-weight="bold" letter-spacing="5">*</text>
<text x="1665.3" y="2241.8" font-size="25" fill="#1a1a1a" textLength="123.5" lengthAdjust="spacingAndGlyphs"><tspan font-style="italic">P</tspan> = 0.0172</text>
<line x1="1771.7" y1="2476.4" x2="1771.7" y2="2524.1" stroke="#444" stroke-width="2" stroke-linecap="butt"/>
<circle cx="1771.7" cy="2483.7" r="3.6" fill="#000"/>
<circle cx="1771.7" cy="2487.4" r="3.6" fill="#000"/>
<circle cx="1771.7" cy="2524.1" r="3.6" fill="#000"/>
<line x1="1789.3" y1="2465.4" x2="1789.3" y2="2527.8" stroke="#444" stroke-width="2" stroke-linecap="butt"/>
<circle cx="1789.3" cy="2465.4" r="3.6" fill="#000"/>
<circle cx="1789.3" cy="2487.4" r="3.6" fill="#000"/>
<circle cx="1789.3" cy="2527.8" r="3.6" fill="#000"/>
<rect x="1801.7" y="2312.7" width="12.0" height="185.7" fill="#f40000" stroke="#8a0000" stroke-width="1.5"/>
<line x1="1807.7" y1="2299.5" x2="1807.7" y2="2312.7" stroke="#444" stroke-width="2" stroke-linecap="butt"/>
<circle cx="1807.7" cy="2299.5" r="3.6" fill="#000"/>
<circle cx="1807.7" cy="2314.7" r="3.6" fill="#1a0000"/>
<circle cx="1807.7" cy="2321.7" r="3.4" fill="#2a0000"/>
<rect x="1819.5" y="2356.0" width="12.0" height="142.4" fill="#0000f4" stroke="#00008a" stroke-width="1.5"/>
<line x1="1825.5" y1="2343.5" x2="1825.5" y2="2356.0" stroke="#444" stroke-width="2" stroke-linecap="butt"/>
<circle cx="1825.5" cy="2343.5" r="3.6" fill="#000"/>
<circle cx="1825.5" cy="2358.0" r="3.6" fill="#00001a"/>
<circle cx="1825.5" cy="2365.0" r="3.4" fill="#00002a"/>
<line x1="1801.7" y1="2284.0" x2="1833.7" y2="2284.0" stroke="#444" stroke-width="3" stroke-linecap="butt"/>
<text x="1821.7" y="2284.0" font-size="24" fill="#1a1a1a" text-anchor="middle" font-weight="bold" letter-spacing="5">**</text>
<text x="1754.8" y="2264.4" font-size="25" fill="#1a1a1a" textLength="123.5" lengthAdjust="spacingAndGlyphs"><tspan font-style="italic">P</tspan> = 0.0092</text>
<line x1="1855.1" y1="2469.0" x2="1855.1" y2="2524.1" stroke="#444" stroke-width="2" stroke-linecap="butt"/>
<circle cx="1855.1" cy="2469.0" r="3.6" fill="#000"/>
<circle cx="1855.1" cy="2509.4" r="3.6" fill="#000"/>
<circle cx="1855.1" cy="2516.8" r="3.6" fill="#000"/>
<line x1="1872.7" y1="2461.7" x2="1872.7" y2="2520.4" stroke="#444" stroke-width="2" stroke-linecap="butt"/>
<circle cx="1872.7" cy="2461.7" r="3.6" fill="#000"/>
<circle cx="1872.7" cy="2509.4" r="3.6" fill="#000"/>
<circle cx="1872.7" cy="2509.4" r="3.6" fill="#000"/>
<rect x="1885.1" y="2331.0" width="12.0" height="167.4" fill="#f40000" stroke="#8a0000" stroke-width="1.5"/>
<line x1="1891.1" y1="2318.6" x2="1891.1" y2="2331.0" stroke="#444" stroke-width="2" stroke-linecap="butt"/>
<circle cx="1891.1" cy="2318.6" r="3.6" fill="#000"/>
<circle cx="1891.1" cy="2333.0" r="3.6" fill="#1a0000"/>
<circle cx="1891.1" cy="2340.0" r="3.4" fill="#2a0000"/>
<rect x="1902.9" y="2394.9" width="12.0" height="103.5" fill="#0000f4" stroke="#00008a" stroke-width="1.5"/>
<line x1="1908.9" y1="2381.0" x2="1908.9" y2="2394.9" stroke="#444" stroke-width="2" stroke-linecap="butt"/>
<circle cx="1908.9" cy="2381.0" r="3.6" fill="#000"/>
<circle cx="1908.9" cy="2396.9" r="3.6" fill="#00001a"/>
<circle cx="1908.9" cy="2403.9" r="3.4" fill="#00002a"/>
<line x1="1883.0" y1="2284.0" x2="1915.0" y2="2284.0" stroke="#8a8a8a" stroke-width="3" stroke-linecap="butt"/>
<text x="1903.0" y="2284.0" font-size="24" fill="#1a1a1a" text-anchor="middle" font-weight="bold" letter-spacing="5">**</text>
<text x="1837.8" y="2242.6" font-size="25" fill="#1a1a1a" textLength="123.5" lengthAdjust="spacingAndGlyphs"><tspan font-style="italic">P</tspan> = 0.0030</text>
<line x1="1938.5" y1="2463.5" x2="1938.5" y2="2538.8" stroke="#444" stroke-width="2" stroke-linecap="butt"/>
<circle cx="1938.5" cy="2472.7" r="3.6" fill="#000"/>
<circle cx="1938.5" cy="2483.7" r="3.6" fill="#000"/>
<circle cx="1938.5" cy="2538.8" r="3.6" fill="#000"/>
<rect x="1950.1" y="2487.4" width="12.0" height="11.0" fill="#f2ea1d" stroke="#8b8b30" stroke-width="1"/>
<line x1="1956.1" y1="2461.7" x2="1956.1" y2="2509.4" stroke="#444" stroke-width="2" stroke-linecap="butt"/>
<circle cx="1956.1" cy="2461.7" r="3.6" fill="#000"/>
<circle cx="1956.1" cy="2483.7" r="3.6" fill="#000"/>
<circle cx="1956.1" cy="2509.4" r="3.6" fill="#000"/>
<rect x="1968.5" y="2285.9" width="12.0" height="212.5" fill="#f40000" stroke="#8a0000" stroke-width="1.5"/>
<line x1="1974.5" y1="2274.5" x2="1974.5" y2="2285.9" stroke="#444" stroke-width="2" stroke-linecap="butt"/>
<circle cx="1974.5" cy="2274.5" r="3.6" fill="#000"/>
<circle cx="1974.5" cy="2287.9" r="3.6" fill="#1a0000"/>
<circle cx="1974.5" cy="2294.9" r="3.4" fill="#2a0000"/>
<rect x="1986.3" y="2352.7" width="12.0" height="145.7" fill="#0000f4" stroke="#00008a" stroke-width="1.5"/>
<line x1="1992.3" y1="2343.5" x2="1992.3" y2="2352.7" stroke="#444" stroke-width="2" stroke-linecap="butt"/>
<circle cx="1992.3" cy="2343.5" r="3.6" fill="#000"/>
<circle cx="1992.3" cy="2354.7" r="3.6" fill="#00001a"/>
<circle cx="1992.3" cy="2361.7" r="3.4" fill="#00002a"/>
<line x1="1968.0" y1="2246.0" x2="2000.0" y2="2246.0" stroke="#8a8a8a" stroke-width="3" stroke-linecap="butt"/>
<text x="1988.0" y="2246.0" font-size="24" fill="#1a1a1a" text-anchor="middle" font-weight="bold" letter-spacing="5">**</text>
<text x="1907.7" y="2217.1" font-size="25" fill="#1a1a1a" textLength="123.5" lengthAdjust="spacingAndGlyphs"><tspan font-style="italic">P</tspan> = 0.0010</text>
<line x1="1496.5" y1="2571.8" x2="2004.2" y2="2571.8" stroke="#333" stroke-width="3" stroke-linecap="butt"/>
<line x1="1548.2" y1="2571.8" x2="1548.2" y2="2585.3" stroke="#555" stroke-width="3" stroke-linecap="butt"/>
<text x="0" y="0" font-size="27.5" fill="#1a1a1a" text-anchor="end" transform="translate(1556.2 2606.3) rotate(-45)">IL6</text>
<line x1="1631.6" y1="2571.8" x2="1631.6" y2="2585.3" stroke="#555" stroke-width="3" stroke-linecap="butt"/>
<text x="0" y="0" font-size="27.5" fill="#1a1a1a" text-anchor="end" transform="translate(1639.6 2606.3) rotate(-45)">CXCL8</text>
<line x1="1715.0" y1="2571.8" x2="1715.0" y2="2585.3" stroke="#555" stroke-width="3" stroke-linecap="butt"/>
<text x="0" y="0" font-size="27.5" fill="#1a1a1a" text-anchor="end" transform="translate(1723.0 2606.3) rotate(-45)">CSF2</text>
<line x1="1798.4" y1="2571.8" x2="1798.4" y2="2585.3" stroke="#555" stroke-width="3" stroke-linecap="butt"/>
<text x="0" y="0" font-size="27.5" fill="#1a1a1a" text-anchor="end" transform="translate(1806.4 2606.3) rotate(-45)">AREG</text>
<line x1="1881.8" y1="2571.8" x2="1881.8" y2="2585.3" stroke="#555" stroke-width="3" stroke-linecap="butt"/>
<text x="0" y="0" font-size="27.5" fill="#1a1a1a" text-anchor="end" transform="translate(1889.8 2606.3) rotate(-45)">MMP3</text>
<line x1="1965.2" y1="2571.8" x2="1965.2" y2="2585.3" stroke="#555" stroke-width="3" stroke-linecap="butt"/>
<text x="0" y="0" font-size="27.5" fill="#1a1a1a" text-anchor="end" transform="translate(1973.2 2606.3) rotate(-45)">CXCL1</text>
<rect x="1446.7" y="2145.5" width="45.2" height="20.1" fill="#fff" stroke="#3a3a3a" stroke-width="2.5"/>
<text x="1500.0" y="2165.0" font-size="27" fill="#1a1a1a" textLength="68.7" lengthAdjust="spacingAndGlyphs">CTRL</text>
<rect x="1608.6" y="2145.5" width="44.4" height="20.1" fill="#f2ea1d" stroke="#6b5a10" stroke-width="2.5"/>
<text x="1658.7" y="2165.0" font-size="27" fill="#1a1a1a" letter-spacing="-5">IN</text>
<rect x="1727.7" y="2145.5" width="44.4" height="20.1" fill="#f40000" stroke="#7a0000" stroke-width="2.5"/>
<text x="1780.3" y="2165.0" font-size="27" fill="#1a1a1a" textLength="57.5" lengthAdjust="spacingAndGlyphs">DOX</text>
<rect x="1874.0" y="2145.5" width="45.2" height="20.1" fill="#0000f4" stroke="#00007a" stroke-width="2.5"/>
<text x="1926.2" y="2165.0" font-size="27" fill="#1a1a1a" textLength="89.1" lengthAdjust="spacingAndGlyphs">DOX/IN</text>
<text x="0" y="0" font-size="26" fill="#1a1a1a" text-anchor="middle" textLength="411.0" lengthAdjust="spacingAndGlyphs" transform="translate(1449.0 2388.0) rotate(-90)">Log2 fold change relative to control</text>
<text x="1757.7" y="2709.2" font-size="25" fill="#1a1a1a" text-anchor="middle" textLength="76.0" lengthAdjust="spacingAndGlyphs">Genes</text>
<text x="1396.0" y="2103.0" font-size="60" fill="#000" font-weight="bold">i</text>
</svg>
</body></html>
